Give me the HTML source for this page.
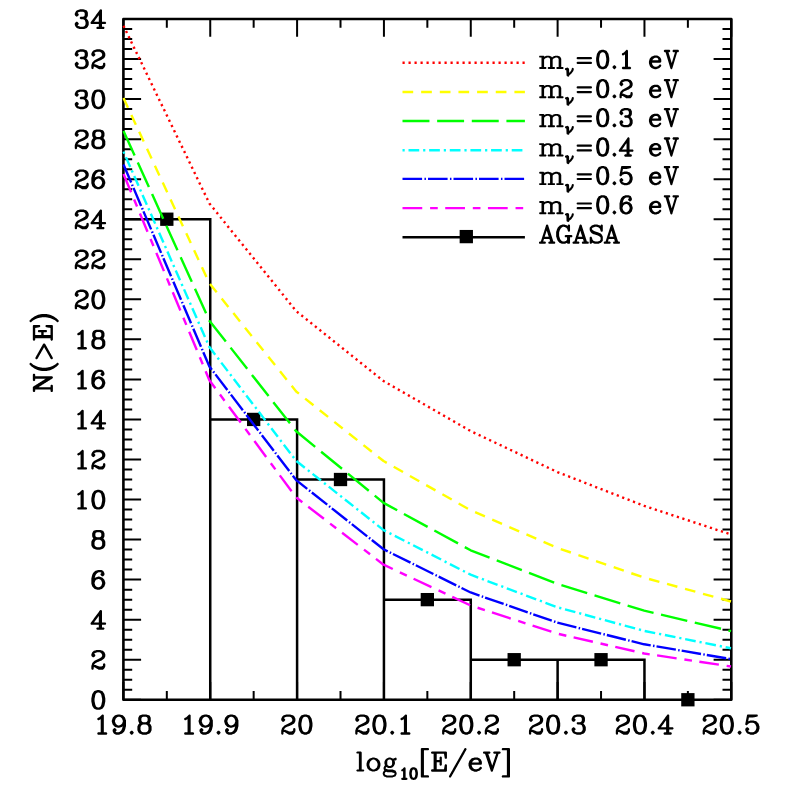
<!DOCTYPE html>
<html><head><meta charset="utf-8"><title>N(&gt;E) vs log10[E/eV]</title>
<style>html,body{margin:0;padding:0;background:#fff;font-family:"Liberation Sans",sans-serif}svg{display:block}</style>
</head><body>
<svg width="797" height="797" viewBox="0 0 797 797">
<rect width="797" height="797" fill="#fff"/>
<g>
<path d="M123.40 219.22L210.24 219.22L210.24 699.75M210.24 419.44L297.09 419.44L297.09 699.75M297.09 479.51L383.93 479.51L383.93 699.75M383.93 599.64L470.77 599.64L470.77 699.75M470.77 659.71L557.61 659.71L557.61 699.75M557.61 659.71L644.46 659.71L644.46 699.75" fill="none" stroke="#000" stroke-width="2.5" stroke-linejoin="miter"/>
<rect x="123.4" y="19.0" width="607.9" height="680.75" fill="none" stroke="#000" stroke-width="2.6" stroke-linejoin="round"/>
<path d="M123.40 699.75v-17.7M123.40 19.0v17.7M166.82 699.75v-8.8M166.82 19.0v8.8M210.24 699.75v-17.7M210.24 19.0v17.7M253.66 699.75v-8.8M253.66 19.0v8.8M297.09 699.75v-17.7M297.09 19.0v17.7M340.51 699.75v-8.8M340.51 19.0v8.8M383.93 699.75v-17.7M383.93 19.0v17.7M427.35 699.75v-8.8M427.35 19.0v8.8M470.77 699.75v-17.7M470.77 19.0v17.7M514.19 699.75v-8.8M514.19 19.0v8.8M557.61 699.75v-17.7M557.61 19.0v17.7M601.04 699.75v-8.8M601.04 19.0v8.8M644.46 699.75v-17.7M644.46 19.0v17.7M687.88 699.75v-8.8M687.88 19.0v8.8M731.30 699.75v-17.7M731.30 19.0v17.7M123.4 699.75h17.7M731.3 699.75h-17.7M123.4 689.74h8.8M731.3 689.74h-8.8M123.4 679.73h8.8M731.3 679.73h-8.8M123.4 669.72h8.8M731.3 669.72h-8.8M123.4 659.71h17.7M731.3 659.71h-17.7M123.4 649.69h8.8M731.3 649.69h-8.8M123.4 639.68h8.8M731.3 639.68h-8.8M123.4 629.67h8.8M731.3 629.67h-8.8M123.4 619.66h17.7M731.3 619.66h-17.7M123.4 609.65h8.8M731.3 609.65h-8.8M123.4 599.64h8.8M731.3 599.64h-8.8M123.4 589.63h8.8M731.3 589.63h-8.8M123.4 579.62h17.7M731.3 579.62h-17.7M123.4 569.61h8.8M731.3 569.61h-8.8M123.4 559.60h8.8M731.3 559.60h-8.8M123.4 549.58h8.8M731.3 549.58h-8.8M123.4 539.57h17.7M731.3 539.57h-17.7M123.4 529.56h8.8M731.3 529.56h-8.8M123.4 519.55h8.8M731.3 519.55h-8.8M123.4 509.54h8.8M731.3 509.54h-8.8M123.4 499.53h17.7M731.3 499.53h-17.7M123.4 489.52h8.8M731.3 489.52h-8.8M123.4 479.51h8.8M731.3 479.51h-8.8M123.4 469.50h8.8M731.3 469.50h-8.8M123.4 459.49h17.7M731.3 459.49h-17.7M123.4 449.47h8.8M731.3 449.47h-8.8M123.4 439.46h8.8M731.3 439.46h-8.8M123.4 429.45h8.8M731.3 429.45h-8.8M123.4 419.44h17.7M731.3 419.44h-17.7M123.4 409.43h8.8M731.3 409.43h-8.8M123.4 399.42h8.8M731.3 399.42h-8.8M123.4 389.41h8.8M731.3 389.41h-8.8M123.4 379.40h17.7M731.3 379.40h-17.7M123.4 369.39h8.8M731.3 369.39h-8.8M123.4 359.38h8.8M731.3 359.38h-8.8M123.4 349.36h8.8M731.3 349.36h-8.8M123.4 339.35h17.7M731.3 339.35h-17.7M123.4 329.34h8.8M731.3 329.34h-8.8M123.4 319.33h8.8M731.3 319.33h-8.8M123.4 309.32h8.8M731.3 309.32h-8.8M123.4 299.31h17.7M731.3 299.31h-17.7M123.4 289.30h8.8M731.3 289.30h-8.8M123.4 279.29h8.8M731.3 279.29h-8.8M123.4 269.28h8.8M731.3 269.28h-8.8M123.4 259.26h17.7M731.3 259.26h-17.7M123.4 249.25h8.8M731.3 249.25h-8.8M123.4 239.24h8.8M731.3 239.24h-8.8M123.4 229.23h8.8M731.3 229.23h-8.8M123.4 219.22h17.7M731.3 219.22h-17.7M123.4 209.21h8.8M731.3 209.21h-8.8M123.4 199.20h8.8M731.3 199.20h-8.8M123.4 189.19h8.8M731.3 189.19h-8.8M123.4 179.18h17.7M731.3 179.18h-17.7M123.4 169.17h8.8M731.3 169.17h-8.8M123.4 159.15h8.8M731.3 159.15h-8.8M123.4 149.14h8.8M731.3 149.14h-8.8M123.4 139.13h17.7M731.3 139.13h-17.7M123.4 129.12h8.8M731.3 129.12h-8.8M123.4 119.11h8.8M731.3 119.11h-8.8M123.4 109.10h8.8M731.3 109.10h-8.8M123.4 99.09h17.7M731.3 99.09h-17.7M123.4 89.08h8.8M731.3 89.08h-8.8M123.4 79.07h8.8M731.3 79.07h-8.8M123.4 69.06h8.8M731.3 69.06h-8.8M123.4 59.04h17.7M731.3 59.04h-17.7M123.4 49.03h8.8M731.3 49.03h-8.8M123.4 39.02h8.8M731.3 39.02h-8.8M123.4 29.01h8.8M731.3 29.01h-8.8M123.4 19.00h17.7M731.3 19.00h-17.7" fill="none" stroke="#000" stroke-width="2.0"/>
<rect x="160.17" y="212.57" width="13.3" height="13.3" fill="#000"/>
<rect x="247.01" y="412.79" width="13.3" height="13.3" fill="#000"/>
<rect x="333.86" y="472.86" width="13.3" height="13.3" fill="#000"/>
<rect x="420.70" y="592.99" width="13.3" height="13.3" fill="#000"/>
<rect x="507.54" y="653.06" width="13.3" height="13.3" fill="#000"/>
<rect x="594.39" y="653.06" width="13.3" height="13.3" fill="#000"/>
<rect x="681.23" y="693.10" width="13.3" height="13.3" fill="#000"/>
<polyline points="123.50,25.80 209.39,203.43 296.17,311.04 383.56,381.05 470.64,431.06 557.43,472.07 644.21,505.87 731.00,534.48" fill="none" stroke="#ff0000" stroke-width="2.4" stroke-dasharray="2.2 3.6" stroke-linecap="butt" stroke-linejoin="round"/>
<polyline points="123.50,98.01 209.39,283.24 296.17,391.45 383.56,461.06 470.64,510.27 557.43,547.88 644.21,577.68 731.00,601.49" fill="none" stroke="#ffff00" stroke-width="2.4" stroke-dasharray="10.7 7.95" stroke-linecap="butt" stroke-linejoin="round"/>
<polyline points="123.50,131.01 209.39,320.64 296.17,431.26 383.56,502.87 470.64,550.28 557.43,583.88 644.21,610.69 731.00,631.09" fill="none" stroke="#00ff00" stroke-width="2.4" stroke-dasharray="26.95 7.69" stroke-linecap="butt" stroke-linejoin="round"/>
<polyline points="123.50,151.62 209.39,347.05 296.17,460.86 383.56,530.07 470.64,574.68 557.43,607.29 644.21,630.89 731.00,648.29" fill="none" stroke="#00ffff" stroke-width="2.4" stroke-dasharray="2.2 3.8 10.72 3.92" stroke-linecap="butt" stroke-linejoin="round"/>
<polyline points="123.50,164.42 209.39,366.45 296.17,480.07 383.56,549.28 470.64,592.48 557.43,622.69 644.21,644.29 731.00,659.09" fill="none" stroke="#0000ff" stroke-width="2.4" stroke-dasharray="19.6 2.35 1.5 2.05" stroke-linecap="butt" stroke-linejoin="round"/>
<polyline points="123.50,174.02 209.39,380.25 296.17,497.47 383.56,564.68 470.64,605.49 557.43,633.69 644.21,653.49 731.00,666.50" fill="none" stroke="#ff00ff" stroke-width="2.4" stroke-dasharray="19.75 7.85 7.65 7.47" stroke-linecap="butt" stroke-linejoin="round"/>
<line x1="402.5" y1="62.8" x2="524.9" y2="62.8" stroke="#ff0000" stroke-width="2.4" stroke-dasharray="2.2 3.8" stroke-linecap="butt"/>
<line x1="402.5" y1="92.0" x2="524.9" y2="92.0" stroke="#ffff00" stroke-width="2.4" stroke-dasharray="10.7 7.95" stroke-linecap="butt"/>
<line x1="402.5" y1="121.0" x2="524.9" y2="121.0" stroke="#00ff00" stroke-width="2.4" stroke-dasharray="26.95 7.69" stroke-linecap="butt"/>
<line x1="402.5" y1="150.3" x2="524.9" y2="150.3" stroke="#00ffff" stroke-width="2.4" stroke-dasharray="2.2 3.8 10.72 3.92" stroke-linecap="butt"/>
<line x1="402.5" y1="178.9" x2="524.9" y2="178.9" stroke="#0000ff" stroke-width="2.4" stroke-dasharray="19.6 2.35 1.5 2.05" stroke-linecap="butt"/>
<line x1="402.5" y1="208.1" x2="524.9" y2="208.1" stroke="#ff00ff" stroke-width="2.4" stroke-dasharray="19.75 7.85 7.65 7.47" stroke-linecap="butt"/>
<line x1="402.5" y1="237.3" x2="524.9" y2="237.3" stroke="#000" stroke-width="2.4"/>
<rect x="459.65" y="229.95" width="13.3" height="13.3" fill="#000"/>
</g>
<g fill="#000" fill-rule="evenodd" stroke="none">
<path d="M97.22 690.06L97.16 690.13L96.95 690.13L96.74 690.27L96.60 690.27L96.53 690.34L96.39 690.34L96.33 690.41L96.19 690.41L96.12 690.47L95.98 690.47L94.46 691.03L93.97 691.44L92.45 693.73L92.11 694.56L92.11 694.83L92.04 694.90L92.04 695.18L91.97 695.25L91.97 695.52L91.90 695.59L91.90 695.87L91.83 695.94L91.83 696.22L91.76 696.28L91.76 696.56L91.69 696.63L91.69 696.91L91.62 696.98L91.62 697.25L91.55 697.32L91.55 697.60L91.48 697.67L91.48 697.94L91.41 698.01L91.41 698.29L91.34 698.36L91.34 701.54L91.41 701.61L91.41 701.89L91.48 701.96L91.48 702.23L91.55 702.30L91.55 702.58L91.62 702.65L91.62 702.92L91.69 702.99L91.69 703.27L91.76 703.34L91.76 703.62L91.83 703.69L91.83 703.96L91.90 704.03L91.90 704.31L91.97 704.38L91.97 704.65L92.04 704.72L92.04 705.00L92.11 705.07L92.11 705.35L92.17 705.41L92.24 705.76L92.45 706.18L93.97 708.46L94.46 708.87L94.73 709.01L96.74 709.63L96.95 709.77L97.22 709.77L97.29 709.84L99.37 709.84L99.44 709.77L99.71 709.77L99.92 709.63L100.06 709.63L100.13 709.56L100.27 709.56L100.34 709.50L100.47 709.50L100.54 709.43L100.68 709.43L102.20 708.87L102.69 708.46L104.21 706.18L104.56 705.35L104.56 705.07L104.62 705.00L104.62 704.72L104.69 704.65L104.69 704.38L104.76 704.31L104.76 704.03L104.83 703.96L104.83 703.69L104.90 703.62L104.90 703.34L104.97 703.27L104.97 702.99L105.04 702.92L105.04 702.65L105.11 702.58L105.11 702.30L105.18 702.23L105.18 701.96L105.25 701.89L105.25 701.61L105.32 701.54L105.32 698.36L105.25 698.29L105.25 698.01L105.18 697.94L105.18 697.67L105.11 697.60L105.11 697.32L105.04 697.25L105.04 696.98L104.97 696.91L104.97 696.63L104.90 696.56L104.90 696.28L104.83 696.22L104.83 695.94L104.76 695.87L104.76 695.59L104.69 695.52L104.69 695.25L104.62 695.18L104.62 694.90L104.56 694.83L104.56 694.56L104.49 694.49L104.42 694.14L104.21 693.73L102.69 691.44L102.20 691.03L101.93 690.89L99.92 690.27L99.71 690.13L99.44 690.13L99.37 690.06ZM97.78 692.41L98.88 692.41L99.99 692.96L100.61 693.52L101.37 695.04L101.44 695.59L101.51 695.66L101.51 695.94L101.58 696.01L101.58 696.28L101.65 696.35L101.65 696.63L101.72 696.70L101.72 696.98L101.79 697.05L101.79 697.32L101.86 697.39L101.86 697.67L101.93 697.74L101.93 698.01L102.00 698.08L102.00 698.36L102.07 698.43L102.07 698.71L102.14 698.77L102.14 701.13L102.07 701.20L102.07 701.47L102.00 701.54L102.00 701.82L101.93 701.89L101.93 702.16L101.86 702.23L101.86 702.51L101.79 702.58L101.79 702.86L101.72 702.92L101.72 703.20L101.65 703.27L101.65 703.55L101.58 703.62L101.58 703.89L101.51 703.96L101.51 704.24L101.44 704.31L101.44 704.58L101.37 704.65L101.31 705.07L100.61 706.38L99.99 706.94L98.88 707.49L97.78 707.49L96.67 706.94L96.05 706.38L95.29 704.86L95.22 704.31L95.15 704.24L95.15 703.96L95.08 703.89L95.08 703.62L95.01 703.55L95.01 703.27L94.94 703.20L94.94 702.92L94.87 702.86L94.87 702.58L94.80 702.51L94.80 702.23L94.73 702.16L94.73 701.89L94.67 701.82L94.67 701.54L94.60 701.47L94.60 701.20L94.53 701.13L94.53 698.77L94.60 698.71L94.60 698.43L94.67 698.36L94.67 698.08L94.73 698.01L94.73 697.74L94.80 697.67L94.80 697.39L94.87 697.32L94.87 697.05L94.94 696.98L94.94 696.70L95.01 696.63L95.01 696.35L95.08 696.28L95.08 696.01L95.15 695.94L95.15 695.66L95.22 695.59L95.22 695.32L95.29 695.25L95.36 694.83L96.05 693.52L96.67 692.96Z"/>
<path d="M93.90 650.85L93.35 651.19L92.24 652.37L91.48 653.89L91.41 654.30L91.34 654.37L91.34 655.48L91.41 655.55L91.48 655.89L91.69 656.17L92.80 657.21L93.14 657.28L93.21 657.35L93.49 657.35L93.56 657.28L93.90 657.21L95.01 656.17L95.29 655.76L95.29 655.55L95.36 655.48L95.29 654.93L95.01 654.51L94.25 653.75L94.39 653.47L94.94 652.99L95.08 652.99L96.60 652.44L96.81 652.44L96.88 652.37L99.71 652.37L101.03 653.06L101.58 653.68L102.14 654.79L102.14 655.89L101.65 656.86L101.31 657.21L99.30 658.52L94.53 660.87L94.25 661.08L92.52 662.81L92.17 663.36L92.17 663.50L92.11 663.57L92.11 663.71L92.04 663.78L92.04 663.92L91.97 663.99L91.97 664.13L91.41 665.65L91.41 665.92L91.34 665.99L91.34 668.76L91.41 668.83L91.41 669.04L91.48 669.17L92.11 669.73L92.66 669.80L92.73 669.73L93.07 669.66L93.63 669.04L93.63 668.83L93.70 668.76L93.70 667.45L93.83 667.31L94.67 667.31L95.29 667.65L95.43 667.79L95.63 667.86L95.77 668.00L95.98 668.07L96.12 668.21L96.33 668.28L96.46 668.41L96.67 668.48L96.81 668.62L97.02 668.69L97.16 668.83L97.36 668.90L97.50 669.04L97.71 669.11L97.85 669.24L98.05 669.31L98.19 669.45L98.40 669.52L98.54 669.66L98.68 669.66L98.75 669.73L98.95 669.73L99.02 669.80L102.62 669.80L102.69 669.73L102.90 669.73L103.24 669.52L104.42 668.28L105.18 666.75L105.18 666.62L105.32 666.34L105.32 664.33L105.25 664.26L105.18 663.92L104.69 663.43L104.35 663.36L104.28 663.30L104.00 663.30L103.93 663.36L103.59 663.43L103.03 664.06L103.03 664.26L102.97 664.33L102.97 665.65L102.48 666.06L101.37 666.62L99.37 666.62L99.16 666.48L99.02 666.48L98.81 666.34L98.68 666.34L98.47 666.20L98.33 666.20L98.12 666.06L97.98 666.06L97.78 665.92L97.64 665.92L97.43 665.79L97.29 665.79L97.09 665.65L96.95 665.65L96.74 665.51L96.60 665.51L95.70 665.09L95.29 665.02L95.22 664.96L94.25 664.96L94.18 664.82L94.39 664.26L95.63 663.02L95.84 662.88L97.57 662.05L97.71 662.05L97.92 661.91L98.05 661.91L98.26 661.77L98.40 661.77L98.61 661.64L98.75 661.64L98.95 661.50L99.09 661.50L99.30 661.36L99.44 661.36L99.64 661.22L99.78 661.22L99.99 661.08L100.13 661.08L100.34 660.94L100.47 660.94L100.68 660.81L101.17 660.67L103.93 658.87L104.42 658.32L105.25 656.59L105.25 656.38L105.32 656.31L105.32 654.37L105.25 654.30L105.18 653.89L104.42 652.37L103.31 651.19L102.76 650.85L100.75 650.22L100.54 650.08L100.27 650.08L100.20 650.02L96.53 650.02L96.46 650.08L96.19 650.08L96.12 650.15Z"/>
<path d="M101.03 609.97L100.61 609.97L100.54 610.04L100.41 610.04L100.13 610.18L99.78 610.52L99.16 611.35L99.02 611.63L98.40 612.39L98.26 612.67L97.64 613.43L97.50 613.71L96.88 614.47L96.74 614.74L96.12 615.50L95.98 615.78L95.36 616.54L95.22 616.82L94.60 617.58L94.46 617.86L93.83 618.62L93.70 618.89L93.07 619.65L92.94 619.93L92.31 620.69L92.17 620.97L91.55 621.73L91.41 622.01L90.79 622.77L90.52 623.46L90.52 623.74L90.58 623.80L90.65 624.15L91.14 624.63L91.48 624.70L91.55 624.77L98.75 624.77L98.81 624.84L98.81 627.33L98.75 627.40L97.36 627.40L97.29 627.47L97.09 627.47L96.95 627.54L96.39 628.16L96.33 628.72L96.39 628.78L96.46 629.13L96.95 629.61L97.29 629.68L97.36 629.75L103.45 629.75L103.52 629.68L103.86 629.61L104.42 628.99L104.42 628.78L104.49 628.72L104.42 628.16L104.35 628.02L103.73 627.47L103.52 627.47L103.45 627.40L102.07 627.40L102.00 627.33L102.00 624.84L102.07 624.77L105.11 624.77L105.18 624.70L105.39 624.70L106.01 624.15L106.08 623.80L106.15 623.74L106.15 623.46L106.08 623.39L106.01 623.04L105.39 622.49L105.18 622.49L105.11 622.42L102.07 622.42L102.00 622.35L102.00 610.94L101.79 610.46L101.51 610.18ZM98.75 615.99L98.81 616.06L98.81 622.35L98.75 622.42L94.18 622.42L94.11 622.28L94.87 621.31L95.01 621.04L95.63 620.28L95.77 620.00L96.39 619.24L96.53 618.96L97.16 618.20L97.29 617.93Z"/>
<path d="M100.96 569.93L98.12 569.93L98.05 570.00L97.78 570.00L97.57 570.13L95.56 570.76L95.08 571.03L93.07 573.11L92.17 574.98L92.17 575.18L92.11 575.25L92.11 575.46L92.04 575.53L92.04 575.74L91.97 575.81L91.97 576.01L91.90 576.08L91.90 576.29L91.83 576.36L91.83 576.57L91.76 576.64L91.76 576.84L91.69 576.91L91.48 577.95L91.34 578.23L91.41 578.37L91.34 578.43L91.34 583.69L91.41 583.76L91.41 584.04L91.48 584.11L91.48 584.24L91.55 584.31L91.55 584.45L91.62 584.52L91.62 584.66L91.69 584.73L91.69 584.87L91.76 584.94L91.76 585.07L92.31 586.60L92.52 586.87L94.18 588.53L94.73 588.88L96.74 589.50L96.95 589.64L97.22 589.64L97.29 589.71L99.37 589.71L99.44 589.64L99.71 589.64L99.92 589.50L101.93 588.88L102.41 588.60L104.14 586.87L104.49 586.32L104.49 586.18L104.56 586.11L104.56 585.97L104.62 585.90L104.62 585.77L104.69 585.70L104.69 585.56L105.25 584.04L105.25 583.76L105.32 583.69L105.32 582.58L105.25 582.52L105.25 582.24L105.18 582.17L105.18 582.03L105.11 581.96L105.11 581.82L105.04 581.75L105.04 581.62L104.97 581.55L104.97 581.41L104.90 581.34L104.90 581.20L104.35 579.68L104.14 579.40L102.48 577.74L101.93 577.40L99.92 576.77L99.71 576.64L99.44 576.64L99.37 576.57L98.19 576.57L98.12 576.64L97.85 576.64L97.78 576.71L95.56 577.40L95.08 577.67L94.80 577.95L94.73 577.88L95.29 575.67L96.05 574.22L97.29 572.97L98.61 572.28L100.54 572.28L101.37 572.69L101.51 572.83L101.51 572.90L100.61 573.87L100.54 574.22L100.47 574.28L100.47 574.56L100.54 574.63L100.54 574.84L100.82 575.25L101.93 576.29L102.27 576.36L102.34 576.43L102.90 576.36L103.24 576.15L104.14 575.25L104.35 574.98L104.42 574.63L104.49 574.56L104.49 573.45L104.42 573.39L104.35 572.97L103.59 571.45L102.97 570.83L101.44 570.07L101.03 570.00ZM98.88 578.92L100.20 579.61L101.44 580.86L101.79 581.96L101.86 582.03L101.86 582.17L101.93 582.24L101.93 582.38L102.00 582.45L102.00 582.58L102.07 582.65L102.14 583.35L102.07 583.41L102.07 583.62L102.00 583.69L102.00 583.83L101.93 583.90L101.93 584.04L101.86 584.11L101.86 584.24L101.79 584.31L101.44 585.42L100.20 586.67L98.88 587.36L97.78 587.36L96.46 586.67L95.22 585.42L94.87 584.31L94.80 584.24L94.80 584.11L94.73 584.04L94.73 583.90L94.67 583.83L94.67 583.69L94.60 583.62L94.53 582.93L94.60 582.86L94.60 582.65L94.67 582.58L94.67 582.45L94.73 582.38L94.73 582.24L94.80 582.17L94.80 582.03L94.87 581.96L95.22 580.86L96.46 579.61L97.57 579.26L97.64 579.20L97.78 579.20L97.85 579.13L97.98 579.13L98.05 579.06L98.19 579.06L98.26 578.99Z"/>
<path d="M96.39 529.88L96.33 529.95L96.12 529.95L95.91 530.09L95.77 530.09L95.70 530.16L95.56 530.16L95.50 530.23L95.36 530.23L95.29 530.30L95.15 530.30L93.63 530.85L93.07 531.40L92.24 533.13L92.24 533.34L92.17 533.41L92.17 536.18L92.24 536.25L92.31 536.66L93.07 538.18L93.35 538.53L92.24 539.70L91.41 541.43L91.41 541.64L91.34 541.71L91.34 545.31L91.41 545.38L91.48 545.79L92.24 547.31L93.35 548.49L93.90 548.83L95.91 549.46L96.12 549.60L96.39 549.60L96.46 549.66L100.20 549.66L100.27 549.60L100.54 549.60L100.75 549.46L102.76 548.83L103.24 548.56L104.42 547.31L105.18 545.79L105.25 545.38L105.32 545.31L105.32 541.71L105.25 541.64L105.25 541.43L104.42 539.70L103.31 538.53L103.31 538.46L103.59 538.18L104.35 536.66L104.42 536.25L104.49 536.18L104.49 533.41L104.42 533.34L104.35 532.93L103.59 531.40L103.03 530.85L102.76 530.71L100.75 530.09L100.54 529.95L100.27 529.95L100.20 529.88ZM96.95 539.70L99.71 539.70L101.03 540.40L101.58 541.02L102.14 542.13L102.14 544.89L101.44 546.21L100.82 546.76L99.71 547.31L96.95 547.31L95.63 546.62L95.08 546.00L94.53 544.89L94.53 542.13L95.22 540.81L95.84 540.26ZM95.84 532.86L95.98 532.72L96.95 532.23L99.71 532.23L100.68 532.72L100.82 532.86L101.31 533.83L101.31 535.76L100.82 536.73L100.68 536.87L99.71 537.35L96.95 537.35L95.98 536.87L95.84 536.73L95.36 535.76L95.36 533.83Z"/>
<path d="M97.22 489.84L97.16 489.91L96.95 489.91L96.74 490.05L96.60 490.05L96.53 490.12L96.39 490.12L96.33 490.18L96.19 490.18L96.12 490.25L95.98 490.25L94.46 490.81L93.97 491.22L92.45 493.50L92.11 494.33L92.11 494.61L92.04 494.68L92.04 494.96L91.97 495.03L91.97 495.30L91.90 495.37L91.90 495.65L91.83 495.72L91.83 495.99L91.76 496.06L91.76 496.34L91.69 496.41L91.69 496.69L91.62 496.76L91.62 497.03L91.55 497.10L91.55 497.38L91.48 497.45L91.48 497.72L91.41 497.79L91.41 498.07L91.34 498.14L91.34 501.32L91.41 501.39L91.41 501.67L91.48 501.74L91.48 502.01L91.55 502.08L91.55 502.36L91.62 502.43L91.62 502.70L91.69 502.77L91.69 503.05L91.76 503.12L91.76 503.40L91.83 503.46L91.83 503.74L91.90 503.81L91.90 504.09L91.97 504.16L91.97 504.43L92.04 504.50L92.04 504.78L92.11 504.85L92.11 505.12L92.18 505.19L92.24 505.54L92.45 505.95L93.97 508.24L94.46 508.65L94.73 508.79L96.74 509.41L96.95 509.55L97.22 509.55L97.29 509.62L99.37 509.62L99.44 509.55L99.71 509.55L99.92 509.41L100.06 509.41L100.13 509.34L100.27 509.34L100.34 509.27L100.48 509.27L100.54 509.21L100.68 509.21L102.20 508.65L102.69 508.24L104.21 505.95L104.56 505.12L104.56 504.85L104.62 504.78L104.62 504.50L104.69 504.43L104.69 504.16L104.76 504.09L104.76 503.81L104.83 503.74L104.83 503.46L104.90 503.40L104.90 503.12L104.97 503.05L104.97 502.77L105.04 502.70L105.04 502.43L105.11 502.36L105.11 502.08L105.18 502.01L105.18 501.74L105.25 501.67L105.25 501.39L105.32 501.32L105.32 498.14L105.25 498.07L105.25 497.79L105.18 497.72L105.18 497.45L105.11 497.38L105.11 497.10L105.04 497.03L105.04 496.76L104.97 496.69L104.97 496.41L104.90 496.34L104.90 496.06L104.83 495.99L104.83 495.72L104.76 495.65L104.76 495.37L104.69 495.30L104.69 495.03L104.62 494.96L104.62 494.68L104.56 494.61L104.56 494.33L104.49 494.27L104.42 493.92L104.21 493.50L102.69 491.22L102.20 490.81L101.93 490.67L99.92 490.05L99.71 489.91L99.44 489.91L99.37 489.84ZM97.78 492.19L98.88 492.19L99.99 492.74L100.61 493.30L101.37 494.82L101.44 495.37L101.51 495.44L101.51 495.72L101.58 495.79L101.58 496.06L101.65 496.13L101.65 496.41L101.72 496.48L101.72 496.76L101.79 496.82L101.79 497.10L101.86 497.17L101.86 497.45L101.93 497.52L101.93 497.79L102.00 497.86L102.00 498.14L102.07 498.21L102.07 498.48L102.14 498.55L102.14 500.91L102.07 500.97L102.07 501.25L102.00 501.32L102.00 501.60L101.93 501.67L101.93 501.94L101.86 502.01L101.86 502.29L101.79 502.36L101.79 502.63L101.72 502.70L101.72 502.98L101.65 503.05L101.65 503.33L101.58 503.40L101.58 503.67L101.51 503.74L101.51 504.02L101.44 504.09L101.44 504.36L101.37 504.43L101.31 504.85L100.61 506.16L99.99 506.72L98.88 507.27L97.78 507.27L96.67 506.72L96.05 506.16L95.29 504.64L95.22 504.09L95.15 504.02L95.15 503.74L95.08 503.67L95.08 503.40L95.01 503.33L95.01 503.05L94.94 502.98L94.94 502.70L94.87 502.63L94.87 502.36L94.80 502.29L94.80 502.01L94.73 501.94L94.73 501.67L94.67 501.60L94.67 501.32L94.60 501.25L94.60 500.97L94.53 500.91L94.53 498.55L94.60 498.48L94.60 498.21L94.67 498.14L94.67 497.86L94.73 497.79L94.73 497.52L94.80 497.45L94.80 497.17L94.87 497.10L94.87 496.82L94.94 496.76L94.94 496.48L95.01 496.41L95.01 496.13L95.08 496.06L95.08 495.79L95.15 495.72L95.15 495.44L95.22 495.37L95.22 495.10L95.29 495.03L95.36 494.61L96.05 493.30L96.67 492.74ZM82.70 489.84L82.15 489.91L81.73 490.18L79.45 492.47L77.93 493.23L77.37 493.78L77.30 494.13L77.23 494.20L77.23 494.47L77.30 494.54L77.37 494.89L77.86 495.37L78.20 495.44L78.27 495.51L78.55 495.51L78.62 495.44L79.03 495.37L80.49 494.61L80.56 494.68L80.56 507.20L80.49 507.27L78.27 507.27L78.20 507.34L77.86 507.41L77.37 507.89L77.30 508.24L77.23 508.31L77.23 508.58L77.30 508.65L77.37 509.00L77.86 509.48L78.20 509.55L78.27 509.62L86.02 509.62L86.09 509.55L86.43 509.48L86.92 509.00L86.99 508.65L87.06 508.58L87.06 508.31L86.99 508.24L86.92 507.89L86.30 507.34L86.09 507.34L86.02 507.27L83.81 507.27L83.74 507.20L83.74 490.88L83.67 490.81L83.60 490.46L83.11 489.98L82.77 489.91Z"/>
<path d="M93.90 450.62L93.35 450.97L92.24 452.15L91.48 453.67L91.41 454.08L91.34 454.15L91.34 455.26L91.41 455.33L91.48 455.67L91.69 455.95L92.80 456.99L93.14 457.06L93.21 457.13L93.49 457.13L93.56 457.06L93.90 456.99L95.01 455.95L95.29 455.54L95.29 455.33L95.36 455.26L95.29 454.71L95.01 454.29L94.25 453.53L94.39 453.25L94.94 452.77L95.08 452.77L96.60 452.22L96.81 452.22L96.88 452.15L99.71 452.15L101.03 452.84L101.58 453.46L102.14 454.57L102.14 455.67L101.65 456.64L101.31 456.99L99.30 458.30L94.53 460.65L94.25 460.86L92.52 462.59L92.18 463.14L92.18 463.28L92.11 463.35L92.11 463.49L92.04 463.56L92.04 463.70L91.97 463.77L91.97 463.90L91.41 465.43L91.41 465.70L91.34 465.77L91.34 468.54L91.41 468.61L91.41 468.82L91.48 468.95L92.11 469.51L92.66 469.58L92.73 469.51L93.07 469.44L93.63 468.82L93.63 468.61L93.70 468.54L93.70 467.22L93.84 467.09L94.67 467.09L95.29 467.43L95.43 467.57L95.63 467.64L95.77 467.78L95.98 467.85L96.12 467.99L96.33 468.05L96.46 468.19L96.67 468.26L96.81 468.40L97.02 468.47L97.16 468.61L97.36 468.68L97.50 468.82L97.71 468.88L97.85 469.02L98.05 469.09L98.19 469.23L98.40 469.30L98.54 469.44L98.68 469.44L98.75 469.51L98.95 469.51L99.02 469.58L102.62 469.58L102.69 469.51L102.90 469.51L103.24 469.30L104.42 468.05L105.18 466.53L105.18 466.39L105.32 466.12L105.32 464.11L105.25 464.04L105.18 463.70L104.69 463.21L104.35 463.14L104.28 463.07L104.00 463.07L103.93 463.14L103.59 463.21L103.03 463.84L103.03 464.04L102.97 464.11L102.97 465.43L102.48 465.84L101.37 466.39L99.37 466.39L99.16 466.26L99.02 466.26L98.81 466.12L98.68 466.12L98.47 465.98L98.33 465.98L98.12 465.84L97.98 465.84L97.78 465.70L97.64 465.70L97.43 465.56L97.29 465.56L97.09 465.43L96.95 465.43L96.74 465.29L96.60 465.29L95.70 464.87L95.29 464.80L95.22 464.73L94.25 464.73L94.18 464.60L94.39 464.04L95.63 462.80L95.84 462.66L97.57 461.83L97.71 461.83L97.92 461.69L98.05 461.69L98.26 461.55L98.40 461.55L98.61 461.41L98.75 461.41L98.95 461.28L99.09 461.28L99.30 461.14L99.44 461.14L99.65 461.00L99.78 461.00L99.99 460.86L100.13 460.86L100.34 460.72L100.48 460.72L100.68 460.58L101.17 460.45L103.93 458.65L104.42 458.09L105.25 456.37L105.25 456.16L105.32 456.09L105.32 454.15L105.25 454.08L105.18 453.67L104.42 452.15L103.31 450.97L102.76 450.62L100.75 450.00L100.54 449.86L100.27 449.86L100.20 449.79L96.53 449.79L96.46 449.86L96.19 449.86L96.12 449.93ZM82.70 449.79L82.15 449.86L81.73 450.14L79.45 452.42L77.93 453.18L77.37 453.74L77.30 454.08L77.23 454.15L77.23 454.43L77.30 454.50L77.37 454.84L77.86 455.33L78.20 455.40L78.27 455.47L78.55 455.47L78.62 455.40L79.03 455.33L80.49 454.57L80.56 454.64L80.56 467.16L80.49 467.22L78.27 467.22L78.20 467.29L77.86 467.36L77.37 467.85L77.30 468.19L77.23 468.26L77.23 468.54L77.30 468.61L77.37 468.95L77.86 469.44L78.20 469.51L78.27 469.58L86.02 469.58L86.09 469.51L86.43 469.44L86.92 468.95L86.99 468.61L87.06 468.54L87.06 468.26L86.99 468.19L86.92 467.85L86.30 467.29L86.09 467.29L86.02 467.22L83.81 467.22L83.74 467.16L83.74 450.83L83.67 450.76L83.60 450.42L83.11 449.93L82.77 449.86Z"/>
<path d="M101.03 409.75L100.61 409.75L100.54 409.82L100.41 409.82L100.13 409.96L99.78 410.30L99.16 411.13L99.02 411.41L98.40 412.17L98.26 412.45L97.64 413.21L97.50 413.49L96.88 414.25L96.74 414.52L96.12 415.28L95.98 415.56L95.36 416.32L95.22 416.60L94.60 417.36L94.46 417.64L93.84 418.40L93.70 418.67L93.07 419.43L92.94 419.71L92.31 420.47L92.18 420.75L91.55 421.51L91.41 421.79L90.79 422.55L90.52 423.24L90.52 423.51L90.58 423.58L90.65 423.93L91.14 424.41L91.48 424.48L91.55 424.55L98.75 424.55L98.81 424.62L98.81 427.11L98.75 427.18L97.36 427.18L97.29 427.25L97.09 427.25L96.95 427.32L96.39 427.94L96.33 428.49L96.39 428.56L96.46 428.91L96.95 429.39L97.29 429.46L97.36 429.53L103.45 429.53L103.52 429.46L103.86 429.39L104.42 428.77L104.42 428.56L104.49 428.49L104.42 427.94L104.35 427.80L103.73 427.25L103.52 427.25L103.45 427.18L102.07 427.18L102.00 427.11L102.00 424.62L102.07 424.55L105.11 424.55L105.18 424.48L105.39 424.48L106.01 423.93L106.08 423.58L106.15 423.51L106.15 423.24L106.08 423.17L106.01 422.82L105.39 422.27L105.18 422.27L105.11 422.20L102.07 422.20L102.00 422.13L102.00 410.72L101.79 410.23L101.51 409.96ZM98.75 415.77L98.81 415.84L98.81 422.13L98.75 422.20L94.18 422.20L94.11 422.06L94.87 421.09L95.01 420.82L95.63 420.06L95.77 419.78L96.39 419.02L96.53 418.74L97.16 417.98L97.29 417.70ZM82.70 409.75L82.15 409.82L81.73 410.10L79.45 412.38L77.93 413.14L77.37 413.69L77.30 414.04L77.23 414.11L77.23 414.38L77.30 414.45L77.37 414.80L77.86 415.28L78.20 415.35L78.27 415.42L78.55 415.42L78.62 415.35L79.03 415.28L80.49 414.52L80.56 414.59L80.56 427.11L80.49 427.18L78.27 427.18L78.20 427.25L77.86 427.32L77.37 427.80L77.30 428.15L77.23 428.22L77.23 428.49L77.30 428.56L77.37 428.91L77.86 429.39L78.20 429.46L78.27 429.53L86.02 429.53L86.09 429.46L86.43 429.39L86.92 428.91L86.99 428.56L87.06 428.49L87.06 428.22L86.99 428.15L86.92 427.80L86.30 427.25L86.09 427.25L86.02 427.18L83.81 427.18L83.74 427.11L83.74 410.79L83.67 410.72L83.60 410.37L83.11 409.89L82.77 409.82Z"/>
<path d="M100.96 369.71L98.12 369.71L98.05 369.78L97.78 369.78L97.57 369.91L95.56 370.54L95.08 370.81L93.07 372.89L92.18 374.76L92.18 374.96L92.11 375.03L92.11 375.24L92.04 375.31L92.04 375.52L91.97 375.59L91.97 375.79L91.90 375.86L91.90 376.07L91.83 376.14L91.83 376.35L91.76 376.42L91.76 376.62L91.69 376.69L91.48 377.73L91.34 378.01L91.41 378.14L91.34 378.21L91.34 383.47L91.41 383.54L91.41 383.82L91.48 383.89L91.48 384.02L91.55 384.09L91.55 384.23L91.62 384.30L91.62 384.44L91.69 384.51L91.69 384.65L91.76 384.72L91.76 384.85L92.31 386.38L92.52 386.65L94.18 388.31L94.73 388.66L96.74 389.28L96.95 389.42L97.22 389.42L97.29 389.49L99.37 389.49L99.44 389.42L99.71 389.42L99.92 389.28L101.93 388.66L102.41 388.38L104.14 386.65L104.49 386.10L104.49 385.96L104.56 385.89L104.56 385.75L104.62 385.68L104.62 385.55L104.69 385.48L104.69 385.34L105.25 383.82L105.25 383.54L105.32 383.47L105.32 382.36L105.25 382.29L105.25 382.02L105.18 381.95L105.18 381.81L105.11 381.74L105.11 381.60L105.04 381.53L105.04 381.40L104.97 381.33L104.97 381.19L104.90 381.12L104.90 380.98L104.35 379.46L104.14 379.18L102.48 377.52L101.93 377.18L99.92 376.55L99.71 376.42L99.44 376.42L99.37 376.35L98.19 376.35L98.12 376.42L97.85 376.42L97.78 376.48L95.56 377.18L95.08 377.45L94.80 377.73L94.73 377.66L95.29 375.45L96.05 373.99L97.29 372.75L98.61 372.06L100.54 372.06L101.37 372.47L101.51 372.61L101.51 372.68L100.61 373.65L100.54 373.99L100.48 374.06L100.48 374.34L100.54 374.41L100.54 374.62L100.82 375.03L101.93 376.07L102.27 376.14L102.34 376.21L102.90 376.14L103.24 375.93L104.14 375.03L104.35 374.76L104.42 374.41L104.49 374.34L104.49 373.23L104.42 373.16L104.35 372.75L103.59 371.23L102.97 370.61L101.44 369.84L101.03 369.78ZM98.88 378.70L100.20 379.39L101.44 380.63L101.79 381.74L101.86 381.81L101.86 381.95L101.93 382.02L101.93 382.16L102.00 382.23L102.00 382.36L102.07 382.43L102.14 383.12L102.07 383.19L102.07 383.40L102.00 383.47L102.00 383.61L101.93 383.68L101.93 383.82L101.86 383.89L101.86 384.02L101.79 384.09L101.44 385.20L100.20 386.44L98.88 387.14L97.78 387.14L96.46 386.44L95.22 385.20L94.87 384.09L94.80 384.02L94.80 383.89L94.73 383.82L94.73 383.68L94.67 383.61L94.67 383.47L94.60 383.40L94.53 382.71L94.60 382.64L94.60 382.43L94.67 382.36L94.67 382.23L94.73 382.16L94.73 382.02L94.80 381.95L94.80 381.81L94.87 381.74L95.22 380.63L96.46 379.39L97.57 379.04L97.64 378.97L97.78 378.97L97.85 378.91L97.98 378.91L98.05 378.84L98.19 378.84L98.26 378.77ZM82.70 369.71L82.15 369.78L81.73 370.05L79.45 372.33L77.93 373.10L77.37 373.65L77.30 373.99L77.23 374.06L77.23 374.34L77.30 374.41L77.37 374.76L77.86 375.24L78.20 375.31L78.27 375.38L78.55 375.38L78.62 375.31L79.03 375.24L80.49 374.48L80.56 374.55L80.56 387.07L80.49 387.14L78.27 387.14L78.20 387.21L77.86 387.27L77.37 387.76L77.30 388.10L77.23 388.17L77.23 388.45L77.30 388.52L77.37 388.87L77.86 389.35L78.20 389.42L78.27 389.49L86.02 389.49L86.09 389.42L86.43 389.35L86.92 388.87L86.99 388.52L87.06 388.45L87.06 388.17L86.99 388.10L86.92 387.76L86.30 387.21L86.09 387.21L86.02 387.14L83.81 387.14L83.74 387.07L83.74 370.74L83.67 370.67L83.60 370.33L83.11 369.84L82.77 369.78Z"/>
<path d="M96.39 329.66L96.33 329.73L96.12 329.73L95.91 329.87L95.77 329.87L95.70 329.94L95.56 329.94L95.50 330.01L95.36 330.01L95.29 330.08L95.15 330.08L93.63 330.63L93.07 331.18L92.24 332.91L92.24 333.12L92.18 333.19L92.18 335.96L92.24 336.03L92.31 336.44L93.07 337.96L93.35 338.31L92.24 339.48L91.41 341.21L91.41 341.42L91.34 341.49L91.34 345.09L91.41 345.16L91.48 345.57L92.24 347.09L93.35 348.27L93.90 348.61L95.91 349.24L96.12 349.37L96.39 349.37L96.46 349.44L100.20 349.44L100.27 349.37L100.54 349.37L100.75 349.24L102.76 348.61L103.24 348.34L104.42 347.09L105.18 345.57L105.25 345.16L105.32 345.09L105.32 341.49L105.25 341.42L105.25 341.21L104.42 339.48L103.31 338.31L103.31 338.24L103.59 337.96L104.35 336.44L104.42 336.03L104.49 335.96L104.49 333.19L104.42 333.12L104.35 332.71L103.59 331.18L103.03 330.63L102.76 330.49L100.75 329.87L100.54 329.73L100.27 329.73L100.20 329.66ZM96.95 339.48L99.71 339.48L101.03 340.18L101.58 340.80L102.14 341.90L102.14 344.67L101.44 345.99L100.82 346.54L99.71 347.09L96.95 347.09L95.63 346.40L95.08 345.78L94.53 344.67L94.53 341.90L95.22 340.59L95.84 340.04ZM95.84 332.64L95.98 332.50L96.95 332.01L99.71 332.01L100.68 332.50L100.82 332.64L101.31 333.60L101.31 335.54L100.82 336.51L100.68 336.65L99.71 337.13L96.95 337.13L95.98 336.65L95.84 336.51L95.36 335.54L95.36 333.60ZM82.70 329.66L82.15 329.73L81.73 330.01L79.45 332.29L77.93 333.05L77.37 333.60L77.30 333.95L77.23 334.02L77.23 334.30L77.30 334.37L77.37 334.71L77.86 335.20L78.20 335.26L78.27 335.33L78.55 335.33L78.62 335.26L79.03 335.20L80.49 334.43L80.56 334.50L80.56 347.02L80.49 347.09L78.27 347.09L78.20 347.16L77.86 347.23L77.37 347.71L77.30 348.06L77.23 348.13L77.23 348.41L77.30 348.48L77.37 348.82L77.86 349.31L78.20 349.37L78.27 349.44L86.02 349.44L86.09 349.37L86.43 349.31L86.92 348.82L86.99 348.48L87.06 348.41L87.06 348.13L86.99 348.06L86.92 347.71L86.30 347.16L86.09 347.16L86.02 347.09L83.81 347.09L83.74 347.02L83.74 330.70L83.67 330.63L83.60 330.28L83.11 329.80L82.77 329.73Z"/>
<path d="M97.22 289.62L97.16 289.69L96.95 289.69L96.74 289.83L96.60 289.83L96.53 289.89L96.39 289.89L96.33 289.96L96.19 289.96L96.12 290.03L95.98 290.03L94.46 290.59L93.97 291.00L92.45 293.28L92.11 294.11L92.11 294.39L92.04 294.46L92.04 294.74L91.97 294.81L91.97 295.08L91.90 295.15L91.90 295.43L91.83 295.50L91.83 295.77L91.76 295.84L91.76 296.12L91.69 296.19L91.69 296.47L91.62 296.53L91.62 296.81L91.55 296.88L91.55 297.16L91.48 297.23L91.48 297.50L91.41 297.57L91.41 297.85L91.34 297.92L91.34 301.10L91.41 301.17L91.41 301.45L91.48 301.51L91.48 301.79L91.55 301.86L91.55 302.14L91.62 302.21L91.62 302.48L91.69 302.55L91.69 302.83L91.76 302.90L91.76 303.17L91.83 303.24L91.83 303.52L91.90 303.59L91.90 303.87L91.97 303.94L91.97 304.21L92.04 304.28L92.04 304.56L92.11 304.63L92.11 304.90L92.18 304.97L92.24 305.32L92.45 305.73L93.97 308.02L94.46 308.43L94.73 308.57L96.74 309.19L96.95 309.33L97.22 309.33L97.29 309.40L99.37 309.40L99.44 309.33L99.71 309.33L99.92 309.19L100.06 309.19L100.13 309.12L100.27 309.12L100.34 309.05L100.48 309.05L100.54 308.98L100.68 308.98L102.20 308.43L102.69 308.02L104.21 305.73L104.56 304.90L104.56 304.63L104.62 304.56L104.62 304.28L104.69 304.21L104.69 303.94L104.76 303.87L104.76 303.59L104.83 303.52L104.83 303.24L104.90 303.17L104.90 302.90L104.97 302.83L104.97 302.55L105.04 302.48L105.04 302.21L105.11 302.14L105.11 301.86L105.18 301.79L105.18 301.51L105.25 301.45L105.25 301.17L105.32 301.10L105.32 297.92L105.25 297.85L105.25 297.57L105.18 297.50L105.18 297.23L105.11 297.16L105.11 296.88L105.04 296.81L105.04 296.53L104.97 296.47L104.97 296.19L104.90 296.12L104.90 295.84L104.83 295.77L104.83 295.50L104.76 295.43L104.76 295.15L104.69 295.08L104.69 294.81L104.62 294.74L104.62 294.46L104.56 294.39L104.56 294.11L104.49 294.04L104.42 293.70L104.21 293.28L102.69 291.00L102.20 290.59L101.93 290.45L99.92 289.83L99.71 289.69L99.44 289.69L99.37 289.62ZM97.78 291.97L98.88 291.97L99.99 292.52L100.61 293.08L101.37 294.60L101.44 295.15L101.51 295.22L101.51 295.50L101.58 295.57L101.58 295.84L101.65 295.91L101.65 296.19L101.72 296.26L101.72 296.53L101.79 296.60L101.79 296.88L101.86 296.95L101.86 297.23L101.93 297.30L101.93 297.57L102.00 297.64L102.00 297.92L102.07 297.99L102.07 298.26L102.14 298.33L102.14 300.68L102.07 300.75L102.07 301.03L102.00 301.10L102.00 301.38L101.93 301.45L101.93 301.72L101.86 301.79L101.86 302.07L101.79 302.14L101.79 302.41L101.72 302.48L101.72 302.76L101.65 302.83L101.65 303.11L101.58 303.17L101.58 303.45L101.51 303.52L101.51 303.80L101.44 303.87L101.44 304.14L101.37 304.21L101.31 304.63L100.61 305.94L99.99 306.49L98.88 307.05L97.78 307.05L96.67 306.49L96.05 305.94L95.29 304.42L95.22 303.87L95.15 303.80L95.15 303.52L95.08 303.45L95.08 303.17L95.01 303.11L95.01 302.83L94.94 302.76L94.94 302.48L94.87 302.41L94.87 302.14L94.80 302.07L94.80 301.79L94.73 301.72L94.73 301.45L94.67 301.38L94.67 301.10L94.60 301.03L94.60 300.75L94.53 300.68L94.53 298.33L94.60 298.26L94.60 297.99L94.67 297.92L94.67 297.64L94.73 297.57L94.73 297.30L94.80 297.23L94.80 296.95L94.87 296.88L94.87 296.60L94.94 296.53L94.94 296.26L95.01 296.19L95.01 295.91L95.08 295.84L95.08 295.57L95.15 295.50L95.15 295.22L95.22 295.15L95.22 294.87L95.29 294.81L95.36 294.39L96.05 293.08L96.67 292.52ZM77.30 290.45L76.75 290.79L75.64 291.97L74.88 293.49L74.81 293.91L74.75 293.98L74.75 295.08L74.81 295.15L74.88 295.50L75.09 295.77L76.20 296.81L76.54 296.88L76.61 296.95L76.89 296.95L76.96 296.88L77.30 296.81L78.41 295.77L78.69 295.36L78.69 295.15L78.76 295.08L78.69 294.53L78.41 294.11L77.65 293.35L77.79 293.08L78.34 292.59L78.48 292.59L80.00 292.04L80.21 292.04L80.28 291.97L83.11 291.97L84.43 292.66L84.98 293.28L85.54 294.39L85.54 295.50L85.05 296.47L84.71 296.81L82.70 298.13L77.93 300.48L77.65 300.68L75.92 302.41L75.58 302.97L75.58 303.11L75.51 303.17L75.51 303.31L75.44 303.38L75.44 303.52L75.37 303.59L75.37 303.73L74.81 305.25L74.81 305.53L74.75 305.60L74.75 308.36L74.81 308.43L74.81 308.64L74.88 308.78L75.51 309.33L76.06 309.40L76.13 309.33L76.47 309.26L77.03 308.64L77.03 308.43L77.10 308.36L77.10 307.05L77.23 306.91L78.07 306.91L78.69 307.26L78.83 307.39L79.03 307.46L79.17 307.60L79.38 307.67L79.52 307.81L79.73 307.88L79.86 308.02L80.07 308.09L80.21 308.22L80.42 308.29L80.56 308.43L80.76 308.50L80.90 308.64L81.11 308.71L81.25 308.85L81.45 308.92L81.59 309.05L81.80 309.12L81.94 309.26L82.08 309.26L82.15 309.33L82.35 309.33L82.42 309.40L86.02 309.40L86.09 309.33L86.30 309.33L86.64 309.12L87.82 307.88L88.58 306.36L88.58 306.22L88.72 305.94L88.72 303.94L88.65 303.87L88.58 303.52L88.09 303.04L87.75 302.97L87.68 302.90L87.40 302.90L87.33 302.97L86.99 303.04L86.43 303.66L86.43 303.87L86.37 303.94L86.37 305.25L85.88 305.66L84.77 306.22L82.77 306.22L82.56 306.08L82.42 306.08L82.22 305.94L82.08 305.94L81.87 305.80L81.73 305.80L81.52 305.66L81.39 305.66L81.18 305.53L81.04 305.53L80.83 305.39L80.69 305.39L80.49 305.25L80.35 305.25L80.14 305.11L80.00 305.11L79.10 304.70L78.69 304.63L78.62 304.56L77.65 304.56L77.58 304.42L77.79 303.87L79.03 302.62L79.24 302.48L80.97 301.65L81.11 301.65L81.32 301.51L81.45 301.51L81.66 301.38L81.80 301.38L82.01 301.24L82.15 301.24L82.35 301.10L82.49 301.10L82.70 300.96L82.84 300.96L83.05 300.82L83.18 300.82L83.39 300.68L83.53 300.68L83.74 300.55L83.88 300.55L84.08 300.41L84.57 300.27L87.33 298.47L87.82 297.92L88.65 296.19L88.65 295.98L88.72 295.91L88.72 293.98L88.65 293.91L88.58 293.49L87.82 291.97L86.71 290.79L86.16 290.45L84.15 289.83L83.94 289.69L83.67 289.69L83.60 289.62L79.93 289.62L79.86 289.69L79.59 289.69L79.52 289.76Z"/>
<path d="M93.90 250.40L93.35 250.75L92.24 251.93L91.48 253.45L91.41 253.86L91.34 253.93L91.34 255.04L91.41 255.11L91.48 255.45L91.69 255.73L92.80 256.77L93.14 256.84L93.21 256.91L93.49 256.91L93.56 256.84L93.90 256.77L95.01 255.73L95.29 255.31L95.29 255.11L95.36 255.04L95.29 254.48L95.01 254.07L94.25 253.31L94.39 253.03L94.94 252.55L95.08 252.55L96.60 251.99L96.81 251.99L96.88 251.93L99.71 251.93L101.03 252.62L101.58 253.24L102.14 254.35L102.14 255.45L101.65 256.42L101.31 256.77L99.30 258.08L94.53 260.43L94.25 260.64L92.52 262.37L92.18 262.92L92.18 263.06L92.11 263.13L92.11 263.27L92.04 263.34L92.04 263.48L91.97 263.55L91.97 263.68L91.41 265.21L91.41 265.48L91.34 265.55L91.34 268.32L91.41 268.39L91.41 268.59L91.48 268.73L92.11 269.29L92.66 269.36L92.73 269.29L93.07 269.22L93.63 268.59L93.63 268.39L93.70 268.32L93.70 267.00L93.84 266.87L94.67 266.87L95.29 267.21L95.43 267.35L95.63 267.42L95.77 267.56L95.98 267.63L96.12 267.76L96.33 267.83L96.46 267.97L96.67 268.04L96.81 268.18L97.02 268.25L97.16 268.39L97.36 268.46L97.50 268.59L97.71 268.66L97.85 268.80L98.05 268.87L98.19 269.01L98.40 269.08L98.54 269.22L98.68 269.22L98.75 269.29L98.95 269.29L99.02 269.36L102.62 269.36L102.69 269.29L102.90 269.29L103.24 269.08L104.42 267.83L105.18 266.31L105.18 266.17L105.32 265.90L105.32 263.89L105.25 263.82L105.18 263.48L104.69 262.99L104.35 262.92L104.28 262.85L104.00 262.85L103.93 262.92L103.59 262.99L103.03 263.61L103.03 263.82L102.97 263.89L102.97 265.21L102.48 265.62L101.37 266.17L99.37 266.17L99.16 266.04L99.02 266.04L98.81 265.90L98.68 265.90L98.47 265.76L98.33 265.76L98.12 265.62L97.98 265.62L97.78 265.48L97.64 265.48L97.43 265.34L97.29 265.34L97.09 265.21L96.95 265.21L96.74 265.07L96.60 265.07L95.70 264.65L95.29 264.58L95.22 264.51L94.25 264.51L94.18 264.38L94.39 263.82L95.63 262.58L95.84 262.44L97.57 261.61L97.71 261.61L97.92 261.47L98.05 261.47L98.26 261.33L98.40 261.33L98.61 261.19L98.75 261.19L98.95 261.06L99.09 261.06L99.30 260.92L99.44 260.92L99.65 260.78L99.78 260.78L99.99 260.64L100.13 260.64L100.34 260.50L100.48 260.50L100.68 260.36L101.17 260.23L103.93 258.43L104.42 257.87L105.25 256.14L105.25 255.94L105.32 255.87L105.32 253.93L105.25 253.86L105.18 253.45L104.42 251.93L103.31 250.75L102.76 250.40L100.75 249.78L100.54 249.64L100.27 249.64L100.20 249.57L96.53 249.57L96.46 249.64L96.19 249.64L96.12 249.71ZM77.30 250.40L76.75 250.75L75.64 251.93L74.88 253.45L74.81 253.86L74.75 253.93L74.75 255.04L74.81 255.11L74.88 255.45L75.09 255.73L76.20 256.77L76.54 256.84L76.61 256.91L76.89 256.91L76.96 256.84L77.30 256.77L78.41 255.73L78.69 255.31L78.69 255.11L78.76 255.04L78.69 254.48L78.41 254.07L77.65 253.31L77.79 253.03L78.34 252.55L78.48 252.55L80.00 251.99L80.21 251.99L80.28 251.93L83.11 251.93L84.43 252.62L84.98 253.24L85.54 254.35L85.54 255.45L85.05 256.42L84.71 256.77L82.70 258.08L77.93 260.43L77.65 260.64L75.92 262.37L75.58 262.92L75.58 263.06L75.51 263.13L75.51 263.27L75.44 263.34L75.44 263.48L75.37 263.55L75.37 263.68L74.81 265.21L74.81 265.48L74.75 265.55L74.75 268.32L74.81 268.39L74.81 268.59L74.88 268.73L75.51 269.29L76.06 269.36L76.13 269.29L76.47 269.22L77.03 268.59L77.03 268.39L77.10 268.32L77.10 267.00L77.23 266.87L78.07 266.87L78.69 267.21L78.83 267.35L79.03 267.42L79.17 267.56L79.38 267.63L79.52 267.76L79.73 267.83L79.86 267.97L80.07 268.04L80.21 268.18L80.42 268.25L80.56 268.39L80.76 268.46L80.90 268.59L81.11 268.66L81.25 268.80L81.45 268.87L81.59 269.01L81.80 269.08L81.94 269.22L82.08 269.22L82.15 269.29L82.35 269.29L82.42 269.36L86.02 269.36L86.09 269.29L86.30 269.29L86.64 269.08L87.82 267.83L88.58 266.31L88.58 266.17L88.72 265.90L88.72 263.89L88.65 263.82L88.58 263.48L88.09 262.99L87.75 262.92L87.68 262.85L87.40 262.85L87.33 262.92L86.99 262.99L86.43 263.61L86.43 263.82L86.37 263.89L86.37 265.21L85.88 265.62L84.77 266.17L82.77 266.17L82.56 266.04L82.42 266.04L82.22 265.90L82.08 265.90L81.87 265.76L81.73 265.76L81.52 265.62L81.39 265.62L81.18 265.48L81.04 265.48L80.83 265.34L80.69 265.34L80.49 265.21L80.35 265.21L80.14 265.07L80.00 265.07L79.10 264.65L78.69 264.58L78.62 264.51L77.65 264.51L77.58 264.38L77.79 263.82L79.03 262.58L79.24 262.44L80.97 261.61L81.11 261.61L81.32 261.47L81.45 261.47L81.66 261.33L81.80 261.33L82.01 261.19L82.15 261.19L82.35 261.06L82.49 261.06L82.70 260.92L82.84 260.92L83.05 260.78L83.18 260.78L83.39 260.64L83.53 260.64L83.74 260.50L83.88 260.50L84.08 260.36L84.57 260.23L87.33 258.43L87.82 257.87L88.65 256.14L88.65 255.94L88.72 255.87L88.72 253.93L88.65 253.86L88.58 253.45L87.82 251.93L86.71 250.75L86.16 250.40L84.15 249.78L83.94 249.64L83.67 249.64L83.60 249.57L79.93 249.57L79.86 249.64L79.59 249.64L79.52 249.71Z"/>
<path d="M101.03 209.53L100.61 209.53L100.54 209.60L100.41 209.60L100.13 209.74L99.78 210.08L99.16 210.91L99.02 211.19L98.40 211.95L98.26 212.23L97.64 212.99L97.50 213.26L96.88 214.03L96.74 214.30L96.12 215.06L95.98 215.34L95.36 216.10L95.22 216.38L94.60 217.14L94.46 217.41L93.84 218.18L93.70 218.45L93.07 219.21L92.94 219.49L92.31 220.25L92.18 220.53L91.55 221.29L91.41 221.56L90.79 222.33L90.52 223.02L90.52 223.29L90.58 223.36L90.65 223.71L91.14 224.19L91.48 224.26L91.55 224.33L98.75 224.33L98.81 224.40L98.81 226.89L98.75 226.96L97.36 226.96L97.29 227.03L97.09 227.03L96.95 227.10L96.39 227.72L96.33 228.27L96.39 228.34L96.46 228.69L96.95 229.17L97.29 229.24L97.36 229.31L103.45 229.31L103.52 229.24L103.86 229.17L104.42 228.55L104.42 228.34L104.49 228.27L104.42 227.72L104.35 227.58L103.73 227.03L103.52 227.03L103.45 226.96L102.07 226.96L102.00 226.89L102.00 224.40L102.07 224.33L105.11 224.33L105.18 224.26L105.39 224.26L106.01 223.71L106.08 223.36L106.15 223.29L106.15 223.02L106.08 222.95L106.01 222.60L105.39 222.05L105.18 222.05L105.11 221.98L102.07 221.98L102.00 221.91L102.00 210.50L101.79 210.01L101.51 209.74ZM98.75 215.55L98.81 215.62L98.81 221.91L98.75 221.98L94.18 221.98L94.11 221.84L94.87 220.87L95.01 220.60L95.63 219.84L95.77 219.56L96.39 218.80L96.53 218.52L97.16 217.76L97.29 217.48ZM77.30 210.36L76.75 210.71L75.64 211.88L74.88 213.40L74.81 213.82L74.75 213.89L74.75 214.99L74.81 215.06L74.88 215.41L75.09 215.69L76.20 216.72L76.54 216.79L76.61 216.86L76.89 216.86L76.96 216.79L77.30 216.72L78.41 215.69L78.69 215.27L78.69 215.06L78.76 214.99L78.69 214.44L78.41 214.03L77.65 213.26L77.79 212.99L78.34 212.50L78.48 212.50L80.00 211.95L80.21 211.95L80.28 211.88L83.11 211.88L84.43 212.57L84.98 213.20L85.54 214.30L85.54 215.41L85.05 216.38L84.71 216.72L82.70 218.04L77.93 220.39L77.65 220.60L75.92 222.33L75.58 222.88L75.58 223.02L75.51 223.09L75.51 223.22L75.44 223.29L75.44 223.43L75.37 223.50L75.37 223.64L74.81 225.16L74.81 225.44L74.75 225.51L74.75 228.27L74.81 228.34L74.81 228.55L74.88 228.69L75.51 229.24L76.06 229.31L76.13 229.24L76.47 229.17L77.03 228.55L77.03 228.34L77.10 228.27L77.10 226.96L77.23 226.82L78.07 226.82L78.69 227.17L78.83 227.31L79.03 227.37L79.17 227.51L79.38 227.58L79.52 227.72L79.73 227.79L79.86 227.93L80.07 228.00L80.21 228.14L80.42 228.20L80.56 228.34L80.76 228.41L80.90 228.55L81.11 228.62L81.25 228.76L81.45 228.83L81.59 228.97L81.80 229.03L81.94 229.17L82.08 229.17L82.15 229.24L82.35 229.24L82.42 229.31L86.02 229.31L86.09 229.24L86.30 229.24L86.64 229.03L87.82 227.79L88.58 226.27L88.58 226.13L88.72 225.85L88.72 223.85L88.65 223.78L88.58 223.43L88.09 222.95L87.75 222.88L87.68 222.81L87.40 222.81L87.33 222.88L86.99 222.95L86.43 223.57L86.43 223.78L86.37 223.85L86.37 225.16L85.88 225.58L84.77 226.13L82.77 226.13L82.56 225.99L82.42 225.99L82.22 225.85L82.08 225.85L81.87 225.71L81.73 225.71L81.52 225.58L81.39 225.58L81.18 225.44L81.04 225.44L80.83 225.30L80.69 225.30L80.49 225.16L80.35 225.16L80.14 225.02L80.00 225.02L79.10 224.61L78.69 224.54L78.62 224.47L77.65 224.47L77.58 224.33L77.79 223.78L79.03 222.53L79.24 222.39L80.97 221.56L81.11 221.56L81.32 221.43L81.45 221.43L81.66 221.29L81.80 221.29L82.01 221.15L82.15 221.15L82.35 221.01L82.49 221.01L82.70 220.87L82.84 220.87L83.05 220.73L83.18 220.73L83.39 220.60L83.53 220.60L83.74 220.46L83.88 220.46L84.08 220.32L84.57 220.18L87.33 218.38L87.82 217.83L88.65 216.10L88.65 215.89L88.72 215.82L88.72 213.89L88.65 213.82L88.58 213.40L87.82 211.88L86.71 210.71L86.16 210.36L84.15 209.74L83.94 209.60L83.67 209.60L83.60 209.53L79.93 209.53L79.86 209.60L79.59 209.60L79.52 209.67Z"/>
<path d="M100.96 169.49L98.12 169.49L98.05 169.55L97.78 169.55L97.57 169.69L95.56 170.32L95.08 170.59L93.07 172.67L92.18 174.53L92.18 174.74L92.11 174.81L92.11 175.02L92.04 175.09L92.04 175.30L91.97 175.36L91.97 175.57L91.90 175.64L91.90 175.85L91.83 175.92L91.83 176.13L91.76 176.19L91.76 176.40L91.69 176.47L91.48 177.51L91.34 177.79L91.41 177.92L91.34 177.99L91.34 183.25L91.41 183.32L91.41 183.60L91.48 183.66L91.48 183.80L91.55 183.87L91.55 184.01L91.62 184.08L91.62 184.22L91.69 184.29L91.69 184.43L91.76 184.49L91.76 184.63L92.31 186.15L92.52 186.43L94.18 188.09L94.73 188.44L96.74 189.06L96.95 189.20L97.22 189.20L97.29 189.27L99.37 189.27L99.44 189.20L99.71 189.20L99.92 189.06L101.93 188.44L102.41 188.16L104.14 186.43L104.49 185.88L104.49 185.74L104.56 185.67L104.56 185.53L104.62 185.46L104.62 185.32L104.69 185.26L104.69 185.12L105.25 183.60L105.25 183.32L105.32 183.25L105.32 182.14L105.25 182.07L105.25 181.80L105.18 181.73L105.18 181.59L105.11 181.52L105.11 181.38L105.04 181.31L105.04 181.17L104.97 181.11L104.97 180.97L104.90 180.90L104.90 180.76L104.35 179.24L104.14 178.96L102.48 177.30L101.93 176.96L99.92 176.33L99.71 176.19L99.44 176.19L99.37 176.13L98.19 176.13L98.12 176.19L97.85 176.19L97.78 176.26L95.56 176.96L95.08 177.23L94.80 177.51L94.73 177.44L95.29 175.23L96.05 173.77L97.29 172.53L98.61 171.84L100.54 171.84L101.37 172.25L101.51 172.39L101.51 172.46L100.61 173.43L100.54 173.77L100.48 173.84L100.48 174.12L100.54 174.19L100.54 174.40L100.82 174.81L101.93 175.85L102.27 175.92L102.34 175.99L102.90 175.92L103.24 175.71L104.14 174.81L104.35 174.53L104.42 174.19L104.49 174.12L104.49 173.01L104.42 172.94L104.35 172.53L103.59 171.01L102.97 170.38L101.44 169.62L101.03 169.55ZM98.88 178.48L100.20 179.17L101.44 180.41L101.79 181.52L101.86 181.59L101.86 181.73L101.93 181.80L101.93 181.94L102.00 182.00L102.00 182.14L102.07 182.21L102.14 182.90L102.07 182.97L102.07 183.18L102.00 183.25L102.00 183.39L101.93 183.46L101.93 183.60L101.86 183.66L101.86 183.80L101.79 183.87L101.44 184.98L100.20 186.22L98.88 186.92L97.78 186.92L96.46 186.22L95.22 184.98L94.87 183.87L94.80 183.80L94.80 183.66L94.73 183.60L94.73 183.46L94.67 183.39L94.67 183.25L94.60 183.18L94.53 182.49L94.60 182.42L94.60 182.21L94.67 182.14L94.67 182.00L94.73 181.94L94.73 181.80L94.80 181.73L94.80 181.59L94.87 181.52L95.22 180.41L96.46 179.17L97.57 178.82L97.64 178.75L97.78 178.75L97.85 178.68L97.98 178.68L98.05 178.62L98.19 178.62L98.26 178.55ZM77.30 170.32L76.75 170.66L75.64 171.84L74.88 173.36L74.81 173.77L74.75 173.84L74.75 174.95L74.81 175.02L74.88 175.36L75.09 175.64L76.20 176.68L76.54 176.75L76.61 176.82L76.89 176.82L76.96 176.75L77.30 176.68L78.41 175.64L78.69 175.23L78.69 175.02L78.76 174.95L78.69 174.40L78.41 173.98L77.65 173.22L77.79 172.94L78.34 172.46L78.48 172.46L80.00 171.91L80.21 171.91L80.28 171.84L83.11 171.84L84.43 172.53L84.98 173.15L85.54 174.26L85.54 175.36L85.05 176.33L84.71 176.68L82.70 177.99L77.93 180.34L77.65 180.55L75.92 182.28L75.58 182.83L75.58 182.97L75.51 183.04L75.51 183.18L75.44 183.25L75.44 183.39L75.37 183.46L75.37 183.60L74.81 185.12L74.81 185.39L74.75 185.46L74.75 188.23L74.81 188.30L74.81 188.51L74.88 188.64L75.51 189.20L76.06 189.27L76.13 189.20L76.47 189.13L77.03 188.51L77.03 188.30L77.10 188.23L77.10 186.92L77.23 186.78L78.07 186.78L78.69 187.12L78.83 187.26L79.03 187.33L79.17 187.47L79.38 187.54L79.52 187.68L79.73 187.75L79.86 187.88L80.07 187.95L80.21 188.09L80.42 188.16L80.56 188.30L80.76 188.37L80.90 188.51L81.11 188.58L81.25 188.71L81.45 188.78L81.59 188.92L81.80 188.99L81.94 189.13L82.08 189.13L82.15 189.20L82.35 189.20L82.42 189.27L86.02 189.27L86.09 189.20L86.30 189.20L86.64 188.99L87.82 187.75L88.58 186.22L88.58 186.09L88.72 185.81L88.72 183.80L88.65 183.73L88.58 183.39L88.09 182.90L87.75 182.83L87.68 182.77L87.40 182.77L87.33 182.83L86.99 182.90L86.43 183.53L86.43 183.73L86.37 183.80L86.37 185.12L85.88 185.53L84.77 186.09L82.77 186.09L82.56 185.95L82.42 185.95L82.22 185.81L82.08 185.81L81.87 185.67L81.73 185.67L81.52 185.53L81.39 185.53L81.18 185.39L81.04 185.39L80.83 185.26L80.69 185.26L80.49 185.12L80.35 185.12L80.14 184.98L80.00 184.98L79.10 184.56L78.69 184.49L78.62 184.43L77.65 184.43L77.58 184.29L77.79 183.73L79.03 182.49L79.24 182.35L80.97 181.52L81.11 181.52L81.32 181.38L81.45 181.38L81.66 181.24L81.80 181.24L82.01 181.11L82.15 181.11L82.35 180.97L82.49 180.97L82.70 180.83L82.84 180.83L83.05 180.69L83.18 180.69L83.39 180.55L83.53 180.55L83.74 180.41L83.88 180.41L84.08 180.28L84.57 180.14L87.33 178.34L87.82 177.79L88.65 176.06L88.65 175.85L88.72 175.78L88.72 173.84L88.65 173.77L88.58 173.36L87.82 171.84L86.71 170.66L86.16 170.32L84.15 169.69L83.94 169.55L83.67 169.55L83.60 169.49L79.93 169.49L79.86 169.55L79.59 169.55L79.52 169.62Z"/>
<path d="M96.39 129.44L96.33 129.51L96.12 129.51L95.91 129.65L95.77 129.65L95.70 129.72L95.56 129.72L95.50 129.79L95.36 129.79L95.29 129.86L95.15 129.86L93.63 130.41L93.07 130.96L92.24 132.69L92.24 132.90L92.18 132.97L92.18 135.74L92.24 135.80L92.31 136.22L93.07 137.74L93.35 138.09L92.24 139.26L91.41 140.99L91.41 141.20L91.34 141.27L91.34 144.87L91.41 144.93L91.48 145.35L92.24 146.87L93.35 148.05L93.90 148.39L95.91 149.02L96.12 149.15L96.39 149.15L96.46 149.22L100.20 149.22L100.27 149.15L100.54 149.15L100.75 149.02L102.76 148.39L103.24 148.12L104.42 146.87L105.18 145.35L105.25 144.93L105.32 144.87L105.32 141.27L105.25 141.20L105.25 140.99L104.42 139.26L103.31 138.09L103.31 138.02L103.59 137.74L104.35 136.22L104.42 135.80L104.49 135.74L104.49 132.97L104.42 132.90L104.35 132.48L103.59 130.96L103.03 130.41L102.76 130.27L100.75 129.65L100.54 129.51L100.27 129.51L100.20 129.44ZM96.95 139.26L99.71 139.26L101.03 139.95L101.58 140.58L102.14 141.68L102.14 144.45L101.44 145.76L100.82 146.32L99.71 146.87L96.95 146.87L95.63 146.18L95.08 145.56L94.53 144.45L94.53 141.68L95.22 140.37L95.84 139.82ZM95.84 132.42L95.98 132.28L96.95 131.79L99.71 131.79L100.68 132.28L100.82 132.42L101.31 133.38L101.31 135.32L100.82 136.29L100.68 136.43L99.71 136.91L96.95 136.91L95.98 136.43L95.84 136.29L95.36 135.32L95.36 133.38ZM77.30 130.27L76.75 130.62L75.64 131.79L74.88 133.31L74.81 133.73L74.75 133.80L74.75 134.91L74.81 134.97L74.88 135.32L75.09 135.60L76.20 136.63L76.54 136.70L76.61 136.77L76.89 136.77L76.96 136.70L77.30 136.63L78.41 135.60L78.69 135.18L78.69 134.97L78.76 134.91L78.69 134.35L78.41 133.94L77.65 133.18L77.79 132.90L78.34 132.42L78.48 132.42L80.00 131.86L80.21 131.86L80.28 131.79L83.11 131.79L84.43 132.48L84.98 133.11L85.54 134.21L85.54 135.32L85.05 136.29L84.71 136.63L82.70 137.95L77.93 140.30L77.65 140.51L75.92 142.24L75.58 142.79L75.58 142.93L75.51 143.00L75.51 143.14L75.44 143.21L75.44 143.34L75.37 143.41L75.37 143.55L74.81 145.07L74.81 145.35L74.75 145.42L74.75 148.19L74.81 148.25L74.81 148.46L74.88 148.60L75.51 149.15L76.06 149.22L76.13 149.15L76.47 149.08L77.03 148.46L77.03 148.25L77.10 148.19L77.10 146.87L77.23 146.73L78.07 146.73L78.69 147.08L78.83 147.22L79.03 147.29L79.17 147.42L79.38 147.49L79.52 147.63L79.73 147.70L79.86 147.84L80.07 147.91L80.21 148.05L80.42 148.12L80.56 148.25L80.76 148.32L80.90 148.46L81.11 148.53L81.25 148.67L81.45 148.74L81.59 148.88L81.80 148.95L81.94 149.08L82.08 149.08L82.15 149.15L82.35 149.15L82.42 149.22L86.02 149.22L86.09 149.15L86.30 149.15L86.64 148.95L87.82 147.70L88.58 146.18L88.58 146.04L88.72 145.76L88.72 143.76L88.65 143.69L88.58 143.34L88.09 142.86L87.75 142.79L87.68 142.72L87.40 142.72L87.33 142.79L86.99 142.86L86.43 143.48L86.43 143.69L86.37 143.76L86.37 145.07L85.88 145.49L84.77 146.04L82.77 146.04L82.56 145.90L82.42 145.90L82.22 145.76L82.08 145.76L81.87 145.63L81.73 145.63L81.52 145.49L81.39 145.49L81.18 145.35L81.04 145.35L80.83 145.21L80.69 145.21L80.49 145.07L80.35 145.07L80.14 144.93L80.00 144.93L79.10 144.52L78.69 144.45L78.62 144.38L77.65 144.38L77.58 144.24L77.79 143.69L79.03 142.44L79.24 142.31L80.97 141.48L81.11 141.48L81.32 141.34L81.45 141.34L81.66 141.20L81.80 141.20L82.01 141.06L82.15 141.06L82.35 140.92L82.49 140.92L82.70 140.78L82.84 140.78L83.05 140.65L83.18 140.65L83.39 140.51L83.53 140.51L83.74 140.37L83.88 140.37L84.08 140.23L84.57 140.09L87.33 138.29L87.82 137.74L88.65 136.01L88.65 135.80L88.72 135.74L88.72 133.80L88.65 133.73L88.58 133.31L87.82 131.79L86.71 130.62L86.16 130.27L84.15 129.65L83.94 129.51L83.67 129.51L83.60 129.44L79.93 129.44L79.86 129.51L79.59 129.51L79.52 129.58Z"/>
<path d="M97.22 89.40L97.16 89.47L96.95 89.47L96.74 89.60L96.60 89.60L96.53 89.67L96.39 89.67L96.33 89.74L96.19 89.74L96.12 89.81L95.98 89.81L94.46 90.37L93.97 90.78L92.45 93.06L92.11 93.89L92.11 94.17L92.04 94.24L92.04 94.52L91.97 94.58L91.97 94.86L91.90 94.93L91.90 95.21L91.83 95.28L91.83 95.55L91.76 95.62L91.76 95.90L91.69 95.97L91.69 96.24L91.62 96.31L91.62 96.59L91.55 96.66L91.55 96.94L91.48 97.01L91.48 97.28L91.41 97.35L91.41 97.63L91.34 97.70L91.34 100.88L91.41 100.95L91.41 101.22L91.48 101.29L91.48 101.57L91.55 101.64L91.55 101.92L91.62 101.99L91.62 102.26L91.69 102.33L91.69 102.61L91.76 102.68L91.76 102.95L91.83 103.02L91.83 103.30L91.90 103.37L91.90 103.65L91.97 103.71L91.97 103.99L92.04 104.06L92.04 104.34L92.11 104.41L92.11 104.68L92.18 104.75L92.24 105.10L92.45 105.51L93.97 107.80L94.46 108.21L94.73 108.35L96.74 108.97L96.95 109.11L97.22 109.11L97.29 109.18L99.37 109.18L99.44 109.11L99.71 109.11L99.92 108.97L100.06 108.97L100.13 108.90L100.27 108.90L100.34 108.83L100.48 108.83L100.54 108.76L100.68 108.76L102.20 108.21L102.69 107.80L104.21 105.51L104.56 104.68L104.56 104.41L104.62 104.34L104.62 104.06L104.69 103.99L104.69 103.71L104.76 103.65L104.76 103.37L104.83 103.30L104.83 103.02L104.90 102.95L104.90 102.68L104.97 102.61L104.97 102.33L105.04 102.26L105.04 101.99L105.11 101.92L105.11 101.64L105.18 101.57L105.18 101.29L105.25 101.22L105.25 100.95L105.32 100.88L105.32 97.70L105.25 97.63L105.25 97.35L105.18 97.28L105.18 97.01L105.11 96.94L105.11 96.66L105.04 96.59L105.04 96.31L104.97 96.24L104.97 95.97L104.90 95.90L104.90 95.62L104.83 95.55L104.83 95.28L104.76 95.21L104.76 94.93L104.69 94.86L104.69 94.58L104.62 94.52L104.62 94.24L104.56 94.17L104.56 93.89L104.49 93.82L104.42 93.48L104.21 93.06L102.69 90.78L102.20 90.37L101.93 90.23L99.92 89.60L99.71 89.47L99.44 89.47L99.37 89.40ZM97.78 91.75L98.88 91.75L99.99 92.30L100.61 92.86L101.37 94.38L101.44 94.93L101.51 95.00L101.51 95.28L101.58 95.35L101.58 95.62L101.65 95.69L101.65 95.97L101.72 96.04L101.72 96.31L101.79 96.38L101.79 96.66L101.86 96.73L101.86 97.01L101.93 97.07L101.93 97.35L102.00 97.42L102.00 97.70L102.07 97.77L102.07 98.04L102.14 98.11L102.14 100.46L102.07 100.53L102.07 100.81L102.00 100.88L102.00 101.16L101.93 101.22L101.93 101.50L101.86 101.57L101.86 101.85L101.79 101.92L101.79 102.19L101.72 102.26L101.72 102.54L101.65 102.61L101.65 102.88L101.58 102.95L101.58 103.23L101.51 103.30L101.51 103.58L101.44 103.65L101.44 103.92L101.37 103.99L101.31 104.41L100.61 105.72L99.99 106.27L98.88 106.83L97.78 106.83L96.67 106.27L96.05 105.72L95.29 104.20L95.22 103.65L95.15 103.58L95.15 103.30L95.08 103.23L95.08 102.95L95.01 102.88L95.01 102.61L94.94 102.54L94.94 102.26L94.87 102.19L94.87 101.92L94.80 101.85L94.80 101.57L94.73 101.50L94.73 101.22L94.67 101.16L94.67 100.88L94.60 100.81L94.60 100.53L94.53 100.46L94.53 98.11L94.60 98.04L94.60 97.77L94.67 97.70L94.67 97.42L94.73 97.35L94.73 97.07L94.80 97.01L94.80 96.73L94.87 96.66L94.87 96.38L94.94 96.31L94.94 96.04L95.01 95.97L95.01 95.69L95.08 95.62L95.08 95.35L95.15 95.28L95.15 95.00L95.22 94.93L95.22 94.65L95.29 94.58L95.36 94.17L96.05 92.86L96.67 92.30ZM79.93 89.40L79.86 89.47L79.59 89.47L79.52 89.54L77.30 90.23L76.75 90.57L75.92 91.40L75.92 91.47L75.64 91.75L74.81 93.48L74.81 93.69L74.75 93.75L74.75 94.86L74.81 94.93L74.81 95.14L75.09 95.55L76.20 96.59L76.54 96.66L76.61 96.73L77.17 96.66L77.58 96.38L78.41 95.55L78.62 95.28L78.69 94.93L78.76 94.86L78.76 94.58L78.69 94.52L78.62 94.17L77.65 93.13L77.79 92.86L78.20 92.44L79.31 92.09L79.38 92.03L79.52 92.03L79.59 91.96L79.73 91.96L79.79 91.89L79.93 91.89L80.00 91.82L80.21 91.82L80.28 91.75L83.11 91.75L84.08 92.23L84.22 92.37L84.71 93.34L84.71 95.28L84.22 96.24L84.08 96.38L83.11 96.87L80.76 96.87L80.69 96.94L80.49 96.94L79.86 97.49L79.79 97.84L79.73 97.90L79.73 98.18L79.79 98.25L79.86 98.60L80.49 99.15L80.69 99.15L80.76 99.22L83.11 99.22L84.22 99.77L84.84 100.33L85.19 101.43L85.26 101.50L85.26 101.64L85.33 101.71L85.33 101.85L85.40 101.92L85.40 102.05L85.47 102.12L85.47 102.33L85.54 102.40L85.54 104.41L84.84 105.72L84.22 106.27L83.11 106.83L80.28 106.83L80.21 106.76L80.00 106.76L79.93 106.69L78.34 106.20L77.79 105.72L77.65 105.44L78.41 104.68L78.69 104.27L78.69 104.06L78.76 103.99L78.69 103.44L78.41 103.02L77.58 102.19L77.17 101.92L76.61 101.85L76.54 101.92L76.34 101.92L75.92 102.19L74.88 103.30L74.81 103.65L74.75 103.71L74.75 104.82L74.81 104.89L74.88 105.31L75.64 106.83L76.75 108.00L77.30 108.35L77.44 108.35L77.51 108.42L77.65 108.42L77.72 108.49L77.86 108.49L77.93 108.56L78.07 108.56L79.59 109.11L79.86 109.11L79.93 109.18L83.60 109.18L83.67 109.11L83.94 109.11L84.15 108.97L86.16 108.35L86.71 108.00L87.82 106.83L88.65 105.10L88.65 104.89L88.72 104.82L88.72 102.05L88.65 101.99L88.58 101.57L87.82 100.05L86.23 98.39L86.99 97.70L87.82 95.97L87.82 95.76L87.89 95.69L87.89 92.92L87.82 92.86L87.75 92.44L86.99 90.92L86.43 90.37L86.16 90.23L84.15 89.60L83.94 89.47L83.67 89.47L83.60 89.40Z"/>
<path d="M93.90 50.18L93.35 50.53L92.24 51.70L91.48 53.23L91.41 53.64L91.34 53.71L91.34 54.82L91.41 54.89L91.48 55.23L91.69 55.51L92.80 56.55L93.14 56.62L93.21 56.68L93.49 56.68L93.56 56.62L93.90 56.55L95.01 55.51L95.29 55.09L95.29 54.89L95.36 54.82L95.29 54.26L95.01 53.85L94.25 53.09L94.39 52.81L94.94 52.33L95.08 52.33L96.60 51.77L96.81 51.77L96.88 51.70L99.71 51.70L101.03 52.40L101.58 53.02L102.14 54.13L102.14 55.23L101.65 56.20L101.31 56.55L99.30 57.86L94.53 60.21L94.25 60.42L92.52 62.15L92.18 62.70L92.18 62.84L92.11 62.91L92.11 63.05L92.04 63.12L92.04 63.26L91.97 63.32L91.97 63.46L91.41 64.98L91.41 65.26L91.34 65.33L91.34 68.10L91.41 68.17L91.41 68.37L91.48 68.51L92.11 69.07L92.66 69.13L92.73 69.07L93.07 69.00L93.63 68.37L93.63 68.17L93.70 68.10L93.70 66.78L93.84 66.64L94.67 66.64L95.29 66.99L95.43 67.13L95.63 67.20L95.77 67.34L95.98 67.41L96.12 67.54L96.33 67.61L96.46 67.75L96.67 67.82L96.81 67.96L97.02 68.03L97.16 68.17L97.36 68.24L97.50 68.37L97.71 68.44L97.85 68.58L98.05 68.65L98.19 68.79L98.40 68.86L98.54 69.00L98.68 69.00L98.75 69.07L98.95 69.07L99.02 69.13L102.62 69.13L102.69 69.07L102.90 69.07L103.24 68.86L104.42 67.61L105.18 66.09L105.18 65.95L105.32 65.68L105.32 63.67L105.25 63.60L105.18 63.26L104.69 62.77L104.35 62.70L104.28 62.63L104.00 62.63L103.93 62.70L103.59 62.77L103.03 63.39L103.03 63.60L102.97 63.67L102.97 64.98L102.48 65.40L101.37 65.95L99.37 65.95L99.16 65.81L99.02 65.81L98.81 65.68L98.68 65.68L98.47 65.54L98.33 65.54L98.12 65.40L97.98 65.40L97.78 65.26L97.64 65.26L97.43 65.12L97.29 65.12L97.09 64.98L96.95 64.98L96.74 64.85L96.60 64.85L95.70 64.43L95.29 64.36L95.22 64.29L94.25 64.29L94.18 64.15L94.39 63.60L95.63 62.36L95.84 62.22L97.57 61.39L97.71 61.39L97.92 61.25L98.05 61.25L98.26 61.11L98.40 61.11L98.61 60.97L98.75 60.97L98.95 60.83L99.09 60.83L99.30 60.70L99.44 60.70L99.65 60.56L99.78 60.56L99.99 60.42L100.13 60.42L100.34 60.28L100.48 60.28L100.68 60.14L101.17 60.00L103.93 58.21L104.42 57.65L105.25 55.92L105.25 55.72L105.32 55.65L105.32 53.71L105.25 53.64L105.18 53.23L104.42 51.70L103.31 50.53L102.76 50.18L100.75 49.56L100.54 49.42L100.27 49.42L100.20 49.35L96.53 49.35L96.46 49.42L96.19 49.42L96.12 49.49ZM79.93 49.35L79.86 49.42L79.59 49.42L79.52 49.49L77.30 50.18L76.75 50.53L75.92 51.36L75.92 51.43L75.64 51.70L74.81 53.43L74.81 53.64L74.75 53.71L74.75 54.82L74.81 54.89L74.81 55.09L75.09 55.51L76.20 56.55L76.54 56.62L76.61 56.68L77.17 56.62L77.58 56.34L78.41 55.51L78.62 55.23L78.69 54.89L78.76 54.82L78.76 54.54L78.69 54.47L78.62 54.13L77.65 53.09L77.79 52.81L78.20 52.40L79.31 52.05L79.38 51.98L79.52 51.98L79.59 51.91L79.73 51.91L79.79 51.84L79.93 51.84L80.00 51.77L80.21 51.77L80.28 51.70L83.11 51.70L84.08 52.19L84.22 52.33L84.71 53.30L84.71 55.23L84.22 56.20L84.08 56.34L83.11 56.82L80.76 56.82L80.69 56.89L80.49 56.89L79.86 57.45L79.79 57.79L79.73 57.86L79.73 58.14L79.79 58.21L79.86 58.55L80.49 59.11L80.69 59.11L80.76 59.17L83.11 59.17L84.22 59.73L84.84 60.28L85.19 61.39L85.26 61.46L85.26 61.60L85.33 61.66L85.33 61.80L85.40 61.87L85.40 62.01L85.47 62.08L85.47 62.29L85.54 62.36L85.54 64.36L84.84 65.68L84.22 66.23L83.11 66.78L80.28 66.78L80.21 66.71L80.00 66.71L79.93 66.64L78.34 66.16L77.79 65.68L77.65 65.40L78.41 64.64L78.69 64.22L78.69 64.02L78.76 63.95L78.69 63.39L78.41 62.98L77.58 62.15L77.17 61.87L76.61 61.80L76.54 61.87L76.34 61.87L75.92 62.15L74.88 63.26L74.81 63.60L74.75 63.67L74.75 64.78L74.81 64.85L74.88 65.26L75.64 66.78L76.75 67.96L77.30 68.30L77.44 68.30L77.51 68.37L77.65 68.37L77.72 68.44L77.86 68.44L77.93 68.51L78.07 68.51L79.59 69.07L79.86 69.07L79.93 69.13L83.60 69.13L83.67 69.07L83.94 69.07L84.15 68.93L86.16 68.30L86.71 67.96L87.82 66.78L88.65 65.05L88.65 64.85L88.72 64.78L88.72 62.01L88.65 61.94L88.58 61.53L87.82 60.00L86.23 58.34L86.99 57.65L87.82 55.92L87.82 55.72L87.89 55.65L87.89 52.88L87.82 52.81L87.75 52.40L86.99 50.87L86.43 50.32L86.16 50.18L84.15 49.56L83.94 49.42L83.67 49.42L83.60 49.35Z"/>
<path d="M101.03 9.31L100.61 9.31L100.54 9.38L100.41 9.38L100.13 9.52L99.78 9.86L99.16 10.69L99.02 10.97L98.40 11.73L98.26 12.01L97.64 12.77L97.50 13.04L96.88 13.80L96.74 14.08L96.12 14.84L95.98 15.12L95.36 15.88L95.22 16.16L94.60 16.92L94.46 17.19L93.84 17.95L93.70 18.23L93.07 18.99L92.94 19.27L92.31 20.03L92.18 20.31L91.55 21.07L91.41 21.34L90.79 22.11L90.52 22.80L90.52 23.07L90.58 23.14L90.65 23.49L91.14 23.97L91.48 24.04L91.55 24.11L98.75 24.11L98.81 24.18L98.81 26.67L98.75 26.74L97.36 26.74L97.29 26.81L97.09 26.81L96.95 26.88L96.39 27.50L96.33 28.05L96.39 28.12L96.46 28.47L96.95 28.95L97.29 29.02L97.36 29.09L103.45 29.09L103.52 29.02L103.86 28.95L104.42 28.33L104.42 28.12L104.49 28.05L104.42 27.50L104.35 27.36L103.73 26.81L103.52 26.81L103.45 26.74L102.07 26.74L102.00 26.67L102.00 24.18L102.07 24.11L105.11 24.11L105.18 24.04L105.39 24.04L106.01 23.49L106.08 23.14L106.15 23.07L106.15 22.80L106.08 22.73L106.01 22.38L105.39 21.83L105.18 21.83L105.11 21.76L102.07 21.76L102.00 21.69L102.00 10.28L101.79 9.79L101.51 9.52ZM98.75 15.33L98.81 15.40L98.81 21.69L98.75 21.76L94.18 21.76L94.11 21.62L94.87 20.65L95.01 20.38L95.63 19.62L95.77 19.34L96.39 18.58L96.53 18.30L97.16 17.54L97.29 17.26ZM79.93 9.31L79.86 9.38L79.59 9.38L79.52 9.45L77.30 10.14L76.75 10.48L75.92 11.32L75.92 11.38L75.64 11.66L74.81 13.39L74.81 13.60L74.75 13.67L74.75 14.77L74.81 14.84L74.81 15.05L75.09 15.46L76.20 16.50L76.54 16.57L76.61 16.64L77.17 16.57L77.58 16.30L78.41 15.46L78.62 15.19L78.69 14.84L78.76 14.77L78.76 14.50L78.69 14.43L78.62 14.08L77.65 13.04L77.79 12.77L78.20 12.35L79.31 12.01L79.38 11.94L79.52 11.94L79.59 11.87L79.73 11.87L79.79 11.80L79.93 11.80L80.00 11.73L80.21 11.73L80.28 11.66L83.11 11.66L84.08 12.14L84.22 12.28L84.71 13.25L84.71 15.19L84.22 16.16L84.08 16.30L83.11 16.78L80.76 16.78L80.69 16.85L80.49 16.85L79.86 17.40L79.79 17.75L79.73 17.82L79.73 18.09L79.79 18.16L79.86 18.51L80.49 19.06L80.69 19.06L80.76 19.13L83.11 19.13L84.22 19.68L84.84 20.24L85.19 21.34L85.26 21.41L85.26 21.55L85.33 21.62L85.33 21.76L85.40 21.83L85.40 21.97L85.47 22.04L85.47 22.24L85.54 22.31L85.54 24.32L84.84 25.63L84.22 26.19L83.11 26.74L80.28 26.74L80.21 26.67L80.00 26.67L79.93 26.60L78.34 26.12L77.79 25.63L77.65 25.36L78.41 24.59L78.69 24.18L78.69 23.97L78.76 23.90L78.69 23.35L78.41 22.93L77.58 22.11L77.17 21.83L76.61 21.76L76.54 21.83L76.34 21.83L75.92 22.11L74.88 23.21L74.81 23.56L74.75 23.63L74.75 24.73L74.81 24.80L74.88 25.22L75.64 26.74L76.75 27.91L77.30 28.26L77.44 28.26L77.51 28.33L77.65 28.33L77.72 28.40L77.86 28.40L77.93 28.47L78.07 28.47L79.59 29.02L79.86 29.02L79.93 29.09L83.60 29.09L83.67 29.02L83.94 29.02L84.15 28.88L86.16 28.26L86.71 27.91L87.82 26.74L88.65 25.01L88.65 24.80L88.72 24.73L88.72 21.97L88.65 21.90L88.58 21.48L87.82 19.96L86.23 18.30L86.99 17.61L87.82 15.88L87.82 15.67L87.89 15.60L87.89 12.84L87.82 12.77L87.75 12.35L86.99 10.83L86.43 10.28L86.16 10.14L84.15 9.52L83.94 9.38L83.67 9.38L83.60 9.31Z"/>
<path d="M131.34 730.66L131.05 730.80L129.92 731.94L129.70 732.36L129.70 732.93L129.92 733.36L130.98 734.42L131.41 734.64L131.98 734.64L132.41 734.42L133.47 733.36L133.68 732.93L133.68 732.36L133.47 731.94L132.33 730.80L132.05 730.66ZM120.11 714.45L117.69 714.45L117.26 714.66L117.12 714.66L117.05 714.73L116.91 714.73L115.35 715.30L115.13 715.30L114.78 715.52L112.86 717.44L112.72 717.65L111.93 720.14L111.79 720.35L111.79 721.91L112.00 722.34L112.00 722.48L112.08 722.55L112.08 722.70L112.64 724.26L112.64 724.47L112.86 724.83L114.78 726.75L114.99 726.89L117.26 727.60L117.69 727.81L119.25 727.81L119.68 727.60L119.82 727.60L119.89 727.53L120.04 727.53L121.60 726.96L121.81 726.96L122.17 726.75L122.60 726.32L122.67 726.39L122.67 726.60L122.60 726.68L122.60 726.89L122.52 726.96L122.52 727.17L122.45 727.24L122.45 727.46L122.38 727.53L122.17 728.60L121.39 730.23L119.89 731.72L118.62 732.36L116.62 732.36L115.63 731.87L115.49 731.72L116.55 730.59L116.55 730.44L116.62 730.37L116.62 729.80L116.41 729.38L115.35 728.31L115.13 728.17L114.99 728.17L114.92 728.10L114.35 728.10L114.28 728.17L114.14 728.17L113.92 728.31L112.86 729.38L112.64 729.80L112.64 731.23L113.57 733.14L113.71 733.36L114.14 733.71L116.06 734.64L119.25 734.64L119.68 734.42L119.82 734.42L119.89 734.35L120.04 734.35L121.60 733.78L121.81 733.78L122.17 733.57L124.09 731.65L125.08 729.73L125.08 729.59L125.23 729.31L125.23 729.02L125.30 728.95L125.37 728.45L125.44 728.38L125.44 728.17L125.51 728.10L125.51 727.88L125.58 727.81L125.58 727.60L125.65 727.53L125.65 727.32L125.72 727.24L125.72 727.03L125.79 726.96L125.79 726.75L125.87 726.68L125.87 726.46L126.01 726.18L126.01 720.35L125.79 719.92L125.08 717.65L124.94 717.44L123.02 715.52L122.81 715.37L120.53 714.66ZM122.60 726.32L122.67 726.25L122.74 726.32L122.67 726.39ZM119.47 716.72L120.75 717.36L122.17 718.79L122.52 719.92L122.60 719.99L122.60 720.14L122.67 720.21L122.67 720.35L122.74 720.42L122.74 720.56L122.81 720.63L122.88 721.34L122.81 721.42L122.81 721.63L122.74 721.70L122.74 721.84L122.67 721.91L122.67 722.06L122.60 722.13L122.60 722.27L122.52 722.34L122.17 723.48L120.82 724.83L119.68 725.18L119.61 725.25L119.47 725.25L119.40 725.33L119.25 725.33L119.18 725.40L119.04 725.40L118.97 725.47L118.33 725.54L117.05 724.90L115.63 723.48L115.27 722.34L115.20 722.27L115.20 722.13L115.13 722.06L115.13 721.91L115.06 721.84L115.06 721.70L114.99 721.63L114.92 720.92L114.99 720.85L114.99 720.63L115.06 720.56L115.06 720.42L115.13 720.35L115.13 720.21L115.20 720.14L115.20 719.99L115.27 719.92L115.63 718.79L117.05 717.36L118.33 716.72ZM102.98 714.45L102.41 714.45L101.98 714.66L99.42 717.22L97.72 718.07L97.50 718.29L97.29 718.71L97.29 719.28L97.36 719.35L97.36 719.50L97.72 719.92L98.14 720.14L98.71 720.14L100.56 719.21L100.70 719.28L100.70 732.29L100.63 732.36L98.14 732.36L97.72 732.58L97.36 733.00L97.36 733.14L97.29 733.22L97.29 733.78L97.50 734.21L97.72 734.42L98.14 734.64L106.39 734.64L106.82 734.42L107.03 734.21L107.24 733.78L107.24 733.22L107.17 733.14L107.17 733.00L107.03 732.79L106.60 732.43L106.46 732.43L106.39 732.36L103.90 732.36L103.83 732.29L103.83 715.30L103.62 714.88L103.40 714.66ZM142.78 714.38L142.71 714.45L142.21 714.52L142.00 714.66L141.86 714.66L141.79 714.73L141.65 714.73L140.08 715.30L139.87 715.30L139.51 715.52L139.16 715.94L138.31 717.65L138.31 717.79L138.23 717.86L138.23 720.99L139.16 722.91L139.44 723.26L138.31 724.47L137.38 726.39L137.38 730.37L138.45 732.50L139.51 733.57L139.87 733.78L140.08 733.78L140.15 733.86L142.00 734.42L142.43 734.64L146.55 734.64L146.98 734.42L147.12 734.42L147.19 734.35L147.33 734.35L148.90 733.78L149.11 733.78L149.47 733.57L150.53 732.50L151.60 730.37L151.60 726.39L150.67 724.47L149.54 723.26L149.82 722.91L150.74 720.99L150.74 717.86L149.82 715.94L149.47 715.52L149.11 715.30L148.90 715.30L148.83 715.23L146.98 714.66L146.55 714.45L142.93 714.45ZM143.07 724.40L145.91 724.40L147.19 725.04L147.83 725.68L148.47 726.96L148.47 729.80L147.83 731.08L147.19 731.72L145.91 732.36L143.07 732.36L141.79 731.72L141.15 731.08L140.51 729.80L140.51 726.96L141.15 725.68L141.79 725.04ZM141.86 717.44L142.07 717.22L143.07 716.72L145.91 716.72L146.91 717.22L147.12 717.44L147.62 718.43L147.62 720.42L147.12 721.42L146.91 721.63L145.91 722.13L143.07 722.13L142.07 721.63L141.86 721.42L141.36 720.42L141.36 718.43Z"/>
<path d="M218.18 730.66L217.90 730.80L216.76 731.94L216.55 732.36L216.55 732.93L216.76 733.36L217.83 734.42L218.25 734.64L218.82 734.64L219.25 734.42L220.31 733.36L220.53 732.93L220.53 732.36L220.31 731.94L219.18 730.80L218.89 730.66ZM232.54 714.45L230.12 714.45L229.70 714.66L229.56 714.66L229.48 714.73L229.34 714.73L227.78 715.30L227.56 715.30L227.21 715.52L225.29 717.44L225.15 717.65L224.37 720.14L224.22 720.35L224.22 721.91L224.44 722.34L224.44 722.48L224.51 722.55L224.51 722.70L225.08 724.26L225.08 724.47L225.29 724.83L227.21 726.75L227.42 726.89L229.70 727.60L230.12 727.81L231.69 727.81L232.11 727.60L232.26 727.60L232.33 727.53L232.47 727.53L234.03 726.96L234.25 726.96L234.60 726.75L235.03 726.32L235.10 726.39L235.10 726.60L235.03 726.68L235.03 726.89L234.96 726.96L234.96 727.17L234.89 727.24L234.89 727.46L234.82 727.53L234.60 728.60L233.82 730.23L232.33 731.72L231.05 732.36L229.06 732.36L228.06 731.87L227.92 731.72L228.99 730.59L228.99 730.44L229.06 730.37L229.06 729.80L228.84 729.38L227.78 728.31L227.56 728.17L227.42 728.17L227.35 728.10L226.78 728.10L226.71 728.17L226.57 728.17L226.36 728.31L225.29 729.38L225.08 729.80L225.08 731.23L226.00 733.14L226.14 733.36L226.57 733.71L228.49 734.64L231.69 734.64L232.11 734.42L232.26 734.42L232.33 734.35L232.47 734.35L234.03 733.78L234.25 733.78L234.60 733.57L236.52 731.65L237.52 729.73L237.52 729.59L237.66 729.31L237.66 729.02L237.73 728.95L237.80 728.45L237.87 728.38L237.87 728.17L237.94 728.10L237.94 727.88L238.01 727.81L238.01 727.60L238.09 727.53L238.09 727.32L238.16 727.24L238.16 727.03L238.23 726.96L238.23 726.75L238.30 726.68L238.30 726.46L238.44 726.18L238.44 720.35L238.23 719.92L237.52 717.65L237.37 717.44L235.46 715.52L235.24 715.37L232.97 714.66ZM235.03 726.32L235.10 726.25L235.17 726.32L235.10 726.39ZM231.90 716.72L233.18 717.36L234.60 718.79L234.96 719.92L235.03 719.99L235.03 720.14L235.10 720.21L235.10 720.35L235.17 720.42L235.17 720.56L235.24 720.63L235.31 721.34L235.24 721.42L235.24 721.63L235.17 721.70L235.17 721.84L235.10 721.91L235.10 722.06L235.03 722.13L235.03 722.27L234.96 722.34L234.60 723.48L233.25 724.83L232.11 725.18L232.04 725.25L231.90 725.25L231.83 725.33L231.69 725.33L231.62 725.40L231.47 725.40L231.40 725.47L230.76 725.54L229.48 724.90L228.06 723.48L227.71 722.34L227.64 722.27L227.64 722.13L227.56 722.06L227.56 721.91L227.49 721.84L227.49 721.70L227.42 721.63L227.35 720.92L227.42 720.85L227.42 720.63L227.49 720.56L227.49 720.42L227.56 720.35L227.56 720.21L227.64 720.14L227.64 719.99L227.71 719.92L228.06 718.79L229.48 717.36L230.76 716.72ZM206.95 714.45L204.53 714.45L204.11 714.66L203.97 714.66L203.89 714.73L203.75 714.73L202.19 715.30L201.97 715.30L201.62 715.52L199.70 717.44L199.56 717.65L198.78 720.14L198.63 720.35L198.63 721.91L198.85 722.34L198.85 722.48L198.92 722.55L198.92 722.70L199.49 724.26L199.49 724.47L199.70 724.83L201.62 726.75L201.83 726.89L204.11 727.60L204.53 727.81L206.10 727.81L206.52 727.60L206.67 727.60L206.74 727.53L206.88 727.53L208.44 726.96L208.66 726.96L209.01 726.75L209.44 726.32L209.51 726.39L209.51 726.60L209.44 726.68L209.44 726.89L209.37 726.96L209.37 727.17L209.30 727.24L209.30 727.46L209.23 727.53L209.01 728.60L208.23 730.23L206.74 731.72L205.46 732.36L203.47 732.36L202.47 731.87L202.33 731.72L203.40 730.59L203.40 730.44L203.47 730.37L203.47 729.80L203.25 729.38L202.19 728.31L201.97 728.17L201.83 728.17L201.76 728.10L201.19 728.10L201.12 728.17L200.98 728.17L200.77 728.31L199.70 729.38L199.49 729.80L199.49 731.23L200.41 733.14L200.55 733.36L200.98 733.71L202.90 734.64L206.10 734.64L206.52 734.42L206.67 734.42L206.74 734.35L206.88 734.35L208.44 733.78L208.66 733.78L209.01 733.57L210.93 731.65L211.93 729.73L211.93 729.59L212.07 729.31L212.07 729.02L212.14 728.95L212.21 728.45L212.28 728.38L212.28 728.17L212.35 728.10L212.35 727.88L212.42 727.81L212.42 727.60L212.50 727.53L212.50 727.32L212.57 727.24L212.57 727.03L212.64 726.96L212.64 726.75L212.71 726.68L212.71 726.46L212.85 726.18L212.85 720.35L212.64 719.92L211.93 717.65L211.78 717.44L209.87 715.52L209.65 715.37L207.38 714.66ZM209.44 726.32L209.51 726.25L209.58 726.32L209.51 726.39ZM206.31 716.72L207.59 717.36L209.01 718.79L209.37 719.92L209.44 719.99L209.44 720.14L209.51 720.21L209.51 720.35L209.58 720.42L209.58 720.56L209.65 720.63L209.72 721.34L209.65 721.42L209.65 721.63L209.58 721.70L209.58 721.84L209.51 721.91L209.51 722.06L209.44 722.13L209.44 722.27L209.37 722.34L209.01 723.48L207.66 724.83L206.52 725.18L206.45 725.25L206.31 725.25L206.24 725.33L206.10 725.33L206.03 725.40L205.88 725.40L205.81 725.47L205.17 725.54L203.89 724.90L202.47 723.48L202.12 722.34L202.05 722.27L202.05 722.13L201.97 722.06L201.97 721.91L201.90 721.84L201.90 721.70L201.83 721.63L201.76 720.92L201.83 720.85L201.83 720.63L201.90 720.56L201.90 720.42L201.97 720.35L201.97 720.21L202.05 720.14L202.05 719.99L202.12 719.92L202.47 718.79L203.89 717.36L205.17 716.72ZM189.82 714.45L189.25 714.45L188.82 714.66L186.27 717.22L184.56 718.07L184.35 718.29L184.13 718.71L184.13 719.28L184.20 719.35L184.20 719.50L184.56 719.92L184.99 720.14L185.55 720.14L187.40 719.21L187.54 719.28L187.54 732.29L187.47 732.36L184.99 732.36L184.56 732.58L184.20 733.00L184.20 733.14L184.13 733.22L184.13 733.78L184.35 734.21L184.56 734.42L184.99 734.64L193.23 734.64L193.66 734.42L193.87 734.21L194.08 733.78L194.08 733.22L194.01 733.14L194.01 733.00L193.87 732.79L193.44 732.43L193.30 732.43L193.23 732.36L190.74 732.36L190.67 732.29L190.67 715.30L190.46 714.88L190.25 714.66Z"/>
<path d="M283.70 715.30L283.34 715.52L282.28 716.58L281.21 718.71L281.21 720.14L281.28 720.21L281.28 720.35L281.43 720.56L282.49 721.63L282.70 721.77L282.85 721.77L282.92 721.84L283.49 721.84L283.56 721.77L283.70 721.77L283.91 721.63L284.98 720.56L285.12 720.35L285.12 720.21L285.19 720.14L285.19 719.57L285.12 719.50L285.12 719.35L284.06 718.22L284.13 718.00L284.84 717.36L284.98 717.36L286.54 716.80L286.76 716.80L286.83 716.72L289.74 716.72L291.02 717.36L291.66 718.00L292.30 719.28L292.30 720.42L291.73 721.56L291.59 721.70L289.46 723.12L284.41 725.61L284.20 725.75L282.28 727.67L282.06 728.03L282.06 728.24L281.99 728.31L281.35 730.37L281.21 730.59L281.21 733.78L281.28 733.86L281.28 734.00L281.43 734.21L281.85 734.57L281.99 734.57L282.06 734.64L282.63 734.64L282.70 734.57L282.85 734.57L283.27 734.21L283.49 733.78L283.49 732.29L283.70 732.08L284.55 732.08L285.19 732.43L285.33 732.58L285.55 732.65L285.69 732.79L285.90 732.86L286.05 733.00L286.26 733.07L286.40 733.22L286.61 733.29L286.76 733.43L286.97 733.50L287.11 733.64L287.33 733.71L287.47 733.86L287.68 733.93L287.82 734.07L288.04 734.14L288.18 734.28L288.39 734.35L288.53 734.50L288.89 734.64L292.87 734.64L292.94 734.57L293.08 734.57L293.30 734.42L294.36 733.36L295.43 731.30L295.43 728.95L295.22 728.52L294.79 728.17L294.65 728.17L294.58 728.10L294.01 728.10L293.58 728.31L293.37 728.52L293.15 728.95L293.15 730.44L292.73 730.87L291.45 731.51L289.39 731.51L288.60 731.15L288.46 731.15L288.25 731.01L288.11 731.01L287.89 730.87L287.75 730.87L287.54 730.73L287.40 730.73L287.18 730.59L287.04 730.59L286.83 730.44L286.69 730.44L286.47 730.30L286.33 730.30L286.12 730.16L285.97 730.16L285.76 730.02L285.62 730.02L285.48 729.87L285.33 729.87L285.26 729.80L284.06 729.80L283.98 729.73L283.98 729.59L284.20 729.02L285.62 727.60L287.68 726.60L287.82 726.60L288.04 726.46L288.18 726.46L288.39 726.32L288.53 726.32L288.75 726.18L288.89 726.18L289.10 726.04L289.24 726.04L289.46 725.89L289.60 725.89L289.81 725.75L289.96 725.75L290.88 725.33L291.23 725.25L294.08 723.41L294.50 722.91L295.43 720.99L295.43 718.71L295.36 718.64L295.36 718.50L294.36 716.58L293.30 715.52L292.94 715.30L292.73 715.30L292.66 715.23L290.81 714.66L290.38 714.45L286.26 714.45L285.83 714.66L285.69 714.66L285.62 714.73L285.48 714.73L283.91 715.30ZM304.53 714.38L304.46 714.45L303.96 714.52L303.75 714.66L303.60 714.66L303.53 714.73L303.39 714.73L301.83 715.30L301.61 715.30L301.26 715.52L300.97 715.80L299.27 718.36L299.12 718.71L299.12 718.93L299.05 719.00L299.05 719.28L298.98 719.35L298.98 719.64L298.91 719.71L298.91 719.99L298.84 720.07L298.84 720.35L298.77 720.42L298.77 720.71L298.70 720.78L298.70 721.06L298.63 721.13L298.63 721.42L298.56 721.49L298.56 721.77L298.49 721.84L298.49 722.13L298.41 722.20L298.41 722.48L298.34 722.55L298.34 722.84L298.27 722.91L298.27 726.18L298.34 726.25L298.34 726.53L298.41 726.60L298.41 726.89L298.49 726.96L298.49 727.24L298.56 727.32L298.56 727.60L298.63 727.67L298.63 727.96L298.70 728.03L298.70 728.31L298.77 728.38L298.77 728.67L298.84 728.74L298.84 729.02L298.91 729.09L298.91 729.38L298.98 729.45L298.98 729.73L299.05 729.80L299.05 730.09L299.12 730.16L299.20 730.59L300.97 733.29L301.26 733.57L301.61 733.78L301.83 733.78L301.90 733.86L303.75 734.42L304.17 734.64L306.59 734.64L307.02 734.42L307.16 734.42L307.23 734.35L307.37 734.35L308.93 733.78L309.15 733.78L309.50 733.57L309.79 733.29L311.49 730.73L311.64 730.37L311.64 730.16L311.71 730.09L311.71 729.80L311.78 729.73L311.78 729.45L311.85 729.38L311.85 729.09L311.92 729.02L311.92 728.74L311.99 728.67L311.99 728.38L312.06 728.31L312.06 728.03L312.13 727.96L312.13 727.67L312.20 727.60L312.20 727.32L312.28 727.24L312.28 726.96L312.35 726.89L312.35 726.60L312.42 726.53L312.42 726.25L312.49 726.18L312.49 722.91L312.42 722.84L312.42 722.55L312.35 722.48L312.35 722.20L312.28 722.13L312.28 721.84L312.20 721.77L312.20 721.49L312.13 721.42L312.13 721.13L312.06 721.06L312.06 720.78L311.99 720.71L311.99 720.42L311.92 720.35L311.92 720.07L311.85 719.99L311.85 719.71L311.78 719.64L311.78 719.35L311.71 719.28L311.71 719.00L311.64 718.93L311.56 718.50L309.79 715.80L309.50 715.52L309.15 715.30L308.93 715.30L308.86 715.23L307.02 714.66L306.59 714.45L304.67 714.45ZM304.81 716.72L305.95 716.72L307.23 717.36L307.87 718.00L308.58 719.43L308.58 719.71L308.65 719.78L308.65 720.07L308.72 720.14L308.72 720.42L308.79 720.49L308.79 720.78L308.86 720.85L308.86 721.13L308.93 721.20L308.93 721.49L309.01 721.56L309.01 721.84L309.08 721.91L309.08 722.20L309.15 722.27L309.15 722.55L309.22 722.62L309.22 722.91L309.29 722.98L309.29 723.34L309.36 723.41L309.36 725.68L309.29 725.75L309.29 726.11L309.22 726.18L309.22 726.46L309.15 726.53L309.15 726.82L309.08 726.89L309.08 727.17L309.01 727.24L309.01 727.53L308.93 727.60L308.93 727.88L308.86 727.96L308.86 728.24L308.79 728.31L308.79 728.60L308.72 728.67L308.58 729.66L307.87 731.08L307.23 731.72L305.95 732.36L304.81 732.36L303.53 731.72L302.89 731.08L302.18 729.66L302.18 729.38L302.11 729.31L302.11 729.02L302.04 728.95L302.04 728.67L301.97 728.60L301.97 728.31L301.90 728.24L301.90 727.96L301.83 727.88L301.83 727.60L301.75 727.53L301.75 727.24L301.68 727.17L301.68 726.89L301.61 726.82L301.61 726.53L301.54 726.46L301.54 726.18L301.47 726.11L301.47 725.75L301.40 725.68L301.40 723.41L301.47 723.34L301.47 722.98L301.54 722.91L301.54 722.62L301.61 722.55L301.61 722.27L301.68 722.20L301.68 721.91L301.75 721.84L301.75 721.56L301.83 721.49L301.83 721.20L301.90 721.13L301.90 720.85L301.97 720.78L301.97 720.49L302.04 720.42L302.18 719.43L302.89 718.00L303.53 717.36Z"/>
<path d="M391.87 730.66L391.58 730.80L390.45 731.94L390.23 732.36L390.23 732.93L390.45 733.36L391.51 734.42L391.94 734.64L392.51 734.64L392.93 734.42L394.00 733.36L394.21 732.93L394.21 732.36L394.00 731.94L392.86 730.80L392.58 730.66ZM406.16 714.45L405.59 714.45L405.16 714.66L402.60 717.22L400.90 718.07L400.68 718.29L400.47 718.71L400.47 719.28L400.54 719.35L400.54 719.50L400.90 719.92L401.32 720.14L401.89 720.14L403.74 719.21L403.88 719.28L403.88 732.29L403.81 732.36L401.32 732.36L400.90 732.58L400.54 733.00L400.54 733.14L400.47 733.22L400.47 733.78L400.68 734.21L400.90 734.42L401.32 734.64L409.57 734.64L409.99 734.42L410.21 734.21L410.42 733.78L410.42 733.22L410.35 733.14L410.35 733.00L410.21 732.79L409.78 732.43L409.64 732.43L409.57 732.36L407.08 732.36L407.01 732.29L407.01 715.30L406.80 714.88L406.58 714.66ZM357.75 715.30L357.39 715.52L356.33 716.58L355.26 718.71L355.26 720.14L355.33 720.21L355.33 720.35L355.47 720.56L356.54 721.63L356.75 721.77L356.89 721.77L356.97 721.84L357.53 721.84L357.61 721.77L357.75 721.77L357.96 721.63L359.03 720.56L359.17 720.35L359.17 720.21L359.24 720.14L359.24 719.57L359.17 719.50L359.17 719.35L358.10 718.22L358.17 718.00L358.88 717.36L359.03 717.36L360.59 716.80L360.80 716.80L360.88 716.72L363.79 716.72L365.07 717.36L365.71 718.00L366.35 719.28L366.35 720.42L365.78 721.56L365.64 721.70L363.51 723.12L358.46 725.61L358.25 725.75L356.33 727.67L356.11 728.03L356.11 728.24L356.04 728.31L355.40 730.37L355.26 730.59L355.26 733.78L355.33 733.86L355.33 734.00L355.47 734.21L355.90 734.57L356.04 734.57L356.11 734.64L356.68 734.64L356.75 734.57L356.89 734.57L357.32 734.21L357.53 733.78L357.53 732.29L357.75 732.08L358.60 732.08L359.24 732.43L359.38 732.58L359.60 732.65L359.74 732.79L359.95 732.86L360.09 733.00L360.31 733.07L360.45 733.22L360.66 733.29L360.80 733.43L361.02 733.50L361.16 733.64L361.37 733.71L361.52 733.86L361.73 733.93L361.87 734.07L362.08 734.14L362.23 734.28L362.44 734.35L362.58 734.50L362.94 734.64L366.92 734.64L366.99 734.57L367.13 734.57L367.34 734.42L368.41 733.36L369.48 731.30L369.48 728.95L369.26 728.52L368.84 728.17L368.69 728.17L368.62 728.10L368.05 728.10L367.63 728.31L367.41 728.52L367.20 728.95L367.20 730.44L366.78 730.87L365.50 731.51L363.43 731.51L362.65 731.15L362.51 731.15L362.30 731.01L362.15 731.01L361.94 730.87L361.80 730.87L361.59 730.73L361.44 730.73L361.23 730.59L361.09 730.59L360.88 730.44L360.73 730.44L360.52 730.30L360.38 730.30L360.16 730.16L360.02 730.16L359.81 730.02L359.67 730.02L359.52 729.87L359.38 729.87L359.31 729.80L358.10 729.80L358.03 729.73L358.03 729.59L358.25 729.02L359.67 727.60L361.73 726.60L361.87 726.60L362.08 726.46L362.23 726.46L362.44 726.32L362.58 726.32L362.79 726.18L362.94 726.18L363.15 726.04L363.29 726.04L363.51 725.89L363.65 725.89L363.86 725.75L364.00 725.75L364.93 725.33L365.28 725.25L368.13 723.41L368.55 722.91L369.48 720.99L369.48 718.71L369.41 718.64L369.41 718.50L368.41 716.58L367.34 715.52L366.99 715.30L366.78 715.30L366.70 715.23L364.86 714.66L364.43 714.45L360.31 714.45L359.88 714.66L359.74 714.66L359.67 714.73L359.52 714.73L357.96 715.30ZM378.58 714.38L378.50 714.45L378.01 714.52L377.79 714.66L377.65 714.66L377.58 714.73L377.44 714.73L375.87 715.30L375.66 715.30L375.31 715.52L375.02 715.80L373.31 718.36L373.17 718.71L373.17 718.93L373.10 719.00L373.10 719.28L373.03 719.35L373.03 719.64L372.96 719.71L372.96 719.99L372.89 720.07L372.89 720.35L372.82 720.42L372.82 720.71L372.75 720.78L372.75 721.06L372.68 721.13L372.68 721.42L372.60 721.49L372.60 721.77L372.53 721.84L372.53 722.13L372.46 722.20L372.46 722.48L372.39 722.55L372.39 722.84L372.32 722.91L372.32 726.18L372.39 726.25L372.39 726.53L372.46 726.60L372.46 726.89L372.53 726.96L372.53 727.24L372.60 727.32L372.60 727.60L372.68 727.67L372.68 727.96L372.75 728.03L372.75 728.31L372.82 728.38L372.82 728.67L372.89 728.74L372.89 729.02L372.96 729.09L372.96 729.38L373.03 729.45L373.03 729.73L373.10 729.80L373.10 730.09L373.17 730.16L373.24 730.59L375.02 733.29L375.31 733.57L375.66 733.78L375.87 733.78L375.94 733.86L377.79 734.42L378.22 734.64L380.64 734.64L381.06 734.42L381.21 734.42L381.28 734.35L381.42 734.35L382.98 733.78L383.20 733.78L383.55 733.57L383.84 733.29L385.54 730.73L385.68 730.37L385.68 730.16L385.75 730.09L385.75 729.80L385.83 729.73L385.83 729.45L385.90 729.38L385.90 729.09L385.97 729.02L385.97 728.74L386.04 728.67L386.04 728.38L386.11 728.31L386.11 728.03L386.18 727.96L386.18 727.67L386.25 727.60L386.25 727.32L386.32 727.24L386.32 726.96L386.39 726.89L386.39 726.60L386.47 726.53L386.47 726.25L386.54 726.18L386.54 722.91L386.47 722.84L386.47 722.55L386.39 722.48L386.39 722.20L386.32 722.13L386.32 721.84L386.25 721.77L386.25 721.49L386.18 721.42L386.18 721.13L386.11 721.06L386.11 720.78L386.04 720.71L386.04 720.42L385.97 720.35L385.97 720.07L385.90 719.99L385.90 719.71L385.83 719.64L385.83 719.35L385.75 719.28L385.75 719.00L385.68 718.93L385.61 718.50L383.84 715.80L383.55 715.52L383.20 715.30L382.98 715.30L382.91 715.23L381.06 714.66L380.64 714.45L378.72 714.45ZM378.86 716.72L380.00 716.72L381.28 717.36L381.92 718.00L382.63 719.43L382.63 719.71L382.70 719.78L382.70 720.07L382.77 720.14L382.77 720.42L382.84 720.49L382.84 720.78L382.91 720.85L382.91 721.13L382.98 721.20L382.98 721.49L383.05 721.56L383.05 721.84L383.12 721.91L383.12 722.20L383.20 722.27L383.20 722.55L383.27 722.62L383.27 722.91L383.34 722.98L383.34 723.34L383.41 723.41L383.41 725.68L383.34 725.75L383.34 726.11L383.27 726.18L383.27 726.46L383.20 726.53L383.20 726.82L383.12 726.89L383.12 727.17L383.05 727.24L383.05 727.53L382.98 727.60L382.98 727.88L382.91 727.96L382.91 728.24L382.84 728.31L382.84 728.60L382.77 728.67L382.63 729.66L381.92 731.08L381.28 731.72L380.00 732.36L378.86 732.36L377.58 731.72L376.94 731.08L376.23 729.66L376.23 729.38L376.16 729.31L376.16 729.02L376.09 728.95L376.09 728.67L376.02 728.60L376.02 728.31L375.94 728.24L375.94 727.96L375.87 727.88L375.87 727.60L375.80 727.53L375.80 727.24L375.73 727.17L375.73 726.89L375.66 726.82L375.66 726.53L375.59 726.46L375.59 726.18L375.52 726.11L375.52 725.75L375.45 725.68L375.45 723.41L375.52 723.34L375.52 722.98L375.59 722.91L375.59 722.62L375.66 722.55L375.66 722.27L375.73 722.20L375.73 721.91L375.80 721.84L375.80 721.56L375.87 721.49L375.87 721.20L375.94 721.13L375.94 720.85L376.02 720.78L376.02 720.49L376.09 720.42L376.23 719.43L376.94 718.00L377.58 717.36Z"/>
<path d="M478.71 730.66L478.43 730.80L477.29 731.94L477.08 732.36L477.08 732.93L477.29 733.36L478.36 734.42L478.78 734.64L479.35 734.64L479.78 734.42L480.84 733.36L481.06 732.93L481.06 732.36L480.84 731.94L479.71 730.80L479.42 730.66ZM487.24 715.30L486.89 715.52L485.82 716.58L484.75 718.71L484.75 720.14L484.82 720.21L484.82 720.35L484.97 720.56L486.03 721.63L486.25 721.77L486.39 721.77L486.46 721.84L487.03 721.84L487.10 721.77L487.24 721.77L487.45 721.63L488.52 720.56L488.66 720.35L488.66 720.21L488.73 720.14L488.73 719.57L488.66 719.50L488.66 719.35L487.60 718.22L487.67 718.00L488.38 717.36L488.52 717.36L490.08 716.80L490.30 716.80L490.37 716.72L493.28 716.72L494.56 717.36L495.20 718.00L495.84 719.28L495.84 720.42L495.27 721.56L495.13 721.70L493.00 723.12L487.95 725.61L487.74 725.75L485.82 727.67L485.61 728.03L485.61 728.24L485.53 728.31L484.89 730.37L484.75 730.59L484.75 733.78L484.82 733.86L484.82 734.00L484.97 734.21L485.39 734.57L485.53 734.57L485.61 734.64L486.17 734.64L486.25 734.57L486.39 734.57L486.81 734.21L487.03 733.78L487.03 732.29L487.24 732.08L488.09 732.08L488.73 732.43L488.88 732.58L489.09 732.65L489.23 732.79L489.44 732.86L489.59 733.00L489.80 733.07L489.94 733.22L490.15 733.29L490.30 733.43L490.51 733.50L490.65 733.64L490.87 733.71L491.01 733.86L491.22 733.93L491.36 734.07L491.58 734.14L491.72 734.28L491.93 734.35L492.07 734.50L492.43 734.64L496.41 734.64L496.48 734.57L496.62 734.57L496.84 734.42L497.90 733.36L498.97 731.30L498.97 728.95L498.76 728.52L498.33 728.17L498.19 728.17L498.12 728.10L497.55 728.10L497.12 728.31L496.91 728.52L496.69 728.95L496.69 730.44L496.27 730.87L494.99 731.51L492.93 731.51L492.15 731.15L492.00 731.15L491.79 731.01L491.65 731.01L491.43 730.87L491.29 730.87L491.08 730.73L490.94 730.73L490.72 730.59L490.58 730.59L490.37 730.44L490.23 730.44L490.01 730.30L489.87 730.30L489.66 730.16L489.52 730.16L489.30 730.02L489.16 730.02L489.02 729.87L488.88 729.87L488.80 729.80L487.60 729.80L487.52 729.73L487.52 729.59L487.74 729.02L489.16 727.60L491.22 726.60L491.36 726.60L491.58 726.46L491.72 726.46L491.93 726.32L492.07 726.32L492.29 726.18L492.43 726.18L492.64 726.04L492.78 726.04L493.00 725.89L493.14 725.89L493.35 725.75L493.50 725.75L494.42 725.33L494.78 725.25L497.62 723.41L498.05 722.91L498.97 720.99L498.97 718.71L498.90 718.64L498.90 718.50L497.90 716.58L496.84 715.52L496.48 715.30L496.27 715.30L496.20 715.23L494.35 714.66L493.92 714.45L489.80 714.45L489.37 714.66L489.23 714.66L489.16 714.73L489.02 714.73L487.45 715.30ZM444.59 715.30L444.24 715.52L443.17 716.58L442.10 718.71L442.10 720.14L442.17 720.21L442.17 720.35L442.32 720.56L443.38 721.63L443.60 721.77L443.74 721.77L443.81 721.84L444.38 721.84L444.45 721.77L444.59 721.77L444.80 721.63L445.87 720.56L446.01 720.35L446.01 720.21L446.08 720.14L446.08 719.57L446.01 719.50L446.01 719.35L444.95 718.22L445.02 718.00L445.73 717.36L445.87 717.36L447.43 716.80L447.65 716.80L447.72 716.72L450.63 716.72L451.91 717.36L452.55 718.00L453.19 719.28L453.19 720.42L452.62 721.56L452.48 721.70L450.35 723.12L445.30 725.61L445.09 725.75L443.17 727.67L442.96 728.03L442.96 728.24L442.88 728.31L442.24 730.37L442.10 730.59L442.10 733.78L442.17 733.86L442.17 734.00L442.32 734.21L442.74 734.57L442.88 734.57L442.96 734.64L443.52 734.64L443.60 734.57L443.74 734.57L444.16 734.21L444.38 733.78L444.38 732.29L444.59 732.08L445.44 732.08L446.08 732.43L446.23 732.58L446.44 732.65L446.58 732.79L446.79 732.86L446.94 733.00L447.15 733.07L447.29 733.22L447.50 733.29L447.65 733.43L447.86 733.50L448.00 733.64L448.22 733.71L448.36 733.86L448.57 733.93L448.71 734.07L448.93 734.14L449.07 734.28L449.28 734.35L449.42 734.50L449.78 734.64L453.76 734.64L453.83 734.57L453.97 734.57L454.19 734.42L455.25 733.36L456.32 731.30L456.32 728.95L456.11 728.52L455.68 728.17L455.54 728.17L455.47 728.10L454.90 728.10L454.47 728.31L454.26 728.52L454.04 728.95L454.04 730.44L453.62 730.87L452.34 731.51L450.28 731.51L449.50 731.15L449.35 731.15L449.14 731.01L449.00 731.01L448.78 730.87L448.64 730.87L448.43 730.73L448.29 730.73L448.07 730.59L447.93 730.59L447.72 730.44L447.58 730.44L447.36 730.30L447.22 730.30L447.01 730.16L446.87 730.16L446.65 730.02L446.51 730.02L446.37 729.87L446.23 729.87L446.15 729.80L444.95 729.80L444.87 729.73L444.87 729.59L445.09 729.02L446.51 727.60L448.57 726.60L448.71 726.60L448.93 726.46L449.07 726.46L449.28 726.32L449.42 726.32L449.64 726.18L449.78 726.18L449.99 726.04L450.13 726.04L450.35 725.89L450.49 725.89L450.70 725.75L450.85 725.75L451.77 725.33L452.13 725.25L454.97 723.41L455.40 722.91L456.32 720.99L456.32 718.71L456.25 718.64L456.25 718.50L455.25 716.58L454.19 715.52L453.83 715.30L453.62 715.30L453.55 715.23L451.70 714.66L451.27 714.45L447.15 714.45L446.72 714.66L446.58 714.66L446.51 714.73L446.37 714.73L444.80 715.30ZM465.42 714.38L465.35 714.45L464.85 714.52L464.64 714.66L464.49 714.66L464.42 714.73L464.28 714.73L462.72 715.30L462.50 715.30L462.15 715.52L461.86 715.80L460.16 718.36L460.02 718.71L460.02 718.93L459.94 719.00L459.94 719.28L459.87 719.35L459.87 719.64L459.80 719.71L459.80 719.99L459.73 720.07L459.73 720.35L459.66 720.42L459.66 720.71L459.59 720.78L459.59 721.06L459.52 721.13L459.52 721.42L459.45 721.49L459.45 721.77L459.38 721.84L459.38 722.13L459.30 722.20L459.30 722.48L459.23 722.55L459.23 722.84L459.16 722.91L459.16 726.18L459.23 726.25L459.23 726.53L459.30 726.60L459.30 726.89L459.38 726.96L459.38 727.24L459.45 727.32L459.45 727.60L459.52 727.67L459.52 727.96L459.59 728.03L459.59 728.31L459.66 728.38L459.66 728.67L459.73 728.74L459.73 729.02L459.80 729.09L459.80 729.38L459.87 729.45L459.87 729.73L459.94 729.80L459.94 730.09L460.02 730.16L460.09 730.59L461.86 733.29L462.15 733.57L462.50 733.78L462.72 733.78L462.79 733.86L464.64 734.42L465.06 734.64L467.48 734.64L467.91 734.42L468.05 734.42L468.12 734.35L468.26 734.35L469.83 733.78L470.04 733.78L470.39 733.57L470.68 733.29L472.38 730.73L472.53 730.37L472.53 730.16L472.60 730.09L472.60 729.80L472.67 729.73L472.67 729.45L472.74 729.38L472.74 729.09L472.81 729.02L472.81 728.74L472.88 728.67L472.88 728.38L472.95 728.31L472.95 728.03L473.02 727.96L473.02 727.67L473.09 727.60L473.09 727.32L473.17 727.24L473.17 726.96L473.24 726.89L473.24 726.60L473.31 726.53L473.31 726.25L473.38 726.18L473.38 722.91L473.31 722.84L473.31 722.55L473.24 722.48L473.24 722.20L473.17 722.13L473.17 721.84L473.09 721.77L473.09 721.49L473.02 721.42L473.02 721.13L472.95 721.06L472.95 720.78L472.88 720.71L472.88 720.42L472.81 720.35L472.81 720.07L472.74 719.99L472.74 719.71L472.67 719.64L472.67 719.35L472.60 719.28L472.60 719.00L472.53 718.93L472.46 718.50L470.68 715.80L470.39 715.52L470.04 715.30L469.83 715.30L469.75 715.23L467.91 714.66L467.48 714.45L465.56 714.45ZM465.70 716.72L466.84 716.72L468.12 717.36L468.76 718.00L469.47 719.43L469.47 719.71L469.54 719.78L469.54 720.07L469.61 720.14L469.61 720.42L469.68 720.49L469.68 720.78L469.75 720.85L469.75 721.13L469.83 721.20L469.83 721.49L469.90 721.56L469.90 721.84L469.97 721.91L469.97 722.20L470.04 722.27L470.04 722.55L470.11 722.62L470.11 722.91L470.18 722.98L470.18 723.34L470.25 723.41L470.25 725.68L470.18 725.75L470.18 726.11L470.11 726.18L470.11 726.46L470.04 726.53L470.04 726.82L469.97 726.89L469.97 727.17L469.90 727.24L469.90 727.53L469.83 727.60L469.83 727.88L469.75 727.96L469.75 728.24L469.68 728.31L469.68 728.60L469.61 728.67L469.47 729.66L468.76 731.08L468.12 731.72L466.84 732.36L465.70 732.36L464.42 731.72L463.78 731.08L463.07 729.66L463.07 729.38L463.00 729.31L463.00 729.02L462.93 728.95L462.93 728.67L462.86 728.60L462.86 728.31L462.79 728.24L462.79 727.96L462.72 727.88L462.72 727.60L462.65 727.53L462.65 727.24L462.57 727.17L462.57 726.89L462.50 726.82L462.50 726.53L462.43 726.46L462.43 726.18L462.36 726.11L462.36 725.75L462.29 725.68L462.29 723.41L462.36 723.34L462.36 722.98L462.43 722.91L462.43 722.62L462.50 722.55L462.50 722.27L462.57 722.20L462.57 721.91L462.65 721.84L462.65 721.56L462.72 721.49L462.72 721.20L462.79 721.13L462.79 720.85L462.86 720.78L462.86 720.49L462.93 720.42L463.07 719.43L463.78 718.00L464.42 717.36Z"/>
<path d="M565.55 730.66L565.27 730.80L564.13 731.94L563.92 732.36L563.92 732.93L564.13 733.36L565.20 734.42L565.62 734.64L566.19 734.64L566.62 734.42L567.69 733.36L567.90 732.93L567.90 732.36L567.69 731.94L566.55 730.80L566.26 730.66ZM576.64 714.45L576.22 714.66L573.94 715.37L573.73 715.52L572.66 716.58L571.60 718.71L571.60 720.14L571.67 720.21L571.67 720.35L571.81 720.56L572.87 721.63L573.30 721.84L573.87 721.84L574.30 721.63L575.36 720.56L575.58 720.14L575.58 719.57L575.50 719.50L575.50 719.35L574.44 718.22L574.51 718.00L575.08 717.44L576.22 717.08L576.29 717.01L576.43 717.01L576.50 716.94L576.64 716.94L576.71 716.87L576.86 716.87L576.93 716.80L577.14 716.80L577.21 716.72L580.13 716.72L581.12 717.22L581.33 717.44L581.83 718.43L581.83 720.42L581.33 721.42L581.12 721.63L580.13 722.13L577.57 722.13L577.50 722.20L577.35 722.20L577.14 722.34L576.78 722.77L576.78 722.91L576.71 722.98L576.71 723.55L576.93 723.97L577.35 724.33L577.50 724.33L577.57 724.40L580.13 724.40L581.40 725.04L581.97 725.61L582.33 726.75L582.40 726.82L582.40 726.96L582.47 727.03L582.47 727.17L582.54 727.24L582.54 727.39L582.61 727.46L582.61 727.67L582.68 727.74L582.68 729.80L582.04 731.08L581.40 731.72L580.13 732.36L577.21 732.36L577.14 732.29L576.93 732.29L576.86 732.22L575.22 731.72L574.51 731.08L574.44 730.87L575.50 729.73L575.50 729.59L575.58 729.52L575.58 728.95L575.36 728.52L574.30 727.46L573.87 727.24L573.30 727.24L572.87 727.46L571.81 728.52L571.67 728.74L571.67 728.88L571.60 728.95L571.60 730.37L572.66 732.50L573.73 733.57L574.08 733.78L574.30 733.78L574.37 733.86L576.43 734.50L576.64 734.64L580.77 734.64L581.19 734.42L581.33 734.42L581.40 734.35L581.55 734.35L583.11 733.78L583.32 733.78L583.68 733.57L584.75 732.50L585.81 730.37L585.81 727.24L585.74 727.17L585.74 727.03L584.75 725.11L583.25 723.62L583.68 723.34L584.03 722.91L584.96 720.99L584.96 717.86L584.03 715.94L583.68 715.52L583.32 715.30L583.11 715.30L583.04 715.23L581.19 714.66L580.77 714.45ZM531.43 715.30L531.08 715.52L530.01 716.58L528.95 718.71L528.95 720.14L529.02 720.21L529.02 720.35L529.16 720.56L530.22 721.63L530.44 721.77L530.58 721.77L530.65 721.84L531.22 721.84L531.29 721.77L531.43 721.77L531.65 721.63L532.71 720.56L532.85 720.35L532.85 720.21L532.93 720.14L532.93 719.57L532.85 719.50L532.85 719.35L531.79 718.22L531.86 718.00L532.57 717.36L532.71 717.36L534.28 716.80L534.49 716.80L534.56 716.72L537.48 716.72L538.75 717.36L539.39 718.00L540.03 719.28L540.03 720.42L539.47 721.56L539.32 721.70L537.19 723.12L532.14 725.61L531.93 725.75L530.01 727.67L529.80 728.03L529.80 728.24L529.73 728.31L529.09 730.37L528.95 730.59L528.95 733.78L529.02 733.86L529.02 734.00L529.16 734.21L529.59 734.57L529.73 734.57L529.80 734.64L530.37 734.64L530.44 734.57L530.58 734.57L531.01 734.21L531.22 733.78L531.22 732.29L531.43 732.08L532.29 732.08L532.93 732.43L533.07 732.58L533.28 732.65L533.42 732.79L533.64 732.86L533.78 733.00L533.99 733.07L534.13 733.22L534.35 733.29L534.49 733.43L534.70 733.50L534.85 733.64L535.06 733.71L535.20 733.86L535.41 733.93L535.56 734.07L535.77 734.14L535.91 734.28L536.12 734.35L536.27 734.50L536.62 734.64L540.60 734.64L540.67 734.57L540.82 734.57L541.03 734.42L542.10 733.36L543.16 731.30L543.16 728.95L542.95 728.52L542.52 728.17L542.38 728.17L542.31 728.10L541.74 728.10L541.31 728.31L541.10 728.52L540.89 728.95L540.89 730.44L540.46 730.87L539.18 731.51L537.12 731.51L536.34 731.15L536.20 731.15L535.98 731.01L535.84 731.01L535.63 730.87L535.49 730.87L535.27 730.73L535.13 730.73L534.92 730.59L534.77 730.59L534.56 730.44L534.42 730.44L534.21 730.30L534.06 730.30L533.85 730.16L533.71 730.16L533.49 730.02L533.35 730.02L533.21 729.87L533.07 729.87L533.00 729.80L531.79 729.80L531.72 729.73L531.72 729.59L531.93 729.02L533.35 727.60L535.41 726.60L535.56 726.60L535.77 726.46L535.91 726.46L536.12 726.32L536.27 726.32L536.48 726.18L536.62 726.18L536.84 726.04L536.98 726.04L537.19 725.89L537.33 725.89L537.55 725.75L537.69 725.75L538.61 725.33L538.97 725.25L541.81 723.41L542.24 722.91L543.16 720.99L543.16 718.71L543.09 718.64L543.09 718.50L542.10 716.58L541.03 715.52L540.67 715.30L540.46 715.30L540.39 715.23L538.54 714.66L538.12 714.45L533.99 714.45L533.57 714.66L533.42 714.66L533.35 714.73L533.21 714.73L531.65 715.30ZM552.26 714.38L552.19 714.45L551.69 714.52L551.48 714.66L551.34 714.66L551.27 714.73L551.12 714.73L549.56 715.30L549.35 715.30L548.99 715.52L548.71 715.80L547.00 718.36L546.86 718.71L546.86 718.93L546.79 719.00L546.79 719.28L546.72 719.35L546.72 719.64L546.65 719.71L546.65 719.99L546.57 720.07L546.57 720.35L546.50 720.42L546.50 720.71L546.43 720.78L546.43 721.06L546.36 721.13L546.36 721.42L546.29 721.49L546.29 721.77L546.22 721.84L546.22 722.13L546.15 722.20L546.15 722.48L546.08 722.55L546.08 722.84L546.01 722.91L546.01 726.18L546.08 726.25L546.08 726.53L546.15 726.60L546.15 726.89L546.22 726.96L546.22 727.24L546.29 727.32L546.29 727.60L546.36 727.67L546.36 727.96L546.43 728.03L546.43 728.31L546.50 728.38L546.50 728.67L546.57 728.74L546.57 729.02L546.65 729.09L546.65 729.38L546.72 729.45L546.72 729.73L546.79 729.80L546.79 730.09L546.86 730.16L546.93 730.59L548.71 733.29L548.99 733.57L549.35 733.78L549.56 733.78L549.63 733.86L551.48 734.42L551.91 734.64L554.32 734.64L554.75 734.42L554.89 734.42L554.96 734.35L555.10 734.35L556.67 733.78L556.88 733.78L557.24 733.57L557.52 733.29L559.23 730.73L559.37 730.37L559.37 730.16L559.44 730.09L559.44 729.80L559.51 729.73L559.51 729.45L559.58 729.38L559.58 729.09L559.65 729.02L559.65 728.74L559.72 728.67L559.72 728.38L559.80 728.31L559.80 728.03L559.87 727.96L559.87 727.67L559.94 727.60L559.94 727.32L560.01 727.24L560.01 726.96L560.08 726.89L560.08 726.60L560.15 726.53L560.15 726.25L560.22 726.18L560.22 722.91L560.15 722.84L560.15 722.55L560.08 722.48L560.08 722.20L560.01 722.13L560.01 721.84L559.94 721.77L559.94 721.49L559.87 721.42L559.87 721.13L559.80 721.06L559.80 720.78L559.72 720.71L559.72 720.42L559.65 720.35L559.65 720.07L559.58 719.99L559.58 719.71L559.51 719.64L559.51 719.35L559.44 719.28L559.44 719.00L559.37 718.93L559.30 718.50L557.52 715.80L557.24 715.52L556.88 715.30L556.67 715.30L556.60 715.23L554.75 714.66L554.32 714.45L552.40 714.45ZM552.55 716.72L553.68 716.72L554.96 717.36L555.60 718.00L556.31 719.43L556.31 719.71L556.38 719.78L556.38 720.07L556.45 720.14L556.45 720.42L556.53 720.49L556.53 720.78L556.60 720.85L556.60 721.13L556.67 721.20L556.67 721.49L556.74 721.56L556.74 721.84L556.81 721.91L556.81 722.20L556.88 722.27L556.88 722.55L556.95 722.62L556.95 722.91L557.02 722.98L557.02 723.34L557.09 723.41L557.09 725.68L557.02 725.75L557.02 726.11L556.95 726.18L556.95 726.46L556.88 726.53L556.88 726.82L556.81 726.89L556.81 727.17L556.74 727.24L556.74 727.53L556.67 727.60L556.67 727.88L556.60 727.96L556.60 728.24L556.53 728.31L556.53 728.60L556.45 728.67L556.31 729.66L555.60 731.08L554.96 731.72L553.68 732.36L552.55 732.36L551.27 731.72L550.63 731.08L549.91 729.66L549.91 729.38L549.84 729.31L549.84 729.02L549.77 728.95L549.77 728.67L549.70 728.60L549.70 728.31L549.63 728.24L549.63 727.96L549.56 727.88L549.56 727.60L549.49 727.53L549.49 727.24L549.42 727.17L549.42 726.89L549.35 726.82L549.35 726.53L549.28 726.46L549.28 726.18L549.20 726.11L549.20 725.75L549.13 725.68L549.13 723.41L549.20 723.34L549.20 722.98L549.28 722.91L549.28 722.62L549.35 722.55L549.35 722.27L549.42 722.20L549.42 721.91L549.49 721.84L549.49 721.56L549.56 721.49L549.56 721.20L549.63 721.13L549.63 720.85L549.70 720.78L549.70 720.49L549.77 720.42L549.91 719.43L550.63 718.00L551.27 717.36Z"/>
<path d="M652.40 730.66L652.11 730.80L650.97 731.94L650.76 732.36L650.76 732.93L650.97 733.36L652.04 734.42L652.47 734.64L653.04 734.64L653.46 734.42L654.53 733.36L654.74 732.93L654.74 732.36L654.53 731.94L653.39 730.80L653.11 730.66ZM668.46 714.45L667.75 714.45L667.47 714.59L667.11 714.95L666.97 715.23L666.33 716.01L666.19 716.30L665.55 717.08L665.40 717.36L664.76 718.15L664.62 718.43L663.98 719.21L663.84 719.50L663.20 720.28L663.06 720.56L662.42 721.34L662.28 721.63L661.64 722.41L661.49 722.70L660.86 723.48L660.71 723.76L657.73 727.74L657.59 728.10L657.59 728.67L657.66 728.74L657.66 728.88L658.01 729.31L658.44 729.52L666.04 729.52L666.12 729.59L666.12 732.29L666.04 732.36L664.41 732.36L664.34 732.43L664.20 732.43L663.77 732.79L663.56 733.22L663.56 733.78L663.63 733.86L663.63 734.00L663.98 734.42L664.41 734.64L670.95 734.64L671.02 734.57L671.16 734.57L671.38 734.42L671.73 734.00L671.73 733.86L671.80 733.78L671.80 733.22L671.73 733.14L671.73 733.00L671.38 732.58L670.95 732.36L669.31 732.36L669.24 732.29L669.24 729.59L669.31 729.52L672.65 729.52L673.08 729.31L673.29 729.09L673.51 728.67L673.51 728.10L673.44 728.03L673.44 727.88L673.29 727.67L672.87 727.32L672.73 727.32L672.65 727.24L669.31 727.24L669.24 727.17L669.24 715.23L669.10 714.95L668.75 714.59ZM666.04 720.35L666.12 720.42L666.12 727.17L666.04 727.24L661.14 727.24L661.07 727.10L661.28 726.89L661.42 726.60L662.06 725.82L662.21 725.54L662.85 724.76L662.99 724.47L663.63 723.69L663.77 723.41L664.41 722.62L664.55 722.34ZM618.28 715.30L617.92 715.52L616.85 716.58L615.79 718.71L615.79 720.14L615.86 720.21L615.86 720.35L616.00 720.56L617.07 721.63L617.28 721.77L617.42 721.77L617.49 721.84L618.06 721.84L618.13 721.77L618.28 721.77L618.49 721.63L619.56 720.56L619.70 720.35L619.70 720.21L619.77 720.14L619.77 719.57L619.70 719.50L619.70 719.35L618.63 718.22L618.70 718.00L619.41 717.36L619.56 717.36L621.12 716.80L621.33 716.80L621.40 716.72L624.32 716.72L625.60 717.36L626.24 718.00L626.88 719.28L626.88 720.42L626.31 721.56L626.17 721.70L624.03 723.12L618.99 725.61L618.77 725.75L616.85 727.67L616.64 728.03L616.64 728.24L616.57 728.31L615.93 730.37L615.79 730.59L615.79 733.78L615.86 733.86L615.86 734.00L616.00 734.21L616.43 734.57L616.57 734.57L616.64 734.64L617.21 734.64L617.28 734.57L617.42 734.57L617.85 734.21L618.06 733.78L618.06 732.29L618.28 732.08L619.13 732.08L619.77 732.43L619.91 732.58L620.12 732.65L620.27 732.79L620.48 732.86L620.62 733.00L620.84 733.07L620.98 733.22L621.19 733.29L621.33 733.43L621.55 733.50L621.69 733.64L621.90 733.71L622.04 733.86L622.26 733.93L622.40 734.07L622.61 734.14L622.75 734.28L622.97 734.35L623.11 734.50L623.47 734.64L627.45 734.64L627.52 734.57L627.66 734.57L627.87 734.42L628.94 733.36L630.00 731.30L630.00 728.95L629.79 728.52L629.37 728.17L629.22 728.17L629.15 728.10L628.58 728.10L628.16 728.31L627.94 728.52L627.73 728.95L627.73 730.44L627.30 730.87L626.02 731.51L623.96 731.51L623.18 731.15L623.04 731.15L622.83 731.01L622.68 731.01L622.47 730.87L622.33 730.87L622.11 730.73L621.97 730.73L621.76 730.59L621.62 730.59L621.40 730.44L621.26 730.44L621.05 730.30L620.91 730.30L620.69 730.16L620.55 730.16L620.34 730.02L620.20 730.02L620.05 729.87L619.91 729.87L619.84 729.80L618.63 729.80L618.56 729.73L618.56 729.59L618.77 729.02L620.20 727.60L622.26 726.60L622.40 726.60L622.61 726.46L622.75 726.46L622.97 726.32L623.11 726.32L623.32 726.18L623.47 726.18L623.68 726.04L623.82 726.04L624.03 725.89L624.18 725.89L624.39 725.75L624.53 725.75L625.46 725.33L625.81 725.25L628.65 723.41L629.08 722.91L630.00 720.99L630.00 718.71L629.93 718.64L629.93 718.50L628.94 716.58L627.87 715.52L627.52 715.30L627.30 715.30L627.23 715.23L625.38 714.66L624.96 714.45L620.84 714.45L620.41 714.66L620.27 714.66L620.20 714.73L620.05 714.73L618.49 715.30ZM639.10 714.38L639.03 714.45L638.53 714.52L638.32 714.66L638.18 714.66L638.11 714.73L637.97 714.73L636.40 715.30L636.19 715.30L635.83 715.52L635.55 715.80L633.84 718.36L633.70 718.71L633.70 718.93L633.63 719.00L633.63 719.28L633.56 719.35L633.56 719.64L633.49 719.71L633.49 719.99L633.42 720.07L633.42 720.35L633.35 720.42L633.35 720.71L633.27 720.78L633.27 721.06L633.20 721.13L633.20 721.42L633.13 721.49L633.13 721.77L633.06 721.84L633.06 722.13L632.99 722.20L632.99 722.48L632.92 722.55L632.92 722.84L632.85 722.91L632.85 726.18L632.92 726.25L632.92 726.53L632.99 726.60L632.99 726.89L633.06 726.96L633.06 727.24L633.13 727.32L633.13 727.60L633.20 727.67L633.20 727.96L633.27 728.03L633.27 728.31L633.35 728.38L633.35 728.67L633.42 728.74L633.42 729.02L633.49 729.09L633.49 729.38L633.56 729.45L633.56 729.73L633.63 729.80L633.63 730.09L633.70 730.16L633.77 730.59L635.55 733.29L635.83 733.57L636.19 733.78L636.40 733.78L636.47 733.86L638.32 734.42L638.75 734.64L641.17 734.64L641.59 734.42L641.73 734.42L641.80 734.35L641.95 734.35L643.51 733.78L643.72 733.78L644.08 733.57L644.36 733.29L646.07 730.73L646.21 730.37L646.21 730.16L646.28 730.09L646.28 729.80L646.35 729.73L646.35 729.45L646.43 729.38L646.43 729.09L646.50 729.02L646.50 728.74L646.57 728.67L646.57 728.38L646.64 728.31L646.64 728.03L646.71 727.96L646.71 727.67L646.78 727.60L646.78 727.32L646.85 727.24L646.85 726.96L646.92 726.89L646.92 726.60L646.99 726.53L646.99 726.25L647.06 726.18L647.06 722.91L646.99 722.84L646.99 722.55L646.92 722.48L646.92 722.20L646.85 722.13L646.85 721.84L646.78 721.77L646.78 721.49L646.71 721.42L646.71 721.13L646.64 721.06L646.64 720.78L646.57 720.71L646.57 720.42L646.50 720.35L646.50 720.07L646.43 719.99L646.43 719.71L646.35 719.64L646.35 719.35L646.28 719.28L646.28 719.00L646.21 718.93L646.14 718.50L644.36 715.80L644.08 715.52L643.72 715.30L643.51 715.30L643.44 715.23L641.59 714.66L641.17 714.45L639.25 714.45ZM639.39 716.72L640.53 716.72L641.80 717.36L642.44 718.00L643.16 719.43L643.16 719.71L643.23 719.78L643.23 720.07L643.30 720.14L643.30 720.42L643.37 720.49L643.37 720.78L643.44 720.85L643.44 721.13L643.51 721.20L643.51 721.49L643.58 721.56L643.58 721.84L643.65 721.91L643.65 722.20L643.72 722.27L643.72 722.55L643.80 722.62L643.80 722.91L643.87 722.98L643.87 723.34L643.94 723.41L643.94 725.68L643.87 725.75L643.87 726.11L643.80 726.18L643.80 726.46L643.72 726.53L643.72 726.82L643.65 726.89L643.65 727.17L643.58 727.24L643.58 727.53L643.51 727.60L643.51 727.88L643.44 727.96L643.44 728.24L643.37 728.31L643.37 728.60L643.30 728.67L643.16 729.66L642.44 731.08L641.80 731.72L640.53 732.36L639.39 732.36L638.11 731.72L637.47 731.08L636.76 729.66L636.76 729.38L636.69 729.31L636.69 729.02L636.62 728.95L636.62 728.67L636.54 728.60L636.54 728.31L636.47 728.24L636.47 727.96L636.40 727.88L636.40 727.60L636.33 727.53L636.33 727.24L636.26 727.17L636.26 726.89L636.19 726.82L636.19 726.53L636.12 726.46L636.12 726.18L636.05 726.11L636.05 725.75L635.98 725.68L635.98 723.41L636.05 723.34L636.05 722.98L636.12 722.91L636.12 722.62L636.19 722.55L636.19 722.27L636.26 722.20L636.26 721.91L636.33 721.84L636.33 721.56L636.40 721.49L636.40 721.20L636.47 721.13L636.47 720.85L636.54 720.78L636.54 720.49L636.62 720.42L636.76 719.43L637.47 718.00L638.11 717.36Z"/>
<path d="M739.24 730.66L738.95 730.80L737.82 731.94L737.60 732.36L737.60 732.93L737.82 733.36L738.88 734.42L739.31 734.64L739.88 734.64L740.31 734.42L741.37 733.36L741.58 732.93L741.58 732.36L741.37 731.94L740.23 730.80L739.95 730.66ZM747.77 714.45L747.48 714.59L747.13 714.95L746.92 715.52L746.92 715.87L746.84 715.94L746.84 716.23L746.77 716.30L746.77 716.58L746.70 716.65L746.70 716.94L746.63 717.01L746.63 717.29L746.56 717.36L746.56 717.65L746.49 717.72L746.49 718.00L746.42 718.07L746.42 718.36L746.35 718.43L746.35 718.71L746.28 718.79L746.28 719.07L746.21 719.14L746.21 719.43L746.13 719.50L746.13 719.78L746.06 719.85L746.06 720.14L745.99 720.21L745.99 720.49L745.92 720.56L745.92 720.85L745.85 720.92L745.85 721.20L745.78 721.27L745.78 721.56L745.71 721.63L745.71 721.91L745.64 721.98L745.64 722.27L745.57 722.34L745.57 722.62L745.49 722.70L745.49 722.98L745.42 723.05L745.42 723.34L745.35 723.41L745.35 723.69L745.28 723.76L745.28 724.47L745.42 724.76L745.78 725.11L746.06 725.25L746.77 725.25L747.06 725.11L748.76 723.41L748.91 723.34L749.05 723.34L750.61 722.77L750.83 722.77L750.90 722.70L752.96 722.70L754.24 723.34L755.66 724.76L756.01 725.89L756.09 725.97L756.09 726.11L756.16 726.18L756.16 726.32L756.23 726.39L756.23 726.53L756.30 726.60L756.30 726.82L756.37 726.89L756.37 728.17L756.30 728.24L756.30 728.45L756.23 728.52L756.23 728.67L756.16 728.74L756.16 728.88L756.09 728.95L756.09 729.09L756.01 729.16L755.66 730.30L754.24 731.72L752.96 732.36L750.90 732.36L750.83 732.29L750.61 732.29L750.54 732.22L750.40 732.22L750.33 732.15L750.19 732.15L750.11 732.08L749.97 732.08L749.90 732.01L748.76 731.65L748.20 731.08L748.12 730.87L749.19 729.73L749.19 729.59L749.26 729.52L749.26 728.95L749.05 728.52L747.98 727.46L747.56 727.24L746.99 727.24L746.56 727.46L745.49 728.52L745.35 728.74L745.35 728.88L745.28 728.95L745.28 730.37L745.35 730.44L745.35 730.59L746.35 732.50L747.41 733.57L747.77 733.78L747.98 733.78L748.05 733.86L750.11 734.50L750.33 734.64L753.60 734.64L754.02 734.42L754.17 734.42L754.24 734.35L754.38 734.35L755.94 733.78L756.16 733.78L756.51 733.57L758.43 731.65L758.57 731.44L759.28 729.16L759.50 728.74L759.50 726.32L759.28 725.89L758.57 723.62L758.43 723.41L756.51 721.49L756.30 721.34L754.02 720.63L753.60 720.42L750.33 720.42L749.90 720.63L749.76 720.63L748.41 721.13L748.27 721.13L748.20 720.99L748.27 720.92L748.27 720.63L748.34 720.56L748.34 720.28L748.41 720.21L748.41 719.92L748.48 719.85L748.48 719.57L748.55 719.50L748.55 719.21L748.62 719.14L748.62 718.86L748.69 718.79L748.84 717.79L748.98 717.58L752.74 717.58L752.82 717.51L753.10 717.51L753.17 717.44L753.46 717.44L753.53 717.36L753.81 717.36L753.88 717.29L754.17 717.29L754.24 717.22L754.52 717.22L754.59 717.15L754.88 717.15L754.95 717.08L755.23 717.08L755.30 717.01L755.59 717.01L755.66 716.94L755.94 716.94L756.01 716.87L757.01 716.72L757.29 716.58L757.65 716.23L757.79 715.94L757.79 715.23L757.65 714.95L757.29 714.59L757.01 714.45ZM705.12 715.30L704.76 715.52L703.70 716.58L702.63 718.71L702.63 720.14L702.70 720.21L702.70 720.35L702.84 720.56L703.91 721.63L704.12 721.77L704.27 721.77L704.34 721.84L704.91 721.84L704.98 721.77L705.12 721.77L705.33 721.63L706.40 720.56L706.54 720.35L706.54 720.21L706.61 720.14L706.61 719.57L706.54 719.50L706.54 719.35L705.47 718.22L705.55 718.00L706.26 717.36L706.40 717.36L707.96 716.80L708.18 716.80L708.25 716.72L711.16 716.72L712.44 717.36L713.08 718.00L713.72 719.28L713.72 720.42L713.15 721.56L713.01 721.70L710.88 723.12L705.83 725.61L705.62 725.75L703.70 727.67L703.48 728.03L703.48 728.24L703.41 728.31L702.77 730.37L702.63 730.59L702.63 733.78L702.70 733.86L702.70 734.00L702.84 734.21L703.27 734.57L703.41 734.57L703.48 734.64L704.05 734.64L704.12 734.57L704.27 734.57L704.69 734.21L704.91 733.78L704.91 732.29L705.12 732.08L705.97 732.08L706.61 732.43L706.75 732.58L706.97 732.65L707.11 732.79L707.32 732.86L707.46 733.00L707.68 733.07L707.82 733.22L708.03 733.29L708.18 733.43L708.39 733.50L708.53 733.64L708.74 733.71L708.89 733.86L709.10 733.93L709.24 734.07L709.46 734.14L709.60 734.28L709.81 734.35L709.95 734.50L710.31 734.64L714.29 734.64L714.36 734.57L714.50 734.57L714.72 734.42L715.78 733.36L716.85 731.30L716.85 728.95L716.63 728.52L716.21 728.17L716.07 728.17L715.99 728.10L715.43 728.10L715.00 728.31L714.79 728.52L714.57 728.95L714.57 730.44L714.15 730.87L712.87 731.51L710.81 731.51L710.02 731.15L709.88 731.15L709.67 731.01L709.53 731.01L709.31 730.87L709.17 730.87L708.96 730.73L708.82 730.73L708.60 730.59L708.46 730.59L708.25 730.44L708.10 730.44L707.89 730.30L707.75 730.30L707.54 730.16L707.39 730.16L707.18 730.02L707.04 730.02L706.90 729.87L706.75 729.87L706.68 729.80L705.47 729.80L705.40 729.73L705.40 729.59L705.62 729.02L707.04 727.60L709.10 726.60L709.24 726.60L709.46 726.46L709.60 726.46L709.81 726.32L709.95 726.32L710.17 726.18L710.31 726.18L710.52 726.04L710.66 726.04L710.88 725.89L711.02 725.89L711.23 725.75L711.37 725.75L712.30 725.33L712.65 725.25L715.50 723.41L715.92 722.91L716.85 720.99L716.85 718.71L716.78 718.64L716.78 718.50L715.78 716.58L714.72 715.52L714.36 715.30L714.15 715.30L714.08 715.23L712.23 714.66L711.80 714.45L707.68 714.45L707.25 714.66L707.11 714.66L707.04 714.73L706.90 714.73L705.33 715.30ZM725.95 714.38L725.88 714.45L725.38 714.52L725.16 714.66L725.02 714.66L724.95 714.73L724.81 714.73L723.25 715.30L723.03 715.30L722.68 715.52L722.39 715.80L720.69 718.36L720.54 718.71L720.54 718.93L720.47 719.00L720.47 719.28L720.40 719.35L720.40 719.64L720.33 719.71L720.33 719.99L720.26 720.07L720.26 720.35L720.19 720.42L720.19 720.71L720.12 720.78L720.12 721.06L720.05 721.13L720.05 721.42L719.98 721.49L719.98 721.77L719.90 721.84L719.90 722.13L719.83 722.20L719.83 722.48L719.76 722.55L719.76 722.84L719.69 722.91L719.69 726.18L719.76 726.25L719.76 726.53L719.83 726.60L719.83 726.89L719.90 726.96L719.90 727.24L719.98 727.32L719.98 727.60L720.05 727.67L720.05 727.96L720.12 728.03L720.12 728.31L720.19 728.38L720.19 728.67L720.26 728.74L720.26 729.02L720.33 729.09L720.33 729.38L720.40 729.45L720.40 729.73L720.47 729.80L720.47 730.09L720.54 730.16L720.62 730.59L722.39 733.29L722.68 733.57L723.03 733.78L723.25 733.78L723.32 733.86L725.16 734.42L725.59 734.64L728.01 734.64L728.43 734.42L728.58 734.42L728.65 734.35L728.79 734.35L730.35 733.78L730.57 733.78L730.92 733.57L731.21 733.29L732.91 730.73L733.05 730.37L733.05 730.16L733.13 730.09L733.13 729.80L733.20 729.73L733.20 729.45L733.27 729.38L733.27 729.09L733.34 729.02L733.34 728.74L733.41 728.67L733.41 728.38L733.48 728.31L733.48 728.03L733.55 727.96L733.55 727.67L733.62 727.60L733.62 727.32L733.69 727.24L733.69 726.96L733.77 726.89L733.77 726.60L733.84 726.53L733.84 726.25L733.91 726.18L733.91 722.91L733.84 722.84L733.84 722.55L733.77 722.48L733.77 722.20L733.69 722.13L733.69 721.84L733.62 721.77L733.62 721.49L733.55 721.42L733.55 721.13L733.48 721.06L733.48 720.78L733.41 720.71L733.41 720.42L733.34 720.35L733.34 720.07L733.27 719.99L733.27 719.71L733.20 719.64L733.20 719.35L733.13 719.28L733.13 719.00L733.05 718.93L732.98 718.50L731.21 715.80L730.92 715.52L730.57 715.30L730.35 715.30L730.28 715.23L728.43 714.66L728.01 714.45L726.09 714.45ZM726.23 716.72L727.37 716.72L728.65 717.36L729.29 718.00L730.00 719.43L730.00 719.71L730.07 719.78L730.07 720.07L730.14 720.14L730.14 720.42L730.21 720.49L730.21 720.78L730.28 720.85L730.28 721.13L730.35 721.20L730.35 721.49L730.42 721.56L730.42 721.84L730.50 721.91L730.50 722.20L730.57 722.27L730.57 722.55L730.64 722.62L730.64 722.91L730.71 722.98L730.71 723.34L730.78 723.41L730.78 725.68L730.71 725.75L730.71 726.11L730.64 726.18L730.64 726.46L730.57 726.53L730.57 726.82L730.50 726.89L730.50 727.17L730.42 727.24L730.42 727.53L730.35 727.60L730.35 727.88L730.28 727.96L730.28 728.24L730.21 728.31L730.21 728.60L730.14 728.67L730.00 729.66L729.29 731.08L728.65 731.72L727.37 732.36L726.23 732.36L724.95 731.72L724.31 731.08L723.60 729.66L723.60 729.38L723.53 729.31L723.53 729.02L723.46 728.95L723.46 728.67L723.39 728.60L723.39 728.31L723.32 728.24L723.32 727.96L723.25 727.88L723.25 727.60L723.17 727.53L723.17 727.24L723.10 727.17L723.10 726.89L723.03 726.82L723.03 726.53L722.96 726.46L722.96 726.18L722.89 726.11L722.89 725.75L722.82 725.68L722.82 723.41L722.89 723.34L722.89 722.98L722.96 722.91L722.96 722.62L723.03 722.55L723.03 722.27L723.10 722.20L723.10 721.91L723.17 721.84L723.17 721.56L723.25 721.49L723.25 721.20L723.32 721.13L723.32 720.85L723.39 720.78L723.39 720.49L723.46 720.42L723.60 719.43L724.31 718.00L724.95 717.36Z"/>
<path d="M388.69 757.58L388.61 757.65L388.40 757.65L386.70 758.50L386.41 758.71L385.35 759.85L384.50 761.55L384.50 761.84L384.43 761.91L384.43 763.75L384.50 763.83L384.50 764.11L385.06 765.17L384.50 765.81L383.64 767.52L383.64 767.80L383.57 767.87L383.57 768.94L383.64 769.01L383.64 769.22L384.21 770.29L384.21 770.43L383.64 770.93L382.79 772.63L382.79 772.91L382.72 772.99L382.72 773.98L382.79 774.05L382.79 774.33L383.64 776.04L384.07 776.46L384.28 776.61L384.43 776.61L384.50 776.68L384.64 776.68L384.71 776.75L384.85 776.75L384.92 776.82L385.06 776.82L386.63 777.39L386.98 777.39L387.05 777.46L392.31 777.46L392.38 777.39L392.73 777.39L392.80 777.32L395.08 776.61L395.29 776.46L395.71 776.04L396.57 774.33L396.57 774.05L396.64 773.98L396.64 772.91L396.57 772.84L396.57 772.63L395.71 770.93L395.08 770.36L394.93 770.36L394.86 770.29L394.72 770.29L394.65 770.22L394.51 770.22L394.44 770.14L394.29 770.14L392.73 769.58L392.38 769.58L392.31 769.51L388.12 769.51L388.05 769.43L385.99 768.80L385.56 768.37L385.56 768.23L386.13 767.02L386.27 766.88L386.48 766.95L386.70 767.16L388.40 768.01L388.69 768.01L388.76 768.09L390.60 768.09L390.67 768.01L390.96 768.01L392.66 767.16L392.95 766.95L394.01 765.81L394.86 764.11L394.86 763.83L394.93 763.75L394.93 761.91L394.86 761.84L394.86 761.55L394.37 760.63L394.37 760.49L394.44 760.42L395.71 760.42L395.79 760.35L396.14 760.28L396.57 759.78L396.57 759.57L396.64 759.50L396.64 758.50L396.57 758.43L396.50 758.08L396.14 757.72L395.79 757.65L395.71 757.58L395.22 757.65L393.51 758.50L393.09 758.86L392.66 758.50L390.96 757.65L390.67 757.65L390.60 757.58ZM384.71 773.34L385.21 772.27L385.35 772.13L386.34 771.85L387.48 772.27L387.83 772.27L387.90 772.35L392.09 772.35L392.16 772.42L394.22 773.06L394.65 773.48L394.65 773.62L394.15 774.69L394.01 774.83L393.87 774.83L393.80 774.90L393.66 774.90L392.09 775.47L387.27 775.47L387.19 775.40L385.35 774.83L385.21 774.69L384.78 773.84ZM389.11 759.57L390.25 759.57L391.31 760.06L391.60 760.35L392.09 761.41L392.09 764.25L392.02 764.32L392.02 764.47L391.60 765.32L391.31 765.60L390.25 766.10L389.11 766.10L388.05 765.60L387.76 765.32L387.27 764.25L387.27 761.41L387.34 761.34L387.34 761.20L387.76 760.35L388.05 760.06ZM372.36 757.58L372.28 757.65L369.80 758.43L369.37 758.71L367.67 760.42L367.39 760.84L367.39 760.99L367.31 761.06L367.31 761.20L367.24 761.27L367.24 761.41L367.17 761.48L367.17 761.62L366.60 763.19L366.60 763.54L366.53 763.61L366.53 765.46L366.60 765.53L366.60 765.88L366.68 765.96L367.39 768.23L367.67 768.65L369.37 770.36L369.80 770.64L369.94 770.64L370.01 770.71L370.15 770.71L370.23 770.78L370.37 770.78L370.44 770.86L370.58 770.86L372.14 771.42L372.43 771.42L372.50 771.49L374.49 771.49L374.56 771.42L374.84 771.42L374.91 771.35L377.18 770.64L377.61 770.36L379.31 768.65L379.60 768.23L379.60 768.09L379.67 768.01L379.67 767.87L379.74 767.80L379.74 767.66L379.81 767.59L379.81 767.45L380.38 765.88L380.38 765.53L380.45 765.46L380.45 763.61L380.38 763.54L380.38 763.19L380.31 763.12L379.60 760.84L379.31 760.42L377.61 758.71L377.18 758.43L377.04 758.43L376.97 758.36L376.83 758.36L376.76 758.29L376.62 758.29L376.54 758.22L376.40 758.22L374.84 757.65L374.56 757.65L374.49 757.58ZM372.92 759.57L374.06 759.57L375.41 760.21L376.90 761.70L376.90 761.84L376.97 761.91L376.97 762.05L377.04 762.12L377.04 762.26L377.61 763.83L377.61 765.25L377.54 765.32L376.90 767.38L375.41 768.87L374.06 769.51L372.92 769.51L371.57 768.87L370.08 767.38L370.08 767.23L370.01 767.16L370.01 767.02L369.94 766.95L369.94 766.81L369.37 765.25L369.37 763.83L369.44 763.75L370.08 761.70L371.57 760.21ZM356.95 751.68L356.81 751.76L356.38 752.25L356.31 752.68L356.38 752.75L356.45 753.11L356.81 753.46L357.16 753.53L357.23 753.60L358.79 753.60L358.87 753.67L358.87 769.43L358.79 769.51L357.23 769.51L357.16 769.58L356.81 769.65L356.38 770.14L356.38 770.36L356.31 770.43L356.38 770.86L356.81 771.35L357.16 771.42L357.23 771.49L363.34 771.49L363.41 771.42L363.62 771.42L363.76 771.35L364.19 770.86L364.26 770.43L364.19 770.36L364.12 770.00L363.76 769.65L363.41 769.58L363.34 769.51L361.78 769.51L361.71 769.43L361.71 752.47L361.63 752.39L361.63 752.25L361.21 751.76L360.85 751.61L357.23 751.61L357.16 751.68Z"/>
<path d="M412.91 767.25L412.87 767.29L412.75 767.29L412.71 767.34L411.45 767.75L411.13 767.92L410.73 768.33L409.87 769.70L409.87 769.79L409.79 769.91L409.79 769.99L409.71 770.12L409.71 770.24L409.67 770.29L409.67 770.45L409.63 770.49L409.63 770.66L409.59 770.70L409.59 770.87L409.55 770.91L409.55 771.07L409.51 771.12L409.51 771.28L409.47 771.32L409.47 771.49L409.43 771.53L409.43 771.70L409.39 771.74L409.39 771.91L409.35 771.95L409.35 772.11L409.31 772.15L409.31 772.32L409.28 772.36L409.28 772.53L409.24 772.57L409.28 772.65L409.24 772.74L409.24 774.40L409.28 774.44L409.24 774.56L409.28 774.60L409.28 774.77L409.31 774.81L409.31 774.98L409.35 775.02L409.35 775.19L409.39 775.23L409.39 775.39L409.43 775.44L409.43 775.60L409.47 775.64L409.47 775.81L409.51 775.85L409.51 776.02L409.55 776.06L409.55 776.22L409.59 776.27L409.59 776.43L409.63 776.47L409.63 776.64L409.67 776.68L409.71 777.01L409.79 777.14L409.87 777.43L410.73 778.80L411.13 779.22L411.45 779.38L411.52 779.38L411.56 779.42L411.64 779.42L411.68 779.46L411.76 779.46L411.80 779.51L411.88 779.51L412.75 779.84L412.91 779.84L412.94 779.88L414.21 779.88L414.25 779.84L414.40 779.84L414.44 779.80L415.71 779.38L416.02 779.22L416.42 778.80L417.29 777.43L417.29 777.35L417.36 777.22L417.36 777.14L417.44 777.01L417.44 776.89L417.48 776.85L417.48 776.68L417.52 776.64L417.52 776.47L417.56 776.43L417.56 776.27L417.60 776.22L417.60 776.06L417.64 776.02L417.64 775.85L417.68 775.81L417.68 775.64L417.72 775.60L417.72 775.44L417.76 775.39L417.76 775.23L417.80 775.19L417.80 775.02L417.84 774.98L417.84 774.81L417.88 774.77L417.88 774.60L417.92 774.56L417.88 774.48L417.92 774.40L417.92 772.74L417.88 772.69L417.92 772.57L417.88 772.53L417.88 772.36L417.84 772.32L417.84 772.15L417.80 772.11L417.80 771.95L417.76 771.91L417.76 771.74L417.72 771.70L417.72 771.53L417.68 771.49L417.68 771.32L417.64 771.28L417.64 771.12L417.60 771.07L417.60 770.91L417.56 770.87L417.56 770.70L417.52 770.66L417.52 770.49L417.48 770.45L417.44 770.12L417.36 769.99L417.29 769.70L416.42 768.33L416.02 767.92L415.71 767.75L415.63 767.75L415.59 767.71L415.51 767.71L415.47 767.67L415.39 767.67L415.35 767.63L415.27 767.63L414.40 767.29L414.25 767.29L414.21 767.25ZM413.34 769.41L413.81 769.41L414.37 769.70L414.64 769.99L414.96 770.66L415.00 770.99L415.04 771.03L415.04 771.20L415.08 771.24L415.08 771.41L415.11 771.45L415.11 771.61L415.15 771.66L415.15 771.82L415.19 771.86L415.19 772.03L415.23 772.07L415.23 772.24L415.27 772.28L415.27 772.45L415.31 772.49L415.31 772.65L415.35 772.69L415.35 772.86L415.39 772.90L415.39 774.23L415.35 774.27L415.35 774.44L415.31 774.48L415.31 774.65L415.27 774.69L415.27 774.85L415.23 774.90L415.23 775.06L415.19 775.10L415.19 775.27L415.15 775.31L415.15 775.48L415.11 775.52L415.11 775.68L415.08 775.73L415.08 775.89L415.04 775.93L415.04 776.10L415.00 776.14L414.96 776.47L414.64 777.14L414.37 777.43L413.81 777.72L413.34 777.72L412.79 777.43L412.51 777.14L412.19 776.47L412.16 776.14L412.12 776.10L412.12 775.93L412.08 775.89L412.08 775.73L412.04 775.68L412.04 775.52L412.00 775.48L412.00 775.31L411.96 775.27L411.96 775.10L411.92 775.06L411.92 774.90L411.88 774.85L411.88 774.69L411.84 774.65L411.84 774.48L411.80 774.44L411.80 774.27L411.76 774.23L411.76 772.90L411.80 772.86L411.80 772.69L411.84 772.65L411.84 772.49L411.88 772.45L411.88 772.28L411.92 772.24L411.92 772.07L411.96 772.03L411.96 771.86L412.00 771.82L412.00 771.66L412.04 771.61L412.04 771.45L412.08 771.41L412.08 771.24L412.12 771.20L412.12 771.03L412.16 770.99L412.19 770.66L412.51 769.99L412.79 769.70ZM404.86 767.29L404.50 767.25L404.46 767.29L404.30 767.29L404.03 767.42L403.87 767.59L403.83 767.59L402.53 768.96L401.66 769.41L401.34 769.75L401.23 770.04L401.19 770.41L401.23 770.45L401.26 770.74L401.34 770.91L401.66 771.24L401.94 771.37L402.29 771.41L402.33 771.37L402.49 771.37L402.53 771.32L402.72 771.28L403.00 771.12L403.08 771.16L403.08 777.68L403.04 777.72L402.13 777.72L402.09 777.76L401.94 777.76L401.66 777.89L401.34 778.22L401.26 778.38L401.23 778.68L401.19 778.72L401.23 779.09L401.34 779.38L401.66 779.71L401.94 779.84L402.09 779.84L402.13 779.88L406.55 779.88L406.59 779.84L406.75 779.84L407.03 779.71L407.34 779.38L407.46 779.09L407.50 778.72L407.46 778.68L407.42 778.38L407.34 778.22L407.03 777.89L406.87 777.80L406.59 777.76L406.55 777.72L405.64 777.72L405.61 777.68L405.61 768.25L405.57 768.21L405.57 768.04L405.45 767.75L405.13 767.42Z"/>
<path d="M474.43 757.44L474.00 757.65L471.73 758.36L471.52 758.50L469.60 760.42L469.39 760.77L469.39 760.99L469.32 761.06L468.68 763.12L468.53 763.33L468.53 765.74L468.75 766.17L469.46 768.44L469.60 768.65L471.52 770.57L471.87 770.78L472.08 770.78L472.16 770.86L474.00 771.42L474.43 771.64L476.84 771.64L477.27 771.42L477.41 771.42L477.48 771.35L477.62 771.35L479.18 770.78L479.40 770.78L479.75 770.57L481.67 768.65L481.81 768.44L481.81 768.30L481.88 768.23L481.88 767.66L481.67 767.23L481.24 766.88L481.10 766.88L481.03 766.81L480.46 766.81L480.04 767.02L478.40 768.65L478.26 768.73L478.12 768.73L476.56 769.29L476.34 769.29L476.27 769.36L475.07 769.36L473.79 768.73L472.37 767.30L472.01 766.17L471.94 766.10L471.94 765.96L471.87 765.88L471.87 765.74L471.80 765.67L471.80 765.53L471.73 765.46L471.66 764.89L471.73 764.82L481.03 764.82L481.46 764.61L481.67 764.39L481.88 763.97L481.88 761.70L480.82 759.57L479.68 758.43L477.62 757.44ZM472.16 762.34L472.37 761.77L473.79 760.35L475.07 759.71L477.05 759.71L478.05 760.21L478.26 760.42L478.76 761.41L478.76 762.48L478.69 762.55L472.23 762.55L472.16 762.48ZM483.66 751.54L483.44 751.68L483.09 752.11L483.09 752.25L483.02 752.32L483.02 752.89L483.09 752.96L483.09 753.11L483.23 753.32L483.66 753.67L483.80 753.67L483.87 753.74L484.94 753.74L485.15 754.03L485.15 754.17L485.22 754.24L485.22 754.38L485.29 754.45L485.29 754.60L485.36 754.67L485.36 754.81L485.43 754.88L485.43 755.02L485.50 755.09L485.50 755.24L485.57 755.31L485.57 755.45L485.65 755.52L485.65 755.66L485.72 755.73L485.72 755.87L485.79 755.95L485.79 756.09L485.86 756.16L485.86 756.30L485.93 756.37L485.93 756.51L486.00 756.58L486.00 756.73L486.07 756.80L486.07 756.94L486.14 757.01L486.14 757.15L486.21 757.22L486.21 757.37L486.28 757.44L486.28 757.58L486.36 757.65L486.36 757.79L486.43 757.86L486.43 758.00L486.50 758.08L486.50 758.22L486.57 758.29L486.57 758.43L486.64 758.50L486.64 758.64L486.71 758.71L486.71 758.86L486.78 758.93L486.78 759.07L486.85 759.14L486.85 759.28L486.92 759.35L486.92 759.50L486.99 759.57L486.99 759.71L487.07 759.78L487.07 759.92L487.14 759.99L487.14 760.13L487.21 760.21L487.21 760.35L487.28 760.42L487.28 760.56L487.35 760.63L487.35 760.77L487.42 760.84L487.42 760.99L487.49 761.06L487.49 761.20L487.56 761.27L487.56 761.41L487.63 761.48L487.63 761.62L487.70 761.70L487.70 761.84L487.78 761.91L487.78 762.05L487.85 762.12L487.85 762.26L487.92 762.34L487.92 762.48L487.99 762.55L487.99 762.69L488.06 762.76L488.06 762.90L488.13 762.97L488.13 763.12L488.20 763.19L488.20 763.33L488.27 763.40L488.27 763.54L488.34 763.61L488.34 763.75L488.41 763.83L488.41 763.97L488.49 764.04L488.49 764.18L488.56 764.25L488.56 764.39L488.63 764.47L488.63 764.61L488.70 764.68L488.70 764.82L488.77 764.89L488.77 765.03L488.84 765.10L488.84 765.25L488.91 765.32L488.91 765.46L488.98 765.53L488.98 765.67L489.05 765.74L489.05 765.88L489.12 765.96L489.12 766.10L489.20 766.17L489.20 766.31L489.27 766.38L489.27 766.52L489.34 766.60L489.34 766.74L489.41 766.81L489.41 766.95L489.48 767.02L489.48 767.16L489.55 767.23L489.55 767.38L489.62 767.45L489.62 767.59L489.69 767.66L489.69 767.80L489.76 767.87L489.76 768.01L489.83 768.09L489.83 768.23L489.91 768.30L489.91 768.44L489.98 768.51L489.98 768.65L490.05 768.73L490.05 768.87L490.62 770.43L490.69 770.86L490.83 771.14L491.18 771.49L491.47 771.64L492.18 771.64L492.46 771.49L492.82 771.14L492.96 770.86L493.03 770.43L493.10 770.36L493.10 770.22L493.17 770.14L493.17 770.00L493.24 769.93L493.24 769.79L493.31 769.72L493.31 769.58L493.38 769.51L493.38 769.36L493.46 769.29L493.46 769.15L493.53 769.08L493.53 768.94L493.60 768.87L493.60 768.73L493.67 768.65L493.67 768.51L493.74 768.44L493.74 768.30L493.81 768.23L493.81 768.09L493.88 768.01L493.88 767.87L493.95 767.80L493.95 767.66L494.02 767.59L494.02 767.45L494.09 767.38L494.09 767.23L494.17 767.16L494.17 767.02L494.24 766.95L494.24 766.81L494.31 766.74L494.31 766.60L494.38 766.52L494.38 766.38L494.45 766.31L494.45 766.17L494.52 766.10L494.52 765.96L494.59 765.88L494.59 765.74L494.66 765.67L494.66 765.53L494.73 765.46L494.73 765.32L494.80 765.25L494.80 765.10L494.88 765.03L494.88 764.89L494.95 764.82L494.95 764.68L495.02 764.61L495.02 764.47L495.09 764.39L495.09 764.25L495.16 764.18L495.16 764.04L495.23 763.97L495.23 763.83L495.30 763.75L495.30 763.61L495.37 763.54L495.37 763.40L495.44 763.33L495.44 763.19L495.51 763.12L495.51 762.97L495.59 762.90L495.59 762.76L495.66 762.69L495.66 762.55L495.73 762.48L495.73 762.34L495.80 762.26L495.80 762.12L495.87 762.05L495.87 761.91L495.94 761.84L495.94 761.70L496.01 761.62L496.01 761.48L496.08 761.41L496.08 761.27L496.15 761.20L496.15 761.06L496.22 760.99L496.22 760.84L496.30 760.77L496.30 760.63L496.37 760.56L496.37 760.42L496.44 760.35L496.44 760.21L496.51 760.13L496.51 759.99L496.58 759.92L496.58 759.78L496.65 759.71L496.65 759.57L496.72 759.50L496.72 759.35L496.79 759.28L496.79 759.14L496.86 759.07L496.86 758.93L496.93 758.86L496.93 758.71L497.01 758.64L497.01 758.50L497.08 758.43L497.08 758.29L497.15 758.22L497.15 758.08L497.22 758.00L497.22 757.86L497.29 757.79L497.29 757.65L497.36 757.58L497.36 757.44L497.43 757.37L497.43 757.22L497.50 757.15L497.50 757.01L497.57 756.94L497.57 756.80L497.64 756.73L497.64 756.58L497.72 756.51L498.50 754.03L498.71 753.74L499.77 753.74L500.20 753.53L500.41 753.32L500.63 752.89L500.63 752.32L500.56 752.25L500.56 752.11L500.20 751.68L499.77 751.47L494.09 751.47L493.67 751.68L493.31 752.11L493.31 752.25L493.24 752.32L493.24 752.89L493.31 752.96L493.31 753.11L493.46 753.32L493.88 753.67L494.02 753.67L494.09 753.74L496.08 753.74L496.15 753.82L496.15 753.96L496.08 754.03L496.08 754.17L496.01 754.24L496.01 754.38L495.94 754.45L495.94 754.60L495.87 754.67L495.87 754.81L495.80 754.88L495.80 755.02L495.73 755.09L495.73 755.24L495.66 755.31L495.66 755.45L495.59 755.52L495.59 755.66L495.51 755.73L495.51 755.87L495.44 755.95L495.44 756.09L495.37 756.16L495.37 756.30L495.30 756.37L495.30 756.51L495.23 756.58L495.23 756.73L495.16 756.80L495.16 756.94L495.09 757.01L495.09 757.15L495.02 757.22L495.02 757.37L494.95 757.44L494.95 757.58L494.88 757.65L494.88 757.79L494.80 757.86L494.80 758.00L494.73 758.08L494.73 758.22L494.66 758.29L494.66 758.43L494.59 758.50L494.59 758.64L494.52 758.71L494.52 758.86L494.45 758.93L494.45 759.07L494.38 759.14L494.38 759.28L494.31 759.35L494.31 759.50L494.24 759.57L494.24 759.71L494.17 759.78L494.17 759.92L494.09 759.99L494.09 760.13L494.02 760.21L494.02 760.35L493.95 760.42L493.95 760.56L493.88 760.63L493.88 760.77L493.81 760.84L493.81 760.99L493.74 761.06L493.74 761.20L493.67 761.27L493.67 761.41L493.60 761.48L493.60 761.62L493.53 761.70L493.53 761.84L493.46 761.91L493.46 762.05L493.38 762.12L493.38 762.26L493.31 762.34L493.31 762.48L493.24 762.55L493.24 762.69L493.17 762.76L492.39 765.25L492.25 765.46L492.11 765.25L492.11 765.10L492.04 765.03L492.04 764.89L491.96 764.82L491.96 764.68L491.89 764.61L491.89 764.47L491.82 764.39L491.82 764.25L491.75 764.18L491.75 764.04L491.68 763.97L491.68 763.83L491.61 763.75L491.61 763.61L491.54 763.54L491.54 763.40L491.47 763.33L491.47 763.19L491.40 763.12L491.40 762.97L491.33 762.90L491.33 762.76L491.25 762.69L491.25 762.55L491.18 762.48L491.18 762.34L491.11 762.26L491.11 762.12L491.04 762.05L491.04 761.91L490.97 761.84L490.97 761.70L490.90 761.62L490.90 761.48L490.83 761.41L490.83 761.27L490.76 761.20L490.76 761.06L490.69 760.99L490.69 760.84L490.62 760.77L490.62 760.63L490.54 760.56L490.54 760.42L490.47 760.35L490.47 760.21L490.40 760.13L490.40 759.99L490.33 759.92L490.33 759.78L490.26 759.71L490.26 759.57L490.19 759.50L490.19 759.35L490.12 759.28L490.12 759.14L490.05 759.07L490.05 758.93L489.98 758.86L489.98 758.71L489.91 758.64L489.91 758.50L489.83 758.43L489.83 758.29L489.76 758.22L489.76 758.08L489.69 758.00L489.69 757.86L489.62 757.79L489.62 757.65L489.55 757.58L489.55 757.44L489.48 757.37L489.48 757.22L489.41 757.15L489.41 757.01L489.34 756.94L489.34 756.80L489.27 756.73L489.27 756.58L489.20 756.51L489.20 756.37L489.12 756.30L489.12 756.16L489.05 756.09L489.05 755.95L488.98 755.87L488.98 755.73L488.91 755.66L488.91 755.52L488.34 753.96L488.34 753.82L488.41 753.74L489.55 753.74L489.98 753.53L490.19 753.32L490.40 752.89L490.40 752.32L490.33 752.25L490.33 752.11L489.98 751.68L489.55 751.47L483.87 751.47L483.80 751.54ZM431.47 751.68L431.26 751.90L431.05 752.32L431.05 752.89L431.26 753.32L431.47 753.53L431.90 753.74L433.53 753.74L433.60 753.82L433.60 769.29L433.53 769.36L431.90 769.36L431.47 769.58L431.26 769.79L431.05 770.22L431.05 770.78L431.26 771.21L431.47 771.42L431.90 771.64L446.10 771.64L446.52 771.42L446.74 771.21L446.95 770.78L446.95 765.10L446.74 764.68L446.52 764.47L446.10 764.25L445.53 764.25L445.46 764.32L445.32 764.32L445.10 764.47L444.75 764.89L444.68 765.32L444.61 765.39L444.61 765.81L444.54 765.88L444.54 766.24L444.47 766.31L444.47 766.67L444.39 766.74L444.39 767.09L444.32 767.16L444.32 767.52L444.25 767.59L444.25 767.94L444.18 768.01L444.04 769.22L443.90 769.36L436.80 769.36L436.73 769.29L436.73 762.34L436.80 762.26L439.50 762.26L439.57 762.34L439.57 764.82L439.78 765.25L440.21 765.60L440.35 765.60L440.42 765.67L440.99 765.67L441.06 765.60L441.20 765.60L441.63 765.25L441.84 764.82L441.84 757.44L441.77 757.37L441.77 757.22L441.41 756.80L440.99 756.58L440.42 756.58L440.35 756.65L440.21 756.65L439.78 757.01L439.57 757.44L439.57 759.92L439.50 759.99L436.80 759.99L436.73 759.92L436.73 753.82L436.80 753.74L443.90 753.74L444.04 753.89L444.04 754.24L444.11 754.31L444.11 754.67L444.18 754.74L444.18 755.09L444.25 755.16L444.25 755.52L444.32 755.59L444.32 755.95L444.39 756.02L444.39 756.37L444.47 756.44L444.47 756.80L444.54 756.87L444.54 757.22L444.61 757.29L444.61 757.72L444.68 757.79L444.75 758.22L444.89 758.43L445.32 758.78L445.46 758.78L445.53 758.86L446.10 758.86L446.52 758.64L446.74 758.43L446.95 758.00L446.95 752.32L446.74 751.90L446.52 751.68L446.10 751.47L431.90 751.47ZM502.61 748.06L502.19 748.28L501.98 748.49L501.76 748.92L501.76 749.48L501.83 749.55L501.83 749.70L501.98 749.91L502.40 750.26L502.54 750.26L502.61 750.34L506.80 750.34L506.87 750.41L506.87 775.26L506.80 775.33L502.61 775.33L502.19 775.54L501.83 775.97L501.83 776.11L501.76 776.18L501.76 776.75L501.98 777.17L502.19 777.39L502.61 777.60L509.22 777.60L509.50 777.46L509.86 777.10L510.00 776.82L510.00 748.85L509.86 748.56L509.50 748.21L509.22 748.06ZM465.91 748.13L465.77 748.13L465.69 748.06L465.13 748.06L464.70 748.28L464.42 748.56L464.20 749.06L463.78 749.70L463.56 750.19L463.14 750.83L462.93 751.33L462.50 751.97L462.29 752.47L461.86 753.11L461.65 753.60L461.22 754.24L461.01 754.74L460.58 755.38L460.37 755.87L459.94 756.51L459.73 757.01L459.30 757.65L459.09 758.15L458.67 758.78L458.45 759.28L458.03 759.92L457.81 760.42L457.39 761.06L457.17 761.55L456.75 762.19L456.54 762.69L456.11 763.33L455.90 763.83L455.47 764.47L455.26 764.96L454.83 765.60L454.62 766.10L454.19 766.74L453.98 767.23L453.55 767.87L453.34 768.37L453.20 768.51L452.70 769.51L452.28 770.14L452.06 770.64L451.64 771.28L451.42 771.78L451.00 772.42L450.78 772.91L450.36 773.55L450.15 774.05L449.72 774.69L449.51 775.19L449.08 775.83L448.94 776.18L448.94 776.75L449.15 777.17L449.58 777.53L449.72 777.53L449.79 777.60L450.36 777.60L450.78 777.39L451.07 777.10L451.28 776.61L451.71 775.97L451.92 775.47L452.35 774.83L452.56 774.33L452.99 773.70L453.20 773.20L453.62 772.56L453.84 772.06L454.26 771.42L454.48 770.93L454.90 770.29L455.12 769.79L455.54 769.15L455.75 768.65L456.18 768.01L456.39 767.52L456.82 766.88L457.03 766.38L457.46 765.74L457.67 765.25L458.10 764.61L458.31 764.11L458.74 763.47L458.95 762.97L459.38 762.34L459.59 761.84L460.01 761.20L460.23 760.70L460.65 760.06L460.87 759.57L461.29 758.93L461.51 758.43L461.93 757.79L462.14 757.29L462.29 757.15L462.78 756.16L463.21 755.52L463.42 755.02L463.85 754.38L464.06 753.89L464.49 753.25L464.70 752.75L465.13 752.11L465.34 751.61L465.77 750.98L465.98 750.48L466.40 749.84L466.55 749.48L466.55 748.92L466.33 748.49ZM421.60 748.06L421.32 748.21L420.96 748.56L420.82 748.85L420.82 776.82L420.96 777.10L421.32 777.46L421.60 777.60L428.21 777.60L428.63 777.39L428.85 777.17L429.06 776.75L429.06 776.18L428.99 776.11L428.99 775.97L428.85 775.75L428.42 775.40L428.28 775.40L428.21 775.33L424.02 775.33L423.95 775.26L423.95 750.41L424.02 750.34L428.21 750.34L428.63 750.12L428.99 749.70L428.99 749.55L429.06 749.48L429.06 748.92L428.85 748.49L428.63 748.28L428.21 748.06Z"/>
<path d="M35.35 358.22L35.42 358.29L35.49 358.64L35.98 359.13L36.33 359.20L36.40 359.27L36.97 359.20L37.53 358.71L37.60 358.71L38.02 357.87L38.44 357.24L38.65 356.74L39.07 356.11L39.28 355.62L39.70 354.99L39.91 354.50L40.33 353.87L40.54 353.38L40.96 352.75L41.18 352.25L41.60 351.62L41.81 351.13L42.23 350.50L42.44 350.01L42.86 349.38L43.07 348.89L43.49 348.25L43.70 347.76L44.12 347.13L44.54 347.76L44.75 348.25L45.17 348.89L45.39 349.38L45.81 350.01L46.02 350.50L46.44 351.13L46.65 351.62L47.07 352.25L47.28 352.75L47.70 353.38L47.91 353.87L48.33 354.50L48.54 354.99L48.96 355.62L49.17 356.11L49.60 356.74L49.81 357.24L49.95 357.38L50.65 358.71L50.72 358.71L51.28 359.20L51.49 359.20L51.56 359.27L52.12 359.20L52.75 358.64L52.82 358.29L52.89 358.22L52.89 357.94L52.82 357.87L52.82 357.66L52.68 357.31L52.54 357.17L52.33 356.67L51.91 356.04L51.70 355.55L51.28 354.92L51.07 354.43L50.65 353.80L50.44 353.31L50.02 352.68L49.81 352.18L49.38 351.55L49.17 351.06L48.75 350.43L48.54 349.94L48.12 349.31L47.91 348.82L47.49 348.18L47.28 347.69L46.86 347.06L46.65 346.57L46.23 345.94L46.02 345.45L45.88 345.31L45.17 343.97L45.10 343.97L44.54 343.48L43.98 343.41L43.91 343.48L43.56 343.55L43.14 343.97L43.07 343.97L43.00 344.19L42.86 344.33L42.65 344.82L42.23 345.45L42.02 345.94L41.60 346.57L41.39 347.06L40.96 347.69L40.75 348.18L40.33 348.82L40.12 349.31L39.70 349.94L39.49 350.43L39.35 350.57L38.86 351.55L38.72 351.69L38.23 352.68L38.09 352.82L37.60 353.80L37.46 353.94L36.97 354.92L36.82 355.06L36.33 356.04L36.19 356.18L35.70 357.17L35.56 357.31L35.42 357.66L35.42 357.87L35.35 357.94ZM32.97 340.12L33.60 340.68L34.16 340.75L34.23 340.68L34.58 340.61L35.14 339.98L35.14 339.76L35.21 339.69L35.21 338.29L35.28 338.22L50.44 338.22L50.51 338.29L50.51 339.69L50.58 339.76L50.65 340.12L51.28 340.68L51.84 340.75L51.91 340.68L52.26 340.61L52.75 340.12L52.82 339.76L52.89 339.69L52.89 325.94L52.82 325.87L52.75 325.52L52.26 325.03L51.91 324.96L51.84 324.89L46.51 324.89L46.44 324.96L46.09 325.03L45.60 325.52L45.53 325.87L45.46 325.94L45.46 326.22L45.53 326.29L45.60 326.64L46.23 327.20L46.65 327.27L46.72 327.35L47.07 327.35L47.14 327.42L47.49 327.42L47.56 327.49L47.91 327.49L47.98 327.56L48.33 327.56L48.40 327.63L48.75 327.63L48.82 327.70L50.02 327.84L50.09 327.91L50.37 327.91L50.51 328.05L50.51 334.92L50.44 334.99L43.70 334.99L43.63 334.92L43.63 332.40L43.70 332.33L45.95 332.33L46.02 332.26L46.23 332.26L46.37 332.19L46.93 331.56L47.00 330.99L46.93 330.92L46.86 330.57L46.37 330.08L46.02 330.01L45.95 329.94L38.93 329.94L38.86 330.01L38.65 330.01L38.51 330.08L37.95 330.71L37.88 331.27L37.95 331.34L38.02 331.70L38.51 332.19L38.86 332.26L38.93 332.33L41.18 332.33L41.25 332.40L41.25 334.92L41.18 334.99L35.28 334.99L35.21 334.92L35.21 328.05L35.35 327.91L35.63 327.91L35.70 327.84L36.05 327.84L36.12 327.77L36.47 327.77L36.54 327.70L36.89 327.70L36.97 327.63L37.32 327.63L37.39 327.56L37.74 327.56L37.81 327.49L38.16 327.49L38.23 327.42L38.58 327.42L38.65 327.35L39.00 327.35L39.07 327.27L39.49 327.20L40.12 326.64L40.19 326.29L40.26 326.22L40.26 325.94L40.19 325.87L40.12 325.52L39.63 325.03L39.28 324.96L39.21 324.89L33.88 324.89L33.81 324.96L33.46 325.03L32.97 325.52L32.90 325.87L32.83 325.94L32.83 339.69L32.90 339.76ZM32.97 391.48L33.60 392.04L34.16 392.11L34.23 392.04L34.58 391.97L35.14 391.34L35.14 391.13L35.21 391.06L35.21 389.65L35.28 389.58L50.44 389.58L50.51 389.65L50.51 391.06L50.58 391.13L50.65 391.48L51.28 392.04L51.84 392.11L51.91 392.04L52.26 391.97L52.75 391.48L52.82 391.13L52.89 391.06L52.89 385.72L52.82 385.65L52.75 385.30L52.12 384.74L51.91 384.74L51.84 384.67L51.28 384.74L50.65 385.30L50.58 385.65L50.51 385.72L50.51 387.13L50.44 387.20L38.72 387.20L38.65 387.13L39.91 386.29L40.12 386.21L40.47 385.93L40.68 385.86L41.25 385.44L42.02 385.02L42.58 384.60L43.35 384.18L43.91 383.76L44.68 383.34L45.24 382.92L46.02 382.50L46.58 382.08L47.35 381.65L47.91 381.23L48.68 380.81L49.24 380.39L50.02 379.97L50.58 379.55L51.35 379.13L51.91 378.71L52.33 378.50L52.68 378.15L52.89 377.65L52.89 377.23L52.68 376.74L52.40 376.46L51.91 376.25L35.28 376.25L35.21 376.18L35.21 374.78L35.14 374.71L35.07 374.36L34.44 373.80L33.88 373.73L33.81 373.80L33.46 373.87L32.97 374.36L32.90 374.71L32.83 374.78L32.83 380.11L32.90 380.18L32.97 380.53L33.60 381.09L33.81 381.09L33.88 381.16L34.44 381.09L35.07 380.53L35.14 380.18L35.21 380.11L35.21 378.71L35.28 378.64L45.67 378.64L45.74 378.71L44.47 379.55L44.26 379.62L43.91 379.90L43.70 379.97L43.14 380.39L42.37 380.81L41.81 381.23L41.03 381.65L40.47 382.08L39.70 382.50L39.14 382.92L38.37 383.34L37.81 383.76L37.04 384.18L36.47 384.60L35.70 385.02L35.14 385.44L34.37 385.86L33.81 386.29L33.39 386.50L33.04 386.85L32.83 387.34L32.83 391.06L32.90 391.13ZM29.46 321.17L29.53 321.24L29.60 321.59L30.09 322.08L30.44 322.15L30.51 322.22L31.07 322.15L31.49 321.87L32.97 320.40L36.12 318.78L36.26 318.78L36.47 318.64L36.61 318.64L36.68 318.57L36.82 318.57L38.37 318.01L38.93 317.94L39.00 317.87L39.28 317.87L39.35 317.80L39.63 317.80L39.70 317.73L39.98 317.73L40.05 317.66L40.33 317.66L40.40 317.59L40.68 317.59L40.75 317.52L41.03 317.52L41.10 317.45L41.39 317.45L41.46 317.38L41.74 317.38L41.81 317.31L42.09 317.31L42.16 317.24L42.44 317.24L42.51 317.17L45.74 317.17L45.81 317.24L46.09 317.24L46.16 317.31L46.44 317.31L46.51 317.38L46.79 317.38L46.86 317.45L47.14 317.45L47.21 317.52L47.49 317.52L47.56 317.59L47.84 317.59L47.91 317.66L48.19 317.66L48.26 317.73L48.54 317.73L48.61 317.80L49.60 317.94L49.67 318.01L49.88 318.01L49.95 318.08L51.77 318.64L55.07 320.26L55.28 320.40L56.75 321.87L57.03 322.08L57.38 322.15L57.45 322.22L57.73 322.22L57.80 322.15L58.16 322.08L58.65 321.59L58.72 321.24L58.79 321.17L58.79 320.89L58.72 320.82L58.72 320.61L58.44 320.19L56.47 318.22L56.26 318.15L53.88 316.54L50.65 314.93L50.51 314.93L50.02 314.72L49.74 314.72L49.67 314.64L49.38 314.64L49.31 314.57L49.03 314.57L48.96 314.50L48.68 314.50L48.61 314.43L48.33 314.43L48.26 314.36L47.98 314.36L47.91 314.29L47.63 314.29L47.56 314.22L47.28 314.22L47.21 314.15L46.93 314.15L46.86 314.08L46.58 314.08L46.51 314.01L46.23 314.01L46.16 313.94L42.09 313.94L42.02 314.01L41.74 314.01L41.67 314.08L41.39 314.08L41.32 314.15L41.03 314.15L40.96 314.22L40.68 314.22L40.61 314.29L40.33 314.29L40.26 314.36L39.98 314.36L39.91 314.43L39.63 314.43L39.56 314.50L39.28 314.50L39.21 314.57L38.23 314.72L38.16 314.79L37.60 314.93L34.37 316.54L31.98 318.15L31.77 318.22L29.81 320.19L29.53 320.61ZM29.46 364.11L29.53 364.18L29.53 364.39L29.81 364.81L31.77 366.78L31.98 366.85L34.37 368.46L37.60 370.08L37.74 370.08L38.23 370.29L38.51 370.29L38.58 370.36L38.86 370.36L38.93 370.43L39.21 370.43L39.28 370.50L39.56 370.50L39.63 370.57L39.91 370.57L39.98 370.64L40.26 370.64L40.33 370.71L40.61 370.71L40.68 370.78L40.96 370.78L41.03 370.85L41.32 370.85L41.39 370.92L41.67 370.92L41.74 370.99L42.02 370.99L42.09 371.06L46.16 371.06L46.23 370.99L46.51 370.99L46.58 370.92L46.86 370.92L46.93 370.85L47.21 370.85L47.28 370.78L47.56 370.78L47.63 370.71L47.91 370.71L47.98 370.64L48.26 370.64L48.33 370.57L48.61 370.57L48.68 370.50L48.96 370.50L49.03 370.43L50.02 370.29L50.09 370.22L50.65 370.08L53.88 368.46L56.26 366.85L56.47 366.78L58.44 364.81L58.72 364.39L58.79 363.83L58.72 363.76L58.65 363.41L58.16 362.92L57.80 362.85L57.73 362.78L57.17 362.85L56.75 363.13L55.28 364.60L52.12 366.22L51.98 366.22L51.77 366.36L51.63 366.36L51.56 366.43L51.42 366.43L49.88 366.99L49.31 367.06L49.24 367.13L48.96 367.13L48.89 367.20L48.61 367.20L48.54 367.27L48.26 367.27L48.19 367.34L47.91 367.34L47.84 367.41L47.56 367.41L47.49 367.48L47.21 367.48L47.14 367.55L46.86 367.55L46.79 367.62L46.51 367.62L46.44 367.69L46.16 367.69L46.09 367.76L45.81 367.76L45.74 367.83L42.51 367.83L42.44 367.76L42.16 367.76L42.09 367.69L41.81 367.69L41.74 367.62L41.46 367.62L41.39 367.55L41.10 367.55L41.03 367.48L40.75 367.48L40.68 367.41L40.40 367.41L40.33 367.34L40.05 367.34L39.98 367.27L39.70 367.27L39.63 367.20L38.65 367.06L38.58 366.99L38.37 366.99L38.30 366.92L36.47 366.36L33.18 364.74L32.97 364.60L31.49 363.13L31.21 362.92L30.86 362.85L30.79 362.78L30.51 362.78L30.44 362.85L30.09 362.92L29.60 363.41L29.53 363.76L29.46 363.83Z"/>
<path d="M539.15 56.39L539.15 56.93L539.28 57.20L539.54 57.47L539.80 57.60L541.42 57.60L541.49 57.67L541.49 66.99L541.42 67.06L539.80 67.06L539.54 67.19L539.28 67.46L539.15 67.73L539.15 68.27L539.28 68.54L539.54 68.81L539.80 68.94L545.78 68.94L546.04 68.81L546.30 68.54L546.43 68.27L546.43 67.73L546.30 67.46L546.04 67.19L545.78 67.06L544.15 67.06L544.09 66.99L544.09 59.49L545.26 58.28L545.39 58.28L545.46 58.21L545.59 58.21L545.65 58.14L545.78 58.14L547.21 57.60L548.38 57.60L549.36 58.08L549.62 58.35L550.07 59.36L550.07 66.99L550.00 67.06L548.38 67.06L548.12 67.19L547.86 67.46L547.73 67.73L547.73 68.27L547.86 68.54L548.12 68.81L548.38 68.94L554.36 68.94L554.62 68.81L554.88 68.54L555.01 68.27L555.01 67.73L554.88 67.46L554.62 67.19L554.36 67.06L552.74 67.06L552.67 66.99L552.67 59.49L553.84 58.28L553.97 58.28L554.03 58.21L554.16 58.21L554.23 58.14L554.36 58.14L555.79 57.60L556.96 57.60L557.93 58.08L558.20 58.35L558.65 59.36L558.65 66.99L558.59 67.06L556.96 67.06L556.70 67.19L556.44 67.46L556.31 67.73L556.31 68.27L556.44 68.54L556.70 68.81L556.96 68.94L562.94 68.94L563.20 68.81L563.46 68.54L563.59 68.27L563.59 67.73L563.46 67.46L563.20 67.19L562.94 67.06L561.32 67.06L561.25 66.99L561.25 58.82L560.47 57.27L560.47 57.13L560.08 56.66L559.82 56.52L557.74 55.85L557.54 55.72L555.34 55.72L555.14 55.85L555.01 55.85L554.95 55.92L554.82 55.92L554.75 55.98L554.62 55.98L554.55 56.05L554.42 56.05L554.36 56.12L554.23 56.12L552.80 56.66L552.02 57.47L551.89 57.27L551.89 57.13L551.50 56.66L551.24 56.52L549.16 55.85L548.97 55.72L546.75 55.72L546.56 55.85L544.48 56.52L544.15 56.73L544.09 56.66L544.09 56.39L543.96 56.12L543.70 55.85L543.44 55.72L539.80 55.72L539.54 55.85L539.28 56.12Z"/>
<path d="M566.00 69.10 L567.30 68.70 L567.60 75.30 L570.60 73.00 L572.30 70.70 L572.80 68.90M568.00 69.00 L568.30 75.60" fill="none" stroke="#000" stroke-width="2.1" stroke-linecap="round" stroke-linejoin="round"/>
<path d="M577.7 58.20H590.9" fill="none" stroke="#000" stroke-width="2.2" stroke-linecap="round"/>
<path d="M577.7 62.90H590.9" fill="none" stroke="#000" stroke-width="2.2" stroke-linecap="round"/>
<path d="M614.07 65.23L613.55 65.57L613.49 65.70L612.64 66.58L612.51 66.92L612.51 67.46L612.64 67.80L613.81 69.01L614.14 69.15L614.66 69.15L614.99 69.01L616.15 67.80L616.28 67.46L616.28 66.92L616.15 66.58L615.31 65.70L615.31 65.64L614.99 65.37L614.73 65.23ZM627.14 49.84L626.62 49.84L626.29 49.98L623.95 52.41L622.39 53.22L622.00 53.62L621.88 53.96L621.88 54.50L622.00 54.84L622.39 55.24L622.72 55.38L623.24 55.38L624.80 54.57L624.93 54.57L625.00 54.63L625.00 66.78L624.93 66.85L622.72 66.85L622.39 66.99L621.94 67.53L621.94 67.66L621.88 67.73L621.88 68.27L622.00 68.61L622.39 69.01L622.72 69.15L630.26 69.15L630.59 69.01L630.98 68.61L631.11 68.27L631.11 67.73L631.04 67.66L631.04 67.53L630.98 67.39L630.45 66.92L630.32 66.92L630.26 66.85L628.05 66.85L627.99 66.78L627.99 50.72L627.86 50.38L627.46 49.98ZM601.92 49.77L601.86 49.84L601.53 49.84L601.20 50.05L601.07 50.05L599.64 50.58L599.45 50.58L599.00 50.79L598.54 51.26L598.48 51.46L597.30 53.28L597.11 53.49L596.85 54.23L596.85 54.50L596.78 54.57L596.78 54.84L596.72 54.91L596.72 55.17L596.65 55.24L596.65 55.51L596.59 55.58L596.59 55.85L596.52 55.92L596.52 56.19L596.46 56.25L596.46 56.52L596.39 56.59L596.39 56.86L596.33 56.93L596.33 57.20L596.26 57.27L596.26 57.54L596.20 57.60L596.20 57.88L596.13 57.94L596.13 61.05L596.20 61.12L596.20 61.38L596.26 61.45L596.26 61.72L596.33 61.79L596.33 62.06L596.39 62.13L596.39 62.40L596.46 62.47L596.46 62.73L596.52 62.80L596.52 63.07L596.59 63.14L596.59 63.41L596.65 63.48L596.65 63.75L596.72 63.81L596.72 64.08L596.78 64.15L596.78 64.42L596.85 64.49L596.85 64.76L596.91 64.83L596.98 65.23L598.48 67.53L598.54 67.73L599.00 68.20L599.25 68.34L599.64 68.41L599.71 68.47L601.20 68.94L601.60 69.15L603.80 69.15L604.19 68.94L604.32 68.94L605.75 68.41L605.95 68.41L606.40 68.20L606.86 67.73L606.92 67.53L608.10 65.70L608.29 65.50L608.55 64.76L608.55 64.49L608.62 64.42L608.62 64.15L608.68 64.08L608.68 63.81L608.75 63.75L608.75 63.48L608.81 63.41L608.81 63.14L608.88 63.07L608.88 62.80L608.94 62.73L608.94 62.47L609.00 62.40L609.00 62.13L609.07 62.06L609.07 61.79L609.13 61.72L609.13 61.45L609.20 61.38L609.20 61.12L609.26 61.05L609.26 57.94L609.20 57.88L609.20 57.60L609.13 57.54L609.13 57.27L609.07 57.20L609.07 56.93L609.00 56.86L609.00 56.59L608.94 56.52L608.94 56.25L608.88 56.19L608.88 55.92L608.81 55.85L608.81 55.58L608.75 55.51L608.75 55.24L608.68 55.17L608.68 54.91L608.62 54.84L608.62 54.57L608.55 54.50L608.55 54.23L608.49 54.16L608.42 53.76L606.92 51.46L606.86 51.26L606.40 50.79L606.14 50.65L605.75 50.58L605.69 50.52L604.19 50.05L603.80 49.84L602.05 49.84ZM602.18 52.14L603.22 52.14L604.26 52.68L604.85 53.22L605.56 54.70L605.62 55.24L605.69 55.31L605.69 55.58L605.75 55.65L605.75 55.92L605.82 55.98L605.82 56.25L605.88 56.32L605.88 56.59L605.95 56.66L605.95 56.93L606.01 57.00L606.01 57.27L606.08 57.34L606.08 57.60L606.14 57.67L606.14 57.94L606.21 58.01L606.21 58.35L606.27 58.41L606.27 60.58L606.21 60.64L606.21 60.98L606.14 61.05L606.14 61.32L606.08 61.38L606.08 61.66L606.01 61.72L606.01 61.99L605.95 62.06L605.95 62.33L605.88 62.40L605.88 62.67L605.82 62.73L605.82 63.00L605.75 63.07L605.75 63.34L605.69 63.41L605.69 63.68L605.62 63.75L605.62 64.02L605.56 64.08L605.50 64.49L604.85 65.77L604.26 66.31L603.22 66.85L602.18 66.85L601.14 66.31L600.55 65.77L599.84 64.29L599.77 63.75L599.71 63.68L599.71 63.41L599.64 63.34L599.64 63.07L599.58 63.00L599.58 62.73L599.51 62.67L599.51 62.40L599.45 62.33L599.45 62.06L599.38 61.99L599.38 61.72L599.32 61.66L599.32 61.38L599.25 61.32L599.25 61.05L599.19 60.98L599.19 60.64L599.12 60.58L599.12 58.41L599.19 58.35L599.19 58.01L599.25 57.94L599.25 57.67L599.32 57.60L599.32 57.34L599.38 57.27L599.38 57.00L599.45 56.93L599.45 56.66L599.51 56.59L599.51 56.32L599.58 56.25L599.58 55.98L599.64 55.92L599.64 55.65L599.71 55.58L599.71 55.31L599.77 55.24L599.77 54.97L599.84 54.91L599.90 54.50L600.55 53.22L601.14 52.68Z"/>
<path d="M654.52 55.51L654.46 55.58L654.20 55.58L654.00 55.72L653.87 55.72L653.81 55.78L653.68 55.78L653.61 55.85L653.48 55.85L653.42 55.92L653.29 55.92L651.86 56.46L651.66 56.59L650.04 58.28L649.71 58.82L649.06 60.98L649.00 61.05L649.00 61.32L648.93 61.38L648.93 63.27L649.00 63.34L649.00 63.61L649.06 63.68L649.06 63.81L649.13 63.88L649.13 64.02L649.19 64.08L649.19 64.22L649.26 64.29L649.26 64.42L649.32 64.49L649.32 64.62L649.84 66.11L650.04 66.38L651.60 68.00L652.12 68.34L654.00 68.94L654.20 69.08L654.46 69.08L654.52 69.15L656.41 69.15L656.47 69.08L656.73 69.08L656.80 69.01L658.88 68.34L659.33 68.07L660.96 66.38L661.15 66.11L661.22 65.77L661.28 65.70L661.28 65.44L661.22 65.37L661.15 65.03L660.57 64.49L660.37 64.49L660.31 64.42L659.79 64.49L659.40 64.76L658.03 66.18L657.90 66.25L657.77 66.25L656.34 66.78L656.15 66.78L656.08 66.85L654.98 66.85L653.74 66.18L652.57 64.96L652.25 63.88L652.18 63.81L652.18 63.68L652.12 63.61L652.12 63.48L652.05 63.41L652.05 63.27L651.99 63.21L651.92 62.73L651.99 62.67L660.31 62.67L660.37 62.60L660.57 62.60L660.70 62.53L661.22 61.92L661.22 61.72L661.28 61.66L661.28 59.77L661.22 59.70L661.15 59.29L660.44 57.81L660.18 57.54L660.18 57.47L659.07 56.39L657.64 55.65L657.25 55.58L657.19 55.51ZM652.38 60.24L652.57 59.70L653.74 58.48L654.98 57.81L656.80 57.81L657.71 58.28L657.84 58.41L658.29 59.36L658.29 60.30L658.23 60.37L652.44 60.37Z"/>
<path d="M664.42 49.91L664.30 49.98L663.88 50.52L663.88 50.65L663.82 50.72L663.82 51.26L663.88 51.33L663.88 51.46L663.94 51.60L664.42 52.07L664.54 52.07L664.60 52.14L665.51 52.14L665.63 52.34L665.63 52.47L665.69 52.54L665.69 52.68L665.75 52.74L665.75 52.88L665.81 52.95L665.81 53.08L665.87 53.15L665.87 53.28L665.93 53.35L665.93 53.49L665.99 53.55L665.99 53.69L666.05 53.76L666.05 53.89L666.11 53.96L666.11 54.09L666.18 54.16L666.18 54.30L666.24 54.37L666.24 54.50L666.30 54.57L666.30 54.70L666.36 54.77L666.36 54.91L666.42 54.97L666.42 55.11L666.48 55.17L666.48 55.31L666.54 55.38L666.54 55.51L666.60 55.58L666.60 55.72L666.66 55.78L666.66 55.92L666.72 55.98L666.72 56.12L666.78 56.19L666.78 56.32L666.84 56.39L666.84 56.52L666.90 56.59L666.90 56.73L666.96 56.80L666.96 56.93L667.02 57.00L667.02 57.13L667.08 57.20L667.08 57.34L667.14 57.40L667.14 57.54L667.20 57.60L667.20 57.74L667.26 57.81L667.26 57.94L667.32 58.01L667.32 58.14L667.38 58.21L667.38 58.35L667.44 58.41L667.44 58.55L667.51 58.62L667.51 58.75L667.57 58.82L667.57 58.95L667.63 59.02L667.63 59.16L667.69 59.23L667.69 59.36L667.75 59.43L667.75 59.56L667.81 59.63L667.81 59.77L667.87 59.83L667.87 59.97L667.93 60.03L667.93 60.17L667.99 60.24L667.99 60.37L668.05 60.44L668.05 60.58L668.11 60.64L668.11 60.78L668.17 60.84L668.17 60.98L668.23 61.05L668.23 61.18L668.29 61.25L668.29 61.38L668.35 61.45L668.35 61.59L668.41 61.66L668.41 61.79L668.47 61.86L668.47 61.99L668.53 62.06L668.53 62.20L668.59 62.26L668.59 62.40L668.65 62.47L668.65 62.60L668.71 62.67L668.71 62.80L668.77 62.87L668.77 63.00L668.84 63.07L668.84 63.21L668.90 63.27L668.90 63.41L668.96 63.48L668.96 63.61L669.02 63.68L669.02 63.81L669.08 63.88L669.08 64.02L669.14 64.08L669.14 64.22L669.20 64.29L669.20 64.42L669.26 64.49L669.26 64.62L669.32 64.69L669.32 64.83L669.38 64.89L669.38 65.03L669.44 65.10L669.44 65.23L669.50 65.30L669.50 65.44L669.56 65.50L669.56 65.64L669.62 65.70L669.62 65.84L669.68 65.91L669.68 66.04L669.74 66.11L669.74 66.25L669.80 66.31L669.80 66.45L670.29 67.93L670.35 68.34L670.47 68.61L670.83 69.01L671.07 69.15L671.68 69.15L671.92 69.01L672.28 68.61L672.40 68.34L672.46 67.93L672.52 67.86L672.52 67.73L672.58 67.66L672.58 67.53L672.64 67.46L672.64 67.33L672.70 67.26L672.70 67.12L672.76 67.06L672.76 66.92L672.82 66.85L672.82 66.72L672.89 66.65L672.89 66.52L672.95 66.45L672.95 66.31L673.01 66.25L673.01 66.11L673.07 66.04L673.07 65.91L673.13 65.84L673.13 65.70L673.19 65.64L673.19 65.50L673.25 65.44L673.25 65.30L673.31 65.23L673.31 65.10L673.37 65.03L673.37 64.89L673.43 64.83L673.43 64.69L673.49 64.62L673.49 64.49L673.55 64.42L673.55 64.29L673.61 64.22L673.61 64.08L673.67 64.02L673.67 63.88L673.73 63.81L673.73 63.68L673.79 63.61L673.79 63.48L673.85 63.41L673.85 63.27L673.91 63.21L673.91 63.07L673.97 63.00L673.97 62.87L674.03 62.80L674.03 62.67L674.09 62.60L674.09 62.47L674.15 62.40L674.15 62.26L674.22 62.20L674.22 62.06L674.28 61.99L674.28 61.86L674.34 61.79L674.34 61.66L674.40 61.59L674.40 61.45L674.46 61.38L674.46 61.25L674.52 61.18L674.52 61.05L674.58 60.98L674.58 60.84L674.64 60.78L674.64 60.64L674.70 60.58L674.70 60.44L674.76 60.37L674.76 60.24L674.82 60.17L674.82 60.03L674.88 59.97L674.88 59.83L674.94 59.77L674.94 59.63L675.00 59.56L675.00 59.43L675.06 59.36L675.06 59.23L675.12 59.16L675.12 59.02L675.18 58.95L675.18 58.82L675.24 58.75L675.24 58.62L675.30 58.55L675.30 58.41L675.36 58.35L675.36 58.21L675.42 58.14L675.42 58.01L675.48 57.94L675.48 57.81L675.55 57.74L675.55 57.60L675.61 57.54L675.61 57.40L675.67 57.34L675.67 57.20L675.73 57.13L675.73 57.00L675.79 56.93L675.79 56.80L675.85 56.73L675.85 56.59L675.91 56.52L675.91 56.39L675.97 56.32L675.97 56.19L676.03 56.12L676.03 55.98L676.09 55.92L676.09 55.78L676.15 55.72L676.15 55.58L676.21 55.51L676.21 55.38L676.27 55.31L676.27 55.17L676.33 55.11L676.33 54.97L676.39 54.91L676.39 54.77L676.45 54.70L677.12 52.34L677.24 52.14L678.14 52.14L678.45 52.00L678.81 51.60L678.93 51.26L678.93 50.72L678.87 50.65L678.87 50.52L678.45 49.98L678.14 49.84L673.31 49.84L673.01 49.98L672.64 50.38L672.52 50.72L672.52 51.26L672.64 51.60L673.01 52.00L673.31 52.14L674.94 52.14L675.00 52.27L674.94 52.34L674.94 52.47L674.88 52.54L674.88 52.68L674.82 52.74L674.82 52.88L674.76 52.95L674.76 53.08L674.70 53.15L674.70 53.28L674.64 53.35L674.64 53.49L674.58 53.55L674.58 53.69L674.52 53.76L674.52 53.89L674.46 53.96L674.46 54.09L674.40 54.16L674.40 54.30L674.34 54.37L674.34 54.50L674.28 54.57L674.28 54.70L674.22 54.77L674.22 54.91L674.15 54.97L674.15 55.11L674.09 55.17L674.09 55.31L674.03 55.38L674.03 55.51L673.97 55.58L673.97 55.72L673.91 55.78L673.91 55.92L673.85 55.98L673.85 56.12L673.79 56.19L673.79 56.32L673.73 56.39L673.73 56.52L673.67 56.59L673.67 56.73L673.61 56.80L673.61 56.93L673.55 57.00L673.55 57.13L673.49 57.20L673.49 57.34L673.43 57.40L673.43 57.54L673.37 57.60L673.37 57.74L673.31 57.81L673.31 57.94L673.25 58.01L673.25 58.14L673.19 58.21L673.19 58.35L673.13 58.41L673.13 58.55L673.07 58.62L673.07 58.75L673.01 58.82L673.01 58.95L672.95 59.02L672.95 59.16L672.89 59.23L672.89 59.36L672.82 59.43L672.82 59.56L672.76 59.63L672.76 59.77L672.70 59.83L672.70 59.97L672.64 60.03L672.64 60.17L672.58 60.24L672.58 60.37L672.52 60.44L671.86 62.80L671.74 63.00L671.62 62.80L671.62 62.67L671.56 62.60L671.56 62.47L671.49 62.40L671.49 62.26L671.43 62.20L671.43 62.06L671.37 61.99L671.37 61.86L671.31 61.79L671.31 61.66L671.25 61.59L671.25 61.45L671.19 61.38L671.19 61.25L671.13 61.18L671.13 61.05L671.07 60.98L671.07 60.84L671.01 60.78L671.01 60.64L670.95 60.58L670.95 60.44L670.89 60.37L670.89 60.24L670.83 60.17L670.83 60.03L670.77 59.97L670.77 59.83L670.71 59.77L670.71 59.63L670.65 59.56L670.65 59.43L670.59 59.36L670.59 59.23L670.53 59.16L670.53 59.02L670.47 58.95L670.47 58.82L670.41 58.75L670.41 58.62L670.35 58.55L670.35 58.41L670.29 58.35L670.29 58.21L670.23 58.14L670.23 58.01L670.16 57.94L670.16 57.81L670.10 57.74L670.10 57.60L670.04 57.54L670.04 57.40L669.98 57.34L669.98 57.20L669.92 57.13L669.92 57.00L669.86 56.93L669.86 56.80L669.80 56.73L669.80 56.59L669.74 56.52L669.74 56.39L669.68 56.32L669.68 56.19L669.62 56.12L669.62 55.98L669.56 55.92L669.56 55.78L669.50 55.72L669.50 55.58L669.44 55.51L669.44 55.38L669.38 55.31L669.38 55.17L669.32 55.11L669.32 54.97L669.26 54.91L669.26 54.77L669.20 54.70L669.20 54.57L669.14 54.50L669.14 54.37L669.08 54.30L669.08 54.16L669.02 54.09L669.02 53.96L668.96 53.89L668.96 53.76L668.47 52.27L668.53 52.14L669.44 52.14L669.50 52.07L669.62 52.07L670.10 51.60L670.23 51.26L670.23 50.72L670.10 50.38L669.74 49.98L669.44 49.84L664.60 49.84L664.54 49.91Z"/>
<path d="M539.15 85.59L539.15 86.13L539.28 86.40L539.54 86.67L539.80 86.81L541.42 86.81L541.49 86.87L541.49 96.19L541.42 96.26L539.80 96.26L539.54 96.39L539.28 96.66L539.15 96.93L539.15 97.47L539.28 97.74L539.54 98.01L539.80 98.14L545.78 98.14L546.04 98.01L546.30 97.74L546.43 97.47L546.43 96.93L546.30 96.66L546.04 96.39L545.78 96.26L544.15 96.26L544.09 96.19L544.09 88.70L545.26 87.48L545.39 87.48L545.46 87.41L545.59 87.41L545.65 87.34L545.78 87.34L547.21 86.81L548.38 86.81L549.36 87.28L549.62 87.55L550.07 88.56L550.07 96.19L550.00 96.26L548.38 96.26L548.12 96.39L547.86 96.66L547.73 96.93L547.73 97.47L547.86 97.74L548.12 98.01L548.38 98.14L554.36 98.14L554.62 98.01L554.88 97.74L555.01 97.47L555.01 96.93L554.88 96.66L554.62 96.39L554.36 96.26L552.74 96.26L552.67 96.19L552.67 88.70L553.84 87.48L553.97 87.48L554.03 87.41L554.16 87.41L554.23 87.34L554.36 87.34L555.79 86.81L556.96 86.81L557.93 87.28L558.20 87.55L558.65 88.56L558.65 96.19L558.59 96.26L556.96 96.26L556.70 96.39L556.44 96.66L556.31 96.93L556.31 97.47L556.44 97.74L556.70 98.01L556.96 98.14L562.94 98.14L563.20 98.01L563.46 97.74L563.59 97.47L563.59 96.93L563.46 96.66L563.20 96.39L562.94 96.26L561.32 96.26L561.25 96.19L561.25 88.02L560.47 86.47L560.47 86.33L560.08 85.86L559.82 85.73L557.74 85.05L557.54 84.92L555.34 84.92L555.14 85.05L555.01 85.05L554.95 85.12L554.82 85.12L554.75 85.19L554.62 85.19L554.55 85.25L554.42 85.25L554.36 85.32L554.23 85.32L552.80 85.86L552.02 86.67L551.89 86.47L551.89 86.33L551.50 85.86L551.24 85.73L549.16 85.05L548.97 84.92L546.75 84.92L546.56 85.05L544.48 85.73L544.15 85.93L544.09 85.86L544.09 85.59L543.96 85.32L543.70 85.05L543.44 84.92L539.80 84.92L539.54 85.05L539.28 85.32Z"/>
<path d="M566.00 98.30 L567.30 97.90 L567.60 104.50 L570.60 102.20 L572.30 99.90 L572.80 98.10M568.00 98.20 L568.30 104.80" fill="none" stroke="#000" stroke-width="2.1" stroke-linecap="round" stroke-linejoin="round"/>
<path d="M577.7 87.40H590.9" fill="none" stroke="#000" stroke-width="2.2" stroke-linecap="round"/>
<path d="M577.7 92.10H590.9" fill="none" stroke="#000" stroke-width="2.2" stroke-linecap="round"/>
<path d="M614.07 94.43L613.55 94.77L613.49 94.91L612.64 95.78L612.51 96.12L612.51 96.66L612.64 97.00L613.81 98.21L614.14 98.35L614.66 98.35L614.99 98.21L616.15 97.00L616.28 96.66L616.28 96.12L616.15 95.78L615.31 94.91L615.31 94.84L614.99 94.57L614.73 94.43ZM621.88 79.85L621.62 79.99L620.44 81.20L619.53 83.16L619.53 84.51L619.60 84.58L619.60 84.71L619.66 84.85L620.84 86.06L621.16 86.20L621.68 86.20L622.00 86.06L623.17 84.85L623.24 84.71L623.24 84.58L623.30 84.51L623.30 83.97L623.24 83.90L623.24 83.77L623.17 83.63L622.33 82.75L622.26 82.62L622.39 82.42L622.91 81.95L623.04 81.95L624.48 81.41L624.67 81.41L624.74 81.34L627.40 81.34L628.63 82.01L629.15 82.62L629.67 83.70L629.67 84.78L629.22 85.73L628.89 86.06L627.01 87.34L624.28 88.76L624.15 88.76L623.89 88.97L622.39 89.71L620.44 91.73L620.25 92.20L620.25 92.41L620.18 92.48L619.73 94.03L619.53 94.43L619.53 97.47L619.60 97.54L619.60 97.67L620.05 98.21L620.38 98.35L620.90 98.35L621.23 98.21L621.62 97.81L621.75 97.47L621.75 96.05L621.88 95.92L622.65 95.92L623.24 96.26L623.37 96.39L623.56 96.46L623.69 96.59L623.89 96.66L624.02 96.80L624.22 96.86L624.35 97.00L624.54 97.06L624.67 97.20L624.87 97.27L625.00 97.40L625.19 97.47L625.32 97.61L625.51 97.67L625.64 97.81L625.84 97.88L626.16 98.14L626.62 98.35L630.26 98.35L630.32 98.28L630.45 98.28L630.59 98.21L631.75 97.00L632.66 95.11L632.66 92.88L632.53 92.54L632.14 92.14L631.82 92.00L631.30 92.00L630.98 92.14L630.59 92.54L630.45 92.88L630.45 94.30L630.00 94.70L628.96 95.24L627.14 95.24L627.07 95.17L626.75 95.11L626.55 94.97L626.42 94.97L626.23 94.84L626.10 94.84L625.90 94.70L625.77 94.70L625.58 94.57L625.45 94.57L625.25 94.43L625.12 94.43L624.93 94.30L624.80 94.30L624.61 94.16L624.48 94.16L624.28 94.03L624.15 94.03L623.95 93.89L623.82 93.89L623.50 93.69L623.37 93.69L623.30 93.62L622.26 93.62L622.20 93.49L622.39 92.95L623.56 91.73L623.76 91.60L625.38 90.79L625.51 90.79L625.71 90.65L625.84 90.65L626.03 90.52L626.16 90.52L626.36 90.38L626.49 90.38L626.68 90.25L626.81 90.25L627.01 90.11L627.14 90.11L627.34 89.98L627.46 89.98L627.66 89.84L627.79 89.84L627.99 89.71L628.12 89.71L628.31 89.57L628.76 89.44L629.15 89.23L629.35 89.03L631.11 87.82L631.30 87.75L631.75 87.28L632.66 85.32L632.66 83.16L632.60 83.09L632.60 82.96L631.75 81.20L630.59 79.99L630.13 79.78L629.93 79.78L629.87 79.72L628.38 79.25L627.99 79.04L624.22 79.04L623.82 79.25L623.69 79.25L622.26 79.78ZM601.92 78.97L601.86 79.04L601.53 79.04L601.20 79.25L601.07 79.25L599.64 79.78L599.45 79.78L599.00 79.99L598.54 80.46L598.48 80.66L597.30 82.48L597.11 82.69L596.85 83.43L596.85 83.70L596.78 83.77L596.78 84.04L596.72 84.11L596.72 84.38L596.65 84.44L596.65 84.71L596.59 84.78L596.59 85.05L596.52 85.12L596.52 85.39L596.46 85.45L596.46 85.73L596.39 85.79L596.39 86.06L596.33 86.13L596.33 86.40L596.26 86.47L596.26 86.74L596.20 86.81L596.20 87.08L596.13 87.14L596.13 90.25L596.20 90.31L596.20 90.59L596.26 90.65L596.26 90.92L596.33 90.99L596.33 91.26L596.39 91.33L596.39 91.60L596.46 91.67L596.46 91.94L596.52 92.00L596.52 92.27L596.59 92.34L596.59 92.61L596.65 92.68L596.65 92.95L596.72 93.02L596.72 93.28L596.78 93.35L596.78 93.62L596.85 93.69L596.85 93.96L596.91 94.03L596.98 94.43L598.48 96.73L598.54 96.93L599.00 97.40L599.25 97.54L599.64 97.61L599.71 97.67L601.20 98.14L601.60 98.35L603.80 98.35L604.19 98.14L604.32 98.14L605.75 97.61L605.95 97.61L606.40 97.40L606.86 96.93L606.92 96.73L608.10 94.91L608.29 94.70L608.55 93.96L608.55 93.69L608.62 93.62L608.62 93.35L608.68 93.28L608.68 93.02L608.75 92.95L608.75 92.68L608.81 92.61L608.81 92.34L608.88 92.27L608.88 92.00L608.94 91.94L608.94 91.67L609.00 91.60L609.00 91.33L609.07 91.26L609.07 90.99L609.13 90.92L609.13 90.65L609.20 90.59L609.20 90.31L609.26 90.25L609.26 87.14L609.20 87.08L609.20 86.81L609.13 86.74L609.13 86.47L609.07 86.40L609.07 86.13L609.00 86.06L609.00 85.79L608.94 85.73L608.94 85.45L608.88 85.39L608.88 85.12L608.81 85.05L608.81 84.78L608.75 84.71L608.75 84.44L608.68 84.38L608.68 84.11L608.62 84.04L608.62 83.77L608.55 83.70L608.55 83.43L608.49 83.36L608.42 82.96L606.92 80.66L606.86 80.46L606.40 79.99L606.14 79.85L605.75 79.78L605.69 79.72L604.19 79.25L603.80 79.04L602.05 79.04ZM602.18 81.34L603.22 81.34L604.26 81.88L604.85 82.42L605.56 83.90L605.62 84.44L605.69 84.51L605.69 84.78L605.75 84.85L605.75 85.12L605.82 85.19L605.82 85.45L605.88 85.52L605.88 85.79L605.95 85.86L605.95 86.13L606.01 86.20L606.01 86.47L606.08 86.53L606.08 86.81L606.14 86.87L606.14 87.14L606.21 87.21L606.21 87.55L606.27 87.62L606.27 89.78L606.21 89.84L606.21 90.18L606.14 90.25L606.14 90.52L606.08 90.59L606.08 90.86L606.01 90.92L606.01 91.19L605.95 91.26L605.95 91.53L605.88 91.60L605.88 91.87L605.82 91.94L605.82 92.20L605.75 92.27L605.75 92.54L605.69 92.61L605.69 92.88L605.62 92.95L605.62 93.22L605.56 93.28L605.50 93.69L604.85 94.97L604.26 95.51L603.22 96.05L602.18 96.05L601.14 95.51L600.55 94.97L599.84 93.49L599.77 92.95L599.71 92.88L599.71 92.61L599.64 92.54L599.64 92.27L599.58 92.20L599.58 91.94L599.51 91.87L599.51 91.60L599.45 91.53L599.45 91.26L599.38 91.19L599.38 90.92L599.32 90.86L599.32 90.59L599.25 90.52L599.25 90.25L599.19 90.18L599.19 89.84L599.12 89.78L599.12 87.62L599.19 87.55L599.19 87.21L599.25 87.14L599.25 86.87L599.32 86.81L599.32 86.53L599.38 86.47L599.38 86.20L599.45 86.13L599.45 85.86L599.51 85.79L599.51 85.52L599.58 85.45L599.58 85.19L599.64 85.12L599.64 84.85L599.71 84.78L599.71 84.51L599.77 84.44L599.77 84.17L599.84 84.11L599.90 83.70L600.55 82.42L601.14 81.88Z"/>
<path d="M654.52 84.71L654.46 84.78L654.20 84.78L654.00 84.92L653.87 84.92L653.81 84.98L653.68 84.98L653.61 85.05L653.48 85.05L653.42 85.12L653.29 85.12L651.86 85.66L651.66 85.79L650.04 87.48L649.71 88.02L649.06 90.18L649.00 90.25L649.00 90.52L648.93 90.59L648.93 92.48L649.00 92.54L649.00 92.81L649.06 92.88L649.06 93.02L649.13 93.08L649.13 93.22L649.19 93.28L649.19 93.42L649.26 93.49L649.26 93.62L649.32 93.69L649.32 93.83L649.84 95.31L650.04 95.58L651.60 97.20L652.12 97.54L654.00 98.14L654.20 98.28L654.46 98.28L654.52 98.35L656.41 98.35L656.47 98.28L656.73 98.28L656.80 98.21L658.88 97.54L659.33 97.27L660.96 95.58L661.15 95.31L661.22 94.97L661.28 94.91L661.28 94.64L661.22 94.57L661.15 94.23L660.57 93.69L660.37 93.69L660.31 93.62L659.79 93.69L659.40 93.96L658.03 95.38L657.90 95.45L657.77 95.45L656.34 95.98L656.15 95.98L656.08 96.05L654.98 96.05L653.74 95.38L652.57 94.16L652.25 93.08L652.18 93.02L652.18 92.88L652.12 92.81L652.12 92.68L652.05 92.61L652.05 92.48L651.99 92.41L651.92 91.94L651.99 91.87L660.31 91.87L660.37 91.80L660.57 91.80L660.70 91.73L661.22 91.12L661.22 90.92L661.28 90.86L661.28 88.97L661.22 88.90L661.15 88.49L660.44 87.01L660.18 86.74L660.18 86.67L659.07 85.59L657.64 84.85L657.25 84.78L657.19 84.71ZM652.38 89.44L652.57 88.90L653.74 87.68L654.98 87.01L656.80 87.01L657.71 87.48L657.84 87.62L658.29 88.56L658.29 89.50L658.23 89.57L652.44 89.57Z"/>
<path d="M664.42 79.11L664.30 79.18L663.88 79.72L663.88 79.85L663.82 79.92L663.82 80.46L663.88 80.53L663.88 80.66L663.94 80.80L664.42 81.27L664.54 81.27L664.60 81.34L665.51 81.34L665.63 81.54L665.63 81.67L665.69 81.74L665.69 81.88L665.75 81.95L665.75 82.08L665.81 82.15L665.81 82.28L665.87 82.35L665.87 82.48L665.93 82.55L665.93 82.69L665.99 82.75L665.99 82.89L666.05 82.96L666.05 83.09L666.11 83.16L666.11 83.30L666.18 83.36L666.18 83.50L666.24 83.56L666.24 83.70L666.30 83.77L666.30 83.90L666.36 83.97L666.36 84.11L666.42 84.17L666.42 84.31L666.48 84.38L666.48 84.51L666.54 84.58L666.54 84.71L666.60 84.78L666.60 84.92L666.66 84.98L666.66 85.12L666.72 85.19L666.72 85.32L666.78 85.39L666.78 85.52L666.84 85.59L666.84 85.73L666.90 85.79L666.90 85.93L666.96 86.00L666.96 86.13L667.02 86.20L667.02 86.33L667.08 86.40L667.08 86.53L667.14 86.60L667.14 86.74L667.20 86.81L667.20 86.94L667.26 87.01L667.26 87.14L667.32 87.21L667.32 87.34L667.38 87.41L667.38 87.55L667.44 87.62L667.44 87.75L667.51 87.82L667.51 87.95L667.57 88.02L667.57 88.16L667.63 88.22L667.63 88.36L667.69 88.42L667.69 88.56L667.75 88.63L667.75 88.76L667.81 88.83L667.81 88.97L667.87 89.03L667.87 89.17L667.93 89.23L667.93 89.37L667.99 89.44L667.99 89.57L668.05 89.64L668.05 89.78L668.11 89.84L668.11 89.98L668.17 90.05L668.17 90.18L668.23 90.25L668.23 90.38L668.29 90.45L668.29 90.59L668.35 90.65L668.35 90.79L668.41 90.86L668.41 90.99L668.47 91.06L668.47 91.19L668.53 91.26L668.53 91.39L668.59 91.46L668.59 91.60L668.65 91.67L668.65 91.80L668.71 91.87L668.71 92.00L668.77 92.07L668.77 92.20L668.84 92.27L668.84 92.41L668.90 92.48L668.90 92.61L668.96 92.68L668.96 92.81L669.02 92.88L669.02 93.02L669.08 93.08L669.08 93.22L669.14 93.28L669.14 93.42L669.20 93.49L669.20 93.62L669.26 93.69L669.26 93.83L669.32 93.89L669.32 94.03L669.38 94.09L669.38 94.23L669.44 94.30L669.44 94.43L669.50 94.50L669.50 94.64L669.56 94.70L669.56 94.84L669.62 94.91L669.62 95.04L669.68 95.11L669.68 95.24L669.74 95.31L669.74 95.45L669.80 95.51L669.80 95.65L670.29 97.13L670.35 97.54L670.47 97.81L670.83 98.21L671.07 98.35L671.68 98.35L671.92 98.21L672.28 97.81L672.40 97.54L672.46 97.13L672.52 97.06L672.52 96.93L672.58 96.86L672.58 96.73L672.64 96.66L672.64 96.53L672.70 96.46L672.70 96.32L672.76 96.26L672.76 96.12L672.82 96.05L672.82 95.92L672.89 95.85L672.89 95.72L672.95 95.65L672.95 95.51L673.01 95.45L673.01 95.31L673.07 95.24L673.07 95.11L673.13 95.04L673.13 94.91L673.19 94.84L673.19 94.70L673.25 94.64L673.25 94.50L673.31 94.43L673.31 94.30L673.37 94.23L673.37 94.09L673.43 94.03L673.43 93.89L673.49 93.83L673.49 93.69L673.55 93.62L673.55 93.49L673.61 93.42L673.61 93.28L673.67 93.22L673.67 93.08L673.73 93.02L673.73 92.88L673.79 92.81L673.79 92.68L673.85 92.61L673.85 92.48L673.91 92.41L673.91 92.27L673.97 92.20L673.97 92.07L674.03 92.00L674.03 91.87L674.09 91.80L674.09 91.67L674.15 91.60L674.15 91.46L674.22 91.39L674.22 91.26L674.28 91.19L674.28 91.06L674.34 90.99L674.34 90.86L674.40 90.79L674.40 90.65L674.46 90.59L674.46 90.45L674.52 90.38L674.52 90.25L674.58 90.18L674.58 90.05L674.64 89.98L674.64 89.84L674.70 89.78L674.70 89.64L674.76 89.57L674.76 89.44L674.82 89.37L674.82 89.23L674.88 89.17L674.88 89.03L674.94 88.97L674.94 88.83L675.00 88.76L675.00 88.63L675.06 88.56L675.06 88.42L675.12 88.36L675.12 88.22L675.18 88.16L675.18 88.02L675.24 87.95L675.24 87.82L675.30 87.75L675.30 87.62L675.36 87.55L675.36 87.41L675.42 87.34L675.42 87.21L675.48 87.14L675.48 87.01L675.55 86.94L675.55 86.81L675.61 86.74L675.61 86.60L675.67 86.53L675.67 86.40L675.73 86.33L675.73 86.20L675.79 86.13L675.79 86.00L675.85 85.93L675.85 85.79L675.91 85.73L675.91 85.59L675.97 85.52L675.97 85.39L676.03 85.32L676.03 85.19L676.09 85.12L676.09 84.98L676.15 84.92L676.15 84.78L676.21 84.71L676.21 84.58L676.27 84.51L676.27 84.38L676.33 84.31L676.33 84.17L676.39 84.11L676.39 83.97L676.45 83.90L677.12 81.54L677.24 81.34L678.14 81.34L678.45 81.20L678.81 80.80L678.93 80.46L678.93 79.92L678.87 79.85L678.87 79.72L678.45 79.18L678.14 79.04L673.31 79.04L673.01 79.18L672.64 79.58L672.52 79.92L672.52 80.46L672.64 80.80L673.01 81.20L673.31 81.34L674.94 81.34L675.00 81.47L674.94 81.54L674.94 81.67L674.88 81.74L674.88 81.88L674.82 81.95L674.82 82.08L674.76 82.15L674.76 82.28L674.70 82.35L674.70 82.48L674.64 82.55L674.64 82.69L674.58 82.75L674.58 82.89L674.52 82.96L674.52 83.09L674.46 83.16L674.46 83.30L674.40 83.36L674.40 83.50L674.34 83.56L674.34 83.70L674.28 83.77L674.28 83.90L674.22 83.97L674.22 84.11L674.15 84.17L674.15 84.31L674.09 84.38L674.09 84.51L674.03 84.58L674.03 84.71L673.97 84.78L673.97 84.92L673.91 84.98L673.91 85.12L673.85 85.19L673.85 85.32L673.79 85.39L673.79 85.52L673.73 85.59L673.73 85.73L673.67 85.79L673.67 85.93L673.61 86.00L673.61 86.13L673.55 86.20L673.55 86.33L673.49 86.40L673.49 86.53L673.43 86.60L673.43 86.74L673.37 86.81L673.37 86.94L673.31 87.01L673.31 87.14L673.25 87.21L673.25 87.34L673.19 87.41L673.19 87.55L673.13 87.62L673.13 87.75L673.07 87.82L673.07 87.95L673.01 88.02L673.01 88.16L672.95 88.22L672.95 88.36L672.89 88.42L672.89 88.56L672.82 88.63L672.82 88.76L672.76 88.83L672.76 88.97L672.70 89.03L672.70 89.17L672.64 89.23L672.64 89.37L672.58 89.44L672.58 89.57L672.52 89.64L671.86 92.00L671.74 92.20L671.62 92.00L671.62 91.87L671.56 91.80L671.56 91.67L671.49 91.60L671.49 91.46L671.43 91.39L671.43 91.26L671.37 91.19L671.37 91.06L671.31 90.99L671.31 90.86L671.25 90.79L671.25 90.65L671.19 90.59L671.19 90.45L671.13 90.38L671.13 90.25L671.07 90.18L671.07 90.05L671.01 89.98L671.01 89.84L670.95 89.78L670.95 89.64L670.89 89.57L670.89 89.44L670.83 89.37L670.83 89.23L670.77 89.17L670.77 89.03L670.71 88.97L670.71 88.83L670.65 88.76L670.65 88.63L670.59 88.56L670.59 88.42L670.53 88.36L670.53 88.22L670.47 88.16L670.47 88.02L670.41 87.95L670.41 87.82L670.35 87.75L670.35 87.62L670.29 87.55L670.29 87.41L670.23 87.34L670.23 87.21L670.16 87.14L670.16 87.01L670.10 86.94L670.10 86.81L670.04 86.74L670.04 86.60L669.98 86.53L669.98 86.40L669.92 86.33L669.92 86.20L669.86 86.13L669.86 86.00L669.80 85.93L669.80 85.79L669.74 85.73L669.74 85.59L669.68 85.52L669.68 85.39L669.62 85.32L669.62 85.19L669.56 85.12L669.56 84.98L669.50 84.92L669.50 84.78L669.44 84.71L669.44 84.58L669.38 84.51L669.38 84.38L669.32 84.31L669.32 84.17L669.26 84.11L669.26 83.97L669.20 83.90L669.20 83.77L669.14 83.70L669.14 83.56L669.08 83.50L669.08 83.36L669.02 83.30L669.02 83.16L668.96 83.09L668.96 82.96L668.47 81.47L668.53 81.34L669.44 81.34L669.50 81.27L669.62 81.27L670.10 80.80L670.23 80.46L670.23 79.92L670.10 79.58L669.74 79.18L669.44 79.04L664.60 79.04L664.54 79.11Z"/>
<path d="M539.15 114.59L539.15 115.13L539.28 115.40L539.54 115.67L539.80 115.81L541.42 115.81L541.49 115.87L541.49 125.19L541.42 125.26L539.80 125.26L539.54 125.39L539.28 125.66L539.15 125.93L539.15 126.47L539.28 126.74L539.54 127.01L539.80 127.14L545.78 127.14L546.04 127.01L546.30 126.74L546.43 126.47L546.43 125.93L546.30 125.66L546.04 125.39L545.78 125.26L544.15 125.26L544.09 125.19L544.09 117.70L545.26 116.48L545.39 116.48L545.46 116.41L545.59 116.41L545.65 116.34L545.78 116.34L547.21 115.81L548.38 115.81L549.36 116.28L549.62 116.55L550.07 117.56L550.07 125.19L550.00 125.26L548.38 125.26L548.12 125.39L547.86 125.66L547.73 125.93L547.73 126.47L547.86 126.74L548.12 127.01L548.38 127.14L554.36 127.14L554.62 127.01L554.88 126.74L555.01 126.47L555.01 125.93L554.88 125.66L554.62 125.39L554.36 125.26L552.74 125.26L552.67 125.19L552.67 117.70L553.84 116.48L553.97 116.48L554.03 116.41L554.16 116.41L554.23 116.34L554.36 116.34L555.79 115.81L556.96 115.81L557.93 116.28L558.20 116.55L558.65 117.56L558.65 125.19L558.59 125.26L556.96 125.26L556.70 125.39L556.44 125.66L556.31 125.93L556.31 126.47L556.44 126.74L556.70 127.01L556.96 127.14L562.94 127.14L563.20 127.01L563.46 126.74L563.59 126.47L563.59 125.93L563.46 125.66L563.20 125.39L562.94 125.26L561.32 125.26L561.25 125.19L561.25 117.02L560.47 115.47L560.47 115.33L560.08 114.86L559.82 114.73L557.74 114.05L557.54 113.92L555.34 113.92L555.14 114.05L555.01 114.05L554.95 114.12L554.82 114.12L554.75 114.19L554.62 114.19L554.55 114.25L554.42 114.25L554.36 114.32L554.23 114.32L552.80 114.86L552.02 115.67L551.89 115.47L551.89 115.33L551.50 114.86L551.24 114.73L549.16 114.05L548.97 113.92L546.75 113.92L546.56 114.05L544.48 114.73L544.15 114.93L544.09 114.86L544.09 114.59L543.96 114.32L543.70 114.05L543.44 113.92L539.80 113.92L539.54 114.05L539.28 114.32Z"/>
<path d="M566.00 127.30 L567.30 126.90 L567.60 133.50 L570.60 131.20 L572.30 128.90 L572.80 127.10M568.00 127.20 L568.30 133.80" fill="none" stroke="#000" stroke-width="2.1" stroke-linecap="round" stroke-linejoin="round"/>
<path d="M577.7 116.40H590.9" fill="none" stroke="#000" stroke-width="2.2" stroke-linecap="round"/>
<path d="M577.7 121.10H590.9" fill="none" stroke="#000" stroke-width="2.2" stroke-linecap="round"/>
<path d="M614.07 123.43L613.55 123.77L613.49 123.91L612.64 124.78L612.51 125.12L612.51 125.66L612.64 126.00L613.81 127.21L614.14 127.35L614.66 127.35L614.99 127.21L616.15 126.00L616.28 125.66L616.28 125.12L616.15 124.78L615.31 123.91L615.31 123.84L614.99 123.57L614.73 123.43ZM624.22 108.04L623.82 108.25L623.69 108.25L622.26 108.78L622.07 108.78L621.62 108.99L620.44 110.20L619.53 112.16L619.53 113.51L619.60 113.58L619.60 113.71L619.66 113.85L620.84 115.06L621.16 115.20L621.68 115.20L622.00 115.06L623.17 113.85L623.30 113.51L623.30 112.97L623.17 112.63L622.33 111.75L622.26 111.62L622.78 111.01L623.82 110.67L623.89 110.61L624.02 110.61L624.08 110.54L624.22 110.54L624.28 110.47L624.41 110.47L624.48 110.41L624.67 110.41L624.74 110.34L627.40 110.34L628.31 110.81L628.44 110.95L628.89 111.89L628.89 113.78L628.44 114.73L628.31 114.86L627.40 115.33L625.06 115.33L625.00 115.40L624.87 115.40L624.35 115.87L624.22 116.21L624.22 116.75L624.35 117.09L624.87 117.56L625.00 117.56L625.06 117.63L627.40 117.63L628.44 118.17L629.02 118.71L629.35 119.79L629.41 119.86L629.41 119.99L629.48 120.06L629.48 120.19L629.54 120.26L629.54 120.39L629.61 120.46L629.61 120.67L629.67 120.73L629.67 122.69L629.02 123.97L628.44 124.51L627.40 125.05L624.74 125.05L624.67 124.98L624.48 124.98L624.41 124.92L622.91 124.45L622.39 123.97L622.26 123.77L622.33 123.64L623.17 122.76L623.24 122.62L623.24 122.49L623.30 122.42L623.30 121.88L623.24 121.81L623.24 121.68L623.17 121.54L622.00 120.33L621.68 120.19L621.16 120.19L620.84 120.33L619.66 121.54L619.53 121.88L619.53 123.23L620.44 125.19L621.62 126.40L621.88 126.54L622.26 126.61L622.33 126.67L623.82 127.14L624.22 127.35L627.99 127.35L628.38 127.14L628.50 127.14L629.93 126.61L630.13 126.61L630.59 126.40L631.75 125.19L632.66 123.23L632.66 120.26L632.60 120.19L632.60 120.06L631.75 118.30L630.39 116.89L630.39 116.82L630.98 116.28L631.88 114.32L631.88 111.35L630.98 109.39L630.59 108.99L630.32 108.85L629.93 108.78L629.87 108.72L628.38 108.25L627.99 108.04ZM601.92 107.97L601.86 108.04L601.53 108.04L601.20 108.25L601.07 108.25L599.64 108.78L599.45 108.78L599.00 108.99L598.54 109.46L598.48 109.66L597.30 111.48L597.11 111.69L596.85 112.43L596.85 112.70L596.78 112.77L596.78 113.04L596.72 113.11L596.72 113.38L596.65 113.44L596.65 113.71L596.59 113.78L596.59 114.05L596.52 114.12L596.52 114.39L596.46 114.45L596.46 114.73L596.39 114.79L596.39 115.06L596.33 115.13L596.33 115.40L596.26 115.47L596.26 115.74L596.20 115.81L596.20 116.08L596.13 116.14L596.13 119.25L596.20 119.31L596.20 119.59L596.26 119.65L596.26 119.92L596.33 119.99L596.33 120.26L596.39 120.33L596.39 120.60L596.46 120.67L596.46 120.94L596.52 121.00L596.52 121.27L596.59 121.34L596.59 121.61L596.65 121.68L596.65 121.95L596.72 122.02L596.72 122.28L596.78 122.35L596.78 122.62L596.85 122.69L596.85 122.96L596.91 123.03L596.98 123.43L598.48 125.73L598.54 125.93L599.00 126.40L599.25 126.54L599.64 126.61L599.71 126.67L601.20 127.14L601.60 127.35L603.80 127.35L604.19 127.14L604.32 127.14L605.75 126.61L605.95 126.61L606.40 126.40L606.86 125.93L606.92 125.73L608.10 123.91L608.29 123.70L608.55 122.96L608.55 122.69L608.62 122.62L608.62 122.35L608.68 122.28L608.68 122.02L608.75 121.95L608.75 121.68L608.81 121.61L608.81 121.34L608.88 121.27L608.88 121.00L608.94 120.94L608.94 120.67L609.00 120.60L609.00 120.33L609.07 120.26L609.07 119.99L609.13 119.92L609.13 119.65L609.20 119.59L609.20 119.31L609.26 119.25L609.26 116.14L609.20 116.08L609.20 115.81L609.13 115.74L609.13 115.47L609.07 115.40L609.07 115.13L609.00 115.06L609.00 114.79L608.94 114.73L608.94 114.45L608.88 114.39L608.88 114.12L608.81 114.05L608.81 113.78L608.75 113.71L608.75 113.44L608.68 113.38L608.68 113.11L608.62 113.04L608.62 112.77L608.55 112.70L608.55 112.43L608.49 112.36L608.42 111.96L606.92 109.66L606.86 109.46L606.40 108.99L606.14 108.85L605.75 108.78L605.69 108.72L604.19 108.25L603.80 108.04L602.05 108.04ZM602.18 110.34L603.22 110.34L604.26 110.88L604.85 111.42L605.56 112.90L605.62 113.44L605.69 113.51L605.69 113.78L605.75 113.85L605.75 114.12L605.82 114.19L605.82 114.45L605.88 114.52L605.88 114.79L605.95 114.86L605.95 115.13L606.01 115.20L606.01 115.47L606.08 115.53L606.08 115.81L606.14 115.87L606.14 116.14L606.21 116.21L606.21 116.55L606.27 116.62L606.27 118.78L606.21 118.84L606.21 119.18L606.14 119.25L606.14 119.52L606.08 119.59L606.08 119.86L606.01 119.92L606.01 120.19L605.95 120.26L605.95 120.53L605.88 120.60L605.88 120.87L605.82 120.94L605.82 121.20L605.75 121.27L605.75 121.54L605.69 121.61L605.69 121.88L605.62 121.95L605.62 122.22L605.56 122.28L605.50 122.69L604.85 123.97L604.26 124.51L603.22 125.05L602.18 125.05L601.14 124.51L600.55 123.97L599.84 122.49L599.77 121.95L599.71 121.88L599.71 121.61L599.64 121.54L599.64 121.27L599.58 121.20L599.58 120.94L599.51 120.87L599.51 120.60L599.45 120.53L599.45 120.26L599.38 120.19L599.38 119.92L599.32 119.86L599.32 119.59L599.25 119.52L599.25 119.25L599.19 119.18L599.19 118.84L599.12 118.78L599.12 116.62L599.19 116.55L599.19 116.21L599.25 116.14L599.25 115.87L599.32 115.81L599.32 115.53L599.38 115.47L599.38 115.20L599.45 115.13L599.45 114.86L599.51 114.79L599.51 114.52L599.58 114.45L599.58 114.19L599.64 114.12L599.64 113.85L599.71 113.78L599.71 113.51L599.77 113.44L599.77 113.17L599.84 113.11L599.90 112.70L600.55 111.42L601.14 110.88Z"/>
<path d="M654.52 113.71L654.46 113.78L654.20 113.78L654.00 113.92L653.87 113.92L653.81 113.98L653.68 113.98L653.61 114.05L653.48 114.05L653.42 114.12L653.29 114.12L651.86 114.66L651.66 114.79L650.04 116.48L649.71 117.02L649.06 119.18L649.00 119.25L649.00 119.52L648.93 119.59L648.93 121.48L649.00 121.54L649.00 121.81L649.06 121.88L649.06 122.02L649.13 122.08L649.13 122.22L649.19 122.28L649.19 122.42L649.26 122.49L649.26 122.62L649.32 122.69L649.32 122.83L649.84 124.31L650.04 124.58L651.60 126.20L652.12 126.54L654.00 127.14L654.20 127.28L654.46 127.28L654.52 127.35L656.41 127.35L656.47 127.28L656.73 127.28L656.80 127.21L658.88 126.54L659.33 126.27L660.96 124.58L661.15 124.31L661.22 123.97L661.28 123.91L661.28 123.64L661.22 123.57L661.15 123.23L660.57 122.69L660.37 122.69L660.31 122.62L659.79 122.69L659.40 122.96L658.03 124.38L657.90 124.45L657.77 124.45L656.34 124.98L656.15 124.98L656.08 125.05L654.98 125.05L653.74 124.38L652.57 123.16L652.25 122.08L652.18 122.02L652.18 121.88L652.12 121.81L652.12 121.68L652.05 121.61L652.05 121.48L651.99 121.41L651.92 120.94L651.99 120.87L660.31 120.87L660.37 120.80L660.57 120.80L660.70 120.73L661.22 120.12L661.22 119.92L661.28 119.86L661.28 117.97L661.22 117.90L661.15 117.49L660.44 116.01L660.18 115.74L660.18 115.67L659.07 114.59L657.64 113.85L657.25 113.78L657.19 113.71ZM652.38 118.44L652.57 117.90L653.74 116.68L654.98 116.01L656.80 116.01L657.71 116.48L657.84 116.62L658.29 117.56L658.29 118.50L658.23 118.57L652.44 118.57Z"/>
<path d="M664.42 108.11L664.30 108.18L663.88 108.72L663.88 108.85L663.82 108.92L663.82 109.46L663.88 109.53L663.88 109.66L663.94 109.80L664.42 110.27L664.54 110.27L664.60 110.34L665.51 110.34L665.63 110.54L665.63 110.67L665.69 110.74L665.69 110.88L665.75 110.95L665.75 111.08L665.81 111.15L665.81 111.28L665.87 111.35L665.87 111.48L665.93 111.55L665.93 111.69L665.99 111.75L665.99 111.89L666.05 111.96L666.05 112.09L666.11 112.16L666.11 112.30L666.18 112.36L666.18 112.50L666.24 112.56L666.24 112.70L666.30 112.77L666.30 112.90L666.36 112.97L666.36 113.11L666.42 113.17L666.42 113.31L666.48 113.38L666.48 113.51L666.54 113.58L666.54 113.71L666.60 113.78L666.60 113.92L666.66 113.98L666.66 114.12L666.72 114.19L666.72 114.32L666.78 114.39L666.78 114.52L666.84 114.59L666.84 114.73L666.90 114.79L666.90 114.93L666.96 115.00L666.96 115.13L667.02 115.20L667.02 115.33L667.08 115.40L667.08 115.53L667.14 115.60L667.14 115.74L667.20 115.81L667.20 115.94L667.26 116.01L667.26 116.14L667.32 116.21L667.32 116.34L667.38 116.41L667.38 116.55L667.44 116.62L667.44 116.75L667.51 116.82L667.51 116.95L667.57 117.02L667.57 117.16L667.63 117.22L667.63 117.36L667.69 117.42L667.69 117.56L667.75 117.63L667.75 117.76L667.81 117.83L667.81 117.97L667.87 118.03L667.87 118.17L667.93 118.23L667.93 118.37L667.99 118.44L667.99 118.57L668.05 118.64L668.05 118.78L668.11 118.84L668.11 118.98L668.17 119.05L668.17 119.18L668.23 119.25L668.23 119.38L668.29 119.45L668.29 119.59L668.35 119.65L668.35 119.79L668.41 119.86L668.41 119.99L668.47 120.06L668.47 120.19L668.53 120.26L668.53 120.39L668.59 120.46L668.59 120.60L668.65 120.67L668.65 120.80L668.71 120.87L668.71 121.00L668.77 121.07L668.77 121.20L668.84 121.27L668.84 121.41L668.90 121.48L668.90 121.61L668.96 121.68L668.96 121.81L669.02 121.88L669.02 122.02L669.08 122.08L669.08 122.22L669.14 122.28L669.14 122.42L669.20 122.49L669.20 122.62L669.26 122.69L669.26 122.83L669.32 122.89L669.32 123.03L669.38 123.09L669.38 123.23L669.44 123.30L669.44 123.43L669.50 123.50L669.50 123.64L669.56 123.70L669.56 123.84L669.62 123.91L669.62 124.04L669.68 124.11L669.68 124.24L669.74 124.31L669.74 124.45L669.80 124.51L669.80 124.65L670.29 126.13L670.35 126.54L670.47 126.81L670.83 127.21L671.07 127.35L671.68 127.35L671.92 127.21L672.28 126.81L672.40 126.54L672.46 126.13L672.52 126.06L672.52 125.93L672.58 125.86L672.58 125.73L672.64 125.66L672.64 125.53L672.70 125.46L672.70 125.32L672.76 125.26L672.76 125.12L672.82 125.05L672.82 124.92L672.89 124.85L672.89 124.72L672.95 124.65L672.95 124.51L673.01 124.45L673.01 124.31L673.07 124.24L673.07 124.11L673.13 124.04L673.13 123.91L673.19 123.84L673.19 123.70L673.25 123.64L673.25 123.50L673.31 123.43L673.31 123.30L673.37 123.23L673.37 123.09L673.43 123.03L673.43 122.89L673.49 122.83L673.49 122.69L673.55 122.62L673.55 122.49L673.61 122.42L673.61 122.28L673.67 122.22L673.67 122.08L673.73 122.02L673.73 121.88L673.79 121.81L673.79 121.68L673.85 121.61L673.85 121.48L673.91 121.41L673.91 121.27L673.97 121.20L673.97 121.07L674.03 121.00L674.03 120.87L674.09 120.80L674.09 120.67L674.15 120.60L674.15 120.46L674.22 120.39L674.22 120.26L674.28 120.19L674.28 120.06L674.34 119.99L674.34 119.86L674.40 119.79L674.40 119.65L674.46 119.59L674.46 119.45L674.52 119.38L674.52 119.25L674.58 119.18L674.58 119.05L674.64 118.98L674.64 118.84L674.70 118.78L674.70 118.64L674.76 118.57L674.76 118.44L674.82 118.37L674.82 118.23L674.88 118.17L674.88 118.03L674.94 117.97L674.94 117.83L675.00 117.76L675.00 117.63L675.06 117.56L675.06 117.42L675.12 117.36L675.12 117.22L675.18 117.16L675.18 117.02L675.24 116.95L675.24 116.82L675.30 116.75L675.30 116.62L675.36 116.55L675.36 116.41L675.42 116.34L675.42 116.21L675.48 116.14L675.48 116.01L675.55 115.94L675.55 115.81L675.61 115.74L675.61 115.60L675.67 115.53L675.67 115.40L675.73 115.33L675.73 115.20L675.79 115.13L675.79 115.00L675.85 114.93L675.85 114.79L675.91 114.73L675.91 114.59L675.97 114.52L675.97 114.39L676.03 114.32L676.03 114.19L676.09 114.12L676.09 113.98L676.15 113.92L676.15 113.78L676.21 113.71L676.21 113.58L676.27 113.51L676.27 113.38L676.33 113.31L676.33 113.17L676.39 113.11L676.39 112.97L676.45 112.90L677.12 110.54L677.24 110.34L678.14 110.34L678.45 110.20L678.81 109.80L678.93 109.46L678.93 108.92L678.87 108.85L678.87 108.72L678.45 108.18L678.14 108.04L673.31 108.04L673.01 108.18L672.64 108.58L672.52 108.92L672.52 109.46L672.64 109.80L673.01 110.20L673.31 110.34L674.94 110.34L675.00 110.47L674.94 110.54L674.94 110.67L674.88 110.74L674.88 110.88L674.82 110.95L674.82 111.08L674.76 111.15L674.76 111.28L674.70 111.35L674.70 111.48L674.64 111.55L674.64 111.69L674.58 111.75L674.58 111.89L674.52 111.96L674.52 112.09L674.46 112.16L674.46 112.30L674.40 112.36L674.40 112.50L674.34 112.56L674.34 112.70L674.28 112.77L674.28 112.90L674.22 112.97L674.22 113.11L674.15 113.17L674.15 113.31L674.09 113.38L674.09 113.51L674.03 113.58L674.03 113.71L673.97 113.78L673.97 113.92L673.91 113.98L673.91 114.12L673.85 114.19L673.85 114.32L673.79 114.39L673.79 114.52L673.73 114.59L673.73 114.73L673.67 114.79L673.67 114.93L673.61 115.00L673.61 115.13L673.55 115.20L673.55 115.33L673.49 115.40L673.49 115.53L673.43 115.60L673.43 115.74L673.37 115.81L673.37 115.94L673.31 116.01L673.31 116.14L673.25 116.21L673.25 116.34L673.19 116.41L673.19 116.55L673.13 116.62L673.13 116.75L673.07 116.82L673.07 116.95L673.01 117.02L673.01 117.16L672.95 117.22L672.95 117.36L672.89 117.42L672.89 117.56L672.82 117.63L672.82 117.76L672.76 117.83L672.76 117.97L672.70 118.03L672.70 118.17L672.64 118.23L672.64 118.37L672.58 118.44L672.58 118.57L672.52 118.64L671.86 121.00L671.74 121.20L671.62 121.00L671.62 120.87L671.56 120.80L671.56 120.67L671.49 120.60L671.49 120.46L671.43 120.39L671.43 120.26L671.37 120.19L671.37 120.06L671.31 119.99L671.31 119.86L671.25 119.79L671.25 119.65L671.19 119.59L671.19 119.45L671.13 119.38L671.13 119.25L671.07 119.18L671.07 119.05L671.01 118.98L671.01 118.84L670.95 118.78L670.95 118.64L670.89 118.57L670.89 118.44L670.83 118.37L670.83 118.23L670.77 118.17L670.77 118.03L670.71 117.97L670.71 117.83L670.65 117.76L670.65 117.63L670.59 117.56L670.59 117.42L670.53 117.36L670.53 117.22L670.47 117.16L670.47 117.02L670.41 116.95L670.41 116.82L670.35 116.75L670.35 116.62L670.29 116.55L670.29 116.41L670.23 116.34L670.23 116.21L670.16 116.14L670.16 116.01L670.10 115.94L670.10 115.81L670.04 115.74L670.04 115.60L669.98 115.53L669.98 115.40L669.92 115.33L669.92 115.20L669.86 115.13L669.86 115.00L669.80 114.93L669.80 114.79L669.74 114.73L669.74 114.59L669.68 114.52L669.68 114.39L669.62 114.32L669.62 114.19L669.56 114.12L669.56 113.98L669.50 113.92L669.50 113.78L669.44 113.71L669.44 113.58L669.38 113.51L669.38 113.38L669.32 113.31L669.32 113.17L669.26 113.11L669.26 112.97L669.20 112.90L669.20 112.77L669.14 112.70L669.14 112.56L669.08 112.50L669.08 112.36L669.02 112.30L669.02 112.16L668.96 112.09L668.96 111.96L668.47 110.47L668.53 110.34L669.44 110.34L669.50 110.27L669.62 110.27L670.10 109.80L670.23 109.46L670.23 108.92L670.10 108.58L669.74 108.18L669.44 108.04L664.60 108.04L664.54 108.11Z"/>
<path d="M539.15 143.89L539.15 144.43L539.28 144.70L539.54 144.97L539.80 145.10L541.42 145.10L541.49 145.17L541.49 154.49L541.42 154.56L539.80 154.56L539.54 154.69L539.28 154.96L539.15 155.23L539.15 155.77L539.28 156.04L539.54 156.31L539.80 156.44L545.78 156.44L546.04 156.31L546.30 156.04L546.43 155.77L546.43 155.23L546.30 154.96L546.04 154.69L545.78 154.56L544.15 154.56L544.09 154.49L544.09 147.00L545.26 145.78L545.39 145.78L545.46 145.71L545.59 145.71L545.65 145.65L545.78 145.65L547.21 145.10L548.38 145.10L549.36 145.58L549.62 145.85L550.07 146.86L550.07 154.49L550.00 154.56L548.38 154.56L548.12 154.69L547.86 154.96L547.73 155.23L547.73 155.77L547.86 156.04L548.12 156.31L548.38 156.44L554.36 156.44L554.62 156.31L554.88 156.04L555.01 155.77L555.01 155.23L554.88 154.96L554.62 154.69L554.36 154.56L552.74 154.56L552.67 154.49L552.67 147.00L553.84 145.78L553.97 145.78L554.03 145.71L554.16 145.71L554.23 145.65L554.36 145.65L555.79 145.10L556.96 145.10L557.93 145.58L558.20 145.85L558.65 146.86L558.65 154.49L558.59 154.56L556.96 154.56L556.70 154.69L556.44 154.96L556.31 155.23L556.31 155.77L556.44 156.04L556.70 156.31L556.96 156.44L562.94 156.44L563.20 156.31L563.46 156.04L563.59 155.77L563.59 155.23L563.46 154.96L563.20 154.69L562.94 154.56L561.32 154.56L561.25 154.49L561.25 146.32L560.47 144.77L560.47 144.63L560.08 144.16L559.82 144.03L557.74 143.35L557.54 143.22L555.34 143.22L555.14 143.35L555.01 143.35L554.95 143.42L554.82 143.42L554.75 143.49L554.62 143.49L554.55 143.55L554.42 143.55L554.36 143.62L554.23 143.62L552.80 144.16L552.02 144.97L551.89 144.77L551.89 144.63L551.50 144.16L551.24 144.03L549.16 143.35L548.97 143.22L546.75 143.22L546.56 143.35L544.48 144.03L544.15 144.23L544.09 144.16L544.09 143.89L543.96 143.62L543.70 143.35L543.44 143.22L539.80 143.22L539.54 143.35L539.28 143.62Z"/>
<path d="M566.00 156.60 L567.30 156.20 L567.60 162.80 L570.60 160.50 L572.30 158.20 L572.80 156.40M568.00 156.50 L568.30 163.10" fill="none" stroke="#000" stroke-width="2.1" stroke-linecap="round" stroke-linejoin="round"/>
<path d="M577.7 145.70H590.9" fill="none" stroke="#000" stroke-width="2.2" stroke-linecap="round"/>
<path d="M577.7 150.40H590.9" fill="none" stroke="#000" stroke-width="2.2" stroke-linecap="round"/>
<path d="M614.07 152.73L613.55 153.07L613.49 153.21L612.64 154.08L612.51 154.42L612.51 154.96L612.64 155.30L613.81 156.51L614.14 156.65L614.66 156.65L614.99 156.51L616.15 155.30L616.28 154.96L616.28 154.42L616.15 154.08L615.31 153.21L615.31 153.14L614.99 152.87L614.73 152.73ZM628.76 137.34L628.12 137.34L627.53 137.75L626.75 138.96L626.16 139.70L626.03 139.97L625.45 140.72L625.32 140.99L624.74 141.73L624.61 142.00L624.02 142.74L623.89 143.01L623.30 143.75L623.17 144.03L622.59 144.77L622.46 145.04L621.88 145.78L621.75 146.05L621.16 146.79L621.03 147.06L620.44 147.81L620.31 148.07L619.73 148.82L619.60 149.09L618.95 149.90L618.75 150.37L618.75 150.91L618.88 151.25L619.27 151.65L619.60 151.79L626.49 151.79L626.55 151.85L626.55 154.28L626.49 154.35L625.06 154.35L625.00 154.42L624.87 154.42L624.35 154.89L624.22 155.23L624.22 155.77L624.35 156.11L624.74 156.51L625.06 156.65L631.04 156.65L631.37 156.51L631.75 156.11L631.88 155.77L631.88 155.23L631.82 155.16L631.82 155.03L631.37 154.49L631.04 154.35L629.61 154.35L629.54 154.28L629.54 151.85L629.61 151.79L632.60 151.79L632.92 151.65L633.31 151.25L633.44 150.91L633.44 150.37L633.38 150.30L633.38 150.17L633.31 150.03L632.79 149.56L632.66 149.56L632.60 149.49L629.61 149.49L629.54 149.43L629.54 138.15L629.41 137.88L629.02 137.48ZM626.49 143.22L626.55 143.28L626.55 149.43L626.49 149.49L622.20 149.49L622.13 149.36L622.85 148.41L622.98 148.14L623.56 147.40L623.69 147.13L624.28 146.39L624.41 146.12L625.00 145.38L625.12 145.10ZM601.92 137.28L601.86 137.34L601.53 137.34L601.20 137.54L601.07 137.54L599.64 138.09L599.45 138.09L599.00 138.29L598.54 138.76L598.48 138.96L597.30 140.78L597.11 140.99L596.85 141.73L596.85 142.00L596.78 142.07L596.78 142.34L596.72 142.41L596.72 142.68L596.65 142.74L596.65 143.01L596.59 143.08L596.59 143.35L596.52 143.42L596.52 143.69L596.46 143.75L596.46 144.03L596.39 144.09L596.39 144.36L596.33 144.43L596.33 144.70L596.26 144.77L596.26 145.04L596.20 145.10L596.20 145.38L596.13 145.44L596.13 148.55L596.20 148.62L596.20 148.88L596.26 148.95L596.26 149.22L596.33 149.29L596.33 149.56L596.39 149.63L596.39 149.90L596.46 149.97L596.46 150.24L596.52 150.30L596.52 150.57L596.59 150.64L596.59 150.91L596.65 150.98L596.65 151.25L596.72 151.31L596.72 151.59L596.78 151.65L596.78 151.92L596.85 151.99L596.85 152.26L596.91 152.33L596.98 152.73L598.48 155.03L598.54 155.23L599.00 155.70L599.25 155.84L599.64 155.91L599.71 155.97L601.20 156.44L601.60 156.65L603.80 156.65L604.19 156.44L604.32 156.44L605.75 155.91L605.95 155.91L606.40 155.70L606.86 155.23L606.92 155.03L608.10 153.21L608.29 153.00L608.55 152.26L608.55 151.99L608.62 151.92L608.62 151.65L608.68 151.59L608.68 151.31L608.75 151.25L608.75 150.98L608.81 150.91L608.81 150.64L608.88 150.57L608.88 150.30L608.94 150.24L608.94 149.97L609.00 149.90L609.00 149.63L609.07 149.56L609.07 149.29L609.13 149.22L609.13 148.95L609.20 148.88L609.20 148.62L609.26 148.55L609.26 145.44L609.20 145.38L609.20 145.10L609.13 145.04L609.13 144.77L609.07 144.70L609.07 144.43L609.00 144.36L609.00 144.09L608.94 144.03L608.94 143.75L608.88 143.69L608.88 143.42L608.81 143.35L608.81 143.08L608.75 143.01L608.75 142.74L608.68 142.68L608.68 142.41L608.62 142.34L608.62 142.07L608.55 142.00L608.55 141.73L608.49 141.66L608.42 141.26L606.92 138.96L606.86 138.76L606.40 138.29L606.14 138.15L605.75 138.09L605.69 138.02L604.19 137.54L603.80 137.34L602.05 137.34ZM602.18 139.64L603.22 139.64L604.26 140.18L604.85 140.72L605.56 142.20L605.62 142.74L605.69 142.81L605.69 143.08L605.75 143.15L605.75 143.42L605.82 143.49L605.82 143.75L605.88 143.82L605.88 144.09L605.95 144.16L605.95 144.43L606.01 144.50L606.01 144.77L606.08 144.84L606.08 145.10L606.14 145.17L606.14 145.44L606.21 145.51L606.21 145.85L606.27 145.91L606.27 148.07L606.21 148.14L606.21 148.48L606.14 148.55L606.14 148.82L606.08 148.88L606.08 149.16L606.01 149.22L606.01 149.49L605.95 149.56L605.95 149.83L605.88 149.90L605.88 150.17L605.82 150.24L605.82 150.50L605.75 150.57L605.75 150.84L605.69 150.91L605.69 151.18L605.62 151.25L605.62 151.52L605.56 151.59L605.50 151.99L604.85 153.27L604.26 153.81L603.22 154.35L602.18 154.35L601.14 153.81L600.55 153.27L599.84 151.79L599.77 151.25L599.71 151.18L599.71 150.91L599.64 150.84L599.64 150.57L599.58 150.50L599.58 150.24L599.51 150.17L599.51 149.90L599.45 149.83L599.45 149.56L599.38 149.49L599.38 149.22L599.32 149.16L599.32 148.88L599.25 148.82L599.25 148.55L599.19 148.48L599.19 148.14L599.12 148.07L599.12 145.91L599.19 145.85L599.19 145.51L599.25 145.44L599.25 145.17L599.32 145.10L599.32 144.84L599.38 144.77L599.38 144.50L599.45 144.43L599.45 144.16L599.51 144.09L599.51 143.82L599.58 143.75L599.58 143.49L599.64 143.42L599.64 143.15L599.71 143.08L599.71 142.81L599.77 142.74L599.77 142.47L599.84 142.41L599.90 142.00L600.55 140.72L601.14 140.18Z"/>
<path d="M654.52 143.01L654.46 143.08L654.20 143.08L654.00 143.22L653.87 143.22L653.81 143.28L653.68 143.28L653.61 143.35L653.48 143.35L653.42 143.42L653.29 143.42L651.86 143.96L651.66 144.09L650.04 145.78L649.71 146.32L649.06 148.48L649.00 148.55L649.00 148.82L648.93 148.88L648.93 150.78L649.00 150.84L649.00 151.11L649.06 151.18L649.06 151.31L649.13 151.38L649.13 151.52L649.19 151.59L649.19 151.72L649.26 151.79L649.26 151.92L649.32 151.99L649.32 152.12L649.84 153.61L650.04 153.88L651.60 155.50L652.12 155.84L654.00 156.44L654.20 156.58L654.46 156.58L654.52 156.65L656.41 156.65L656.47 156.58L656.73 156.58L656.80 156.51L658.88 155.84L659.33 155.57L660.96 153.88L661.15 153.61L661.22 153.27L661.28 153.21L661.28 152.94L661.22 152.87L661.15 152.53L660.57 151.99L660.37 151.99L660.31 151.92L659.79 151.99L659.40 152.26L658.03 153.68L657.90 153.75L657.77 153.75L656.34 154.28L656.15 154.28L656.08 154.35L654.98 154.35L653.74 153.68L652.57 152.46L652.25 151.38L652.18 151.31L652.18 151.18L652.12 151.11L652.12 150.98L652.05 150.91L652.05 150.78L651.99 150.71L651.92 150.24L651.99 150.17L660.31 150.17L660.37 150.10L660.57 150.10L660.70 150.03L661.22 149.43L661.22 149.22L661.28 149.16L661.28 147.26L661.22 147.20L661.15 146.79L660.44 145.31L660.18 145.04L660.18 144.97L659.07 143.89L657.64 143.15L657.25 143.08L657.19 143.01ZM652.38 147.74L652.57 147.20L653.74 145.98L654.98 145.31L656.80 145.31L657.71 145.78L657.84 145.91L658.29 146.86L658.29 147.81L658.23 147.87L652.44 147.87Z"/>
<path d="M664.42 137.41L664.30 137.48L663.88 138.02L663.88 138.15L663.82 138.22L663.82 138.76L663.88 138.83L663.88 138.96L663.94 139.10L664.42 139.57L664.54 139.57L664.60 139.64L665.51 139.64L665.63 139.84L665.63 139.97L665.69 140.04L665.69 140.18L665.75 140.25L665.75 140.38L665.81 140.45L665.81 140.58L665.87 140.65L665.87 140.78L665.93 140.85L665.93 140.99L665.99 141.06L665.99 141.19L666.05 141.26L666.05 141.39L666.11 141.46L666.11 141.59L666.18 141.66L666.18 141.80L666.24 141.87L666.24 142.00L666.30 142.07L666.30 142.20L666.36 142.27L666.36 142.41L666.42 142.47L666.42 142.61L666.48 142.68L666.48 142.81L666.54 142.88L666.54 143.01L666.60 143.08L666.60 143.22L666.66 143.28L666.66 143.42L666.72 143.49L666.72 143.62L666.78 143.69L666.78 143.82L666.84 143.89L666.84 144.03L666.90 144.09L666.90 144.23L666.96 144.29L666.96 144.43L667.02 144.50L667.02 144.63L667.08 144.70L667.08 144.84L667.14 144.90L667.14 145.04L667.20 145.10L667.20 145.24L667.26 145.31L667.26 145.44L667.32 145.51L667.32 145.65L667.38 145.71L667.38 145.85L667.44 145.91L667.44 146.05L667.51 146.12L667.51 146.25L667.57 146.32L667.57 146.46L667.63 146.52L667.63 146.66L667.69 146.72L667.69 146.86L667.75 146.93L667.75 147.06L667.81 147.13L667.81 147.26L667.87 147.33L667.87 147.47L667.93 147.53L667.93 147.67L667.99 147.74L667.99 147.87L668.05 147.94L668.05 148.07L668.11 148.14L668.11 148.28L668.17 148.34L668.17 148.48L668.23 148.55L668.23 148.68L668.29 148.75L668.29 148.88L668.35 148.95L668.35 149.09L668.41 149.16L668.41 149.29L668.47 149.36L668.47 149.49L668.53 149.56L668.53 149.69L668.59 149.76L668.59 149.90L668.65 149.97L668.65 150.10L668.71 150.17L668.71 150.30L668.77 150.37L668.77 150.50L668.84 150.57L668.84 150.71L668.90 150.78L668.90 150.91L668.96 150.98L668.96 151.11L669.02 151.18L669.02 151.31L669.08 151.38L669.08 151.52L669.14 151.59L669.14 151.72L669.20 151.79L669.20 151.92L669.26 151.99L669.26 152.12L669.32 152.19L669.32 152.33L669.38 152.40L669.38 152.53L669.44 152.60L669.44 152.73L669.50 152.80L669.50 152.94L669.56 153.00L669.56 153.14L669.62 153.21L669.62 153.34L669.68 153.41L669.68 153.54L669.74 153.61L669.74 153.75L669.80 153.81L669.80 153.95L670.29 155.43L670.35 155.84L670.47 156.11L670.83 156.51L671.07 156.65L671.68 156.65L671.92 156.51L672.28 156.11L672.40 155.84L672.46 155.43L672.52 155.37L672.52 155.23L672.58 155.16L672.58 155.03L672.64 154.96L672.64 154.82L672.70 154.76L672.70 154.62L672.76 154.56L672.76 154.42L672.82 154.35L672.82 154.22L672.89 154.15L672.89 154.01L672.95 153.95L672.95 153.81L673.01 153.75L673.01 153.61L673.07 153.54L673.07 153.41L673.13 153.34L673.13 153.21L673.19 153.14L673.19 153.00L673.25 152.94L673.25 152.80L673.31 152.73L673.31 152.60L673.37 152.53L673.37 152.40L673.43 152.33L673.43 152.19L673.49 152.12L673.49 151.99L673.55 151.92L673.55 151.79L673.61 151.72L673.61 151.59L673.67 151.52L673.67 151.38L673.73 151.31L673.73 151.18L673.79 151.11L673.79 150.98L673.85 150.91L673.85 150.78L673.91 150.71L673.91 150.57L673.97 150.50L673.97 150.37L674.03 150.30L674.03 150.17L674.09 150.10L674.09 149.97L674.15 149.90L674.15 149.76L674.22 149.69L674.22 149.56L674.28 149.49L674.28 149.36L674.34 149.29L674.34 149.16L674.40 149.09L674.40 148.95L674.46 148.88L674.46 148.75L674.52 148.68L674.52 148.55L674.58 148.48L674.58 148.34L674.64 148.28L674.64 148.14L674.70 148.07L674.70 147.94L674.76 147.87L674.76 147.74L674.82 147.67L674.82 147.53L674.88 147.47L674.88 147.33L674.94 147.26L674.94 147.13L675.00 147.06L675.00 146.93L675.06 146.86L675.06 146.72L675.12 146.66L675.12 146.52L675.18 146.46L675.18 146.32L675.24 146.25L675.24 146.12L675.30 146.05L675.30 145.91L675.36 145.85L675.36 145.71L675.42 145.65L675.42 145.51L675.48 145.44L675.48 145.31L675.55 145.24L675.55 145.10L675.61 145.04L675.61 144.90L675.67 144.84L675.67 144.70L675.73 144.63L675.73 144.50L675.79 144.43L675.79 144.29L675.85 144.23L675.85 144.09L675.91 144.03L675.91 143.89L675.97 143.82L675.97 143.69L676.03 143.62L676.03 143.49L676.09 143.42L676.09 143.28L676.15 143.22L676.15 143.08L676.21 143.01L676.21 142.88L676.27 142.81L676.27 142.68L676.33 142.61L676.33 142.47L676.39 142.41L676.39 142.27L676.45 142.20L677.12 139.84L677.24 139.64L678.14 139.64L678.45 139.50L678.81 139.10L678.93 138.76L678.93 138.22L678.87 138.15L678.87 138.02L678.45 137.48L678.14 137.34L673.31 137.34L673.01 137.48L672.64 137.88L672.52 138.22L672.52 138.76L672.64 139.10L673.01 139.50L673.31 139.64L674.94 139.64L675.00 139.77L674.94 139.84L674.94 139.97L674.88 140.04L674.88 140.18L674.82 140.25L674.82 140.38L674.76 140.45L674.76 140.58L674.70 140.65L674.70 140.78L674.64 140.85L674.64 140.99L674.58 141.06L674.58 141.19L674.52 141.26L674.52 141.39L674.46 141.46L674.46 141.59L674.40 141.66L674.40 141.80L674.34 141.87L674.34 142.00L674.28 142.07L674.28 142.20L674.22 142.27L674.22 142.41L674.15 142.47L674.15 142.61L674.09 142.68L674.09 142.81L674.03 142.88L674.03 143.01L673.97 143.08L673.97 143.22L673.91 143.28L673.91 143.42L673.85 143.49L673.85 143.62L673.79 143.69L673.79 143.82L673.73 143.89L673.73 144.03L673.67 144.09L673.67 144.23L673.61 144.29L673.61 144.43L673.55 144.50L673.55 144.63L673.49 144.70L673.49 144.84L673.43 144.90L673.43 145.04L673.37 145.10L673.37 145.24L673.31 145.31L673.31 145.44L673.25 145.51L673.25 145.65L673.19 145.71L673.19 145.85L673.13 145.91L673.13 146.05L673.07 146.12L673.07 146.25L673.01 146.32L673.01 146.46L672.95 146.52L672.95 146.66L672.89 146.72L672.89 146.86L672.82 146.93L672.82 147.06L672.76 147.13L672.76 147.26L672.70 147.33L672.70 147.47L672.64 147.53L672.64 147.67L672.58 147.74L672.58 147.87L672.52 147.94L671.86 150.30L671.74 150.50L671.62 150.30L671.62 150.17L671.56 150.10L671.56 149.97L671.49 149.90L671.49 149.76L671.43 149.69L671.43 149.56L671.37 149.49L671.37 149.36L671.31 149.29L671.31 149.16L671.25 149.09L671.25 148.95L671.19 148.88L671.19 148.75L671.13 148.68L671.13 148.55L671.07 148.48L671.07 148.34L671.01 148.28L671.01 148.14L670.95 148.07L670.95 147.94L670.89 147.87L670.89 147.74L670.83 147.67L670.83 147.53L670.77 147.47L670.77 147.33L670.71 147.26L670.71 147.13L670.65 147.06L670.65 146.93L670.59 146.86L670.59 146.72L670.53 146.66L670.53 146.52L670.47 146.46L670.47 146.32L670.41 146.25L670.41 146.12L670.35 146.05L670.35 145.91L670.29 145.85L670.29 145.71L670.23 145.65L670.23 145.51L670.16 145.44L670.16 145.31L670.10 145.24L670.10 145.10L670.04 145.04L670.04 144.90L669.98 144.84L669.98 144.70L669.92 144.63L669.92 144.50L669.86 144.43L669.86 144.29L669.80 144.23L669.80 144.09L669.74 144.03L669.74 143.89L669.68 143.82L669.68 143.69L669.62 143.62L669.62 143.49L669.56 143.42L669.56 143.28L669.50 143.22L669.50 143.08L669.44 143.01L669.44 142.88L669.38 142.81L669.38 142.68L669.32 142.61L669.32 142.47L669.26 142.41L669.26 142.27L669.20 142.20L669.20 142.07L669.14 142.00L669.14 141.87L669.08 141.80L669.08 141.66L669.02 141.59L669.02 141.46L668.96 141.39L668.96 141.26L668.47 139.77L668.53 139.64L669.44 139.64L669.50 139.57L669.62 139.57L670.10 139.10L670.23 138.76L670.23 138.22L670.10 137.88L669.74 137.48L669.44 137.34L664.60 137.34L664.54 137.41Z"/>
<path d="M539.15 172.49L539.15 173.03L539.28 173.30L539.54 173.57L539.80 173.70L541.42 173.70L541.49 173.77L541.49 183.09L541.42 183.16L539.80 183.16L539.54 183.29L539.28 183.56L539.15 183.83L539.15 184.37L539.28 184.64L539.54 184.91L539.80 185.04L545.78 185.04L546.04 184.91L546.30 184.64L546.43 184.37L546.43 183.83L546.30 183.56L546.04 183.29L545.78 183.16L544.15 183.16L544.09 183.09L544.09 175.59L545.26 174.38L545.39 174.38L545.46 174.31L545.59 174.31L545.65 174.25L545.78 174.25L547.21 173.70L548.38 173.70L549.36 174.18L549.62 174.45L550.07 175.46L550.07 183.09L550.00 183.16L548.38 183.16L548.12 183.29L547.86 183.56L547.73 183.83L547.73 184.37L547.86 184.64L548.12 184.91L548.38 185.04L554.36 185.04L554.62 184.91L554.88 184.64L555.01 184.37L555.01 183.83L554.88 183.56L554.62 183.29L554.36 183.16L552.74 183.16L552.67 183.09L552.67 175.59L553.84 174.38L553.97 174.38L554.03 174.31L554.16 174.31L554.23 174.25L554.36 174.25L555.79 173.70L556.96 173.70L557.93 174.18L558.20 174.45L558.65 175.46L558.65 183.09L558.59 183.16L556.96 183.16L556.70 183.29L556.44 183.56L556.31 183.83L556.31 184.37L556.44 184.64L556.70 184.91L556.96 185.04L562.94 185.04L563.20 184.91L563.46 184.64L563.59 184.37L563.59 183.83L563.46 183.56L563.20 183.29L562.94 183.16L561.32 183.16L561.25 183.09L561.25 174.92L560.47 173.37L560.47 173.23L560.08 172.76L559.82 172.62L557.74 171.95L557.54 171.81L555.34 171.81L555.14 171.95L555.01 171.95L554.95 172.02L554.82 172.02L554.75 172.08L554.62 172.08L554.55 172.15L554.42 172.15L554.36 172.22L554.23 172.22L552.80 172.76L552.02 173.57L551.89 173.37L551.89 173.23L551.50 172.76L551.24 172.62L549.16 171.95L548.97 171.81L546.75 171.81L546.56 171.95L544.48 172.62L544.15 172.83L544.09 172.76L544.09 172.49L543.96 172.22L543.70 171.95L543.44 171.81L539.80 171.81L539.54 171.95L539.28 172.22Z"/>
<path d="M566.00 185.20 L567.30 184.80 L567.60 191.40 L570.60 189.10 L572.30 186.80 L572.80 185.00M568.00 185.10 L568.30 191.70" fill="none" stroke="#000" stroke-width="2.1" stroke-linecap="round" stroke-linejoin="round"/>
<path d="M577.7 174.30H590.9" fill="none" stroke="#000" stroke-width="2.2" stroke-linecap="round"/>
<path d="M577.7 179.00H590.9" fill="none" stroke="#000" stroke-width="2.2" stroke-linecap="round"/>
<path d="M614.07 181.33L613.55 181.67L613.49 181.81L612.64 182.68L612.51 183.02L612.51 183.56L612.64 183.90L613.81 185.11L614.14 185.25L614.66 185.25L614.99 185.11L616.15 183.90L616.28 183.56L616.28 183.02L616.15 182.68L615.31 181.81L615.31 181.74L614.99 181.47L614.73 181.33ZM621.88 165.94L621.62 166.08L621.23 166.48L621.03 167.02L621.03 167.36L620.96 167.43L620.96 167.70L620.90 167.76L620.90 168.03L620.84 168.10L620.84 168.37L620.77 168.44L620.77 168.71L620.70 168.78L620.70 169.05L620.64 169.11L620.64 169.38L620.57 169.45L620.57 169.72L620.51 169.79L620.51 170.06L620.44 170.13L620.44 170.40L620.38 170.47L620.38 170.73L620.31 170.80L620.31 171.07L620.25 171.14L620.25 171.41L620.18 171.48L620.18 171.75L620.12 171.81L620.12 172.08L620.05 172.15L620.05 172.42L619.99 172.49L619.99 172.76L619.92 172.83L619.92 173.10L619.86 173.16L619.86 173.44L619.79 173.50L619.66 174.45L619.53 174.78L619.53 175.53L619.66 175.80L620.05 176.20L620.31 176.34L620.96 176.34L621.49 176.00L621.55 175.87L622.78 174.58L622.91 174.51L623.04 174.51L624.48 173.97L624.67 173.97L624.74 173.91L626.62 173.91L627.86 174.58L629.02 175.80L629.35 176.88L629.41 176.94L629.41 177.08L629.48 177.15L629.48 177.28L629.54 177.35L629.54 177.48L629.61 177.55L629.61 177.75L629.67 177.82L629.67 179.04L629.61 179.10L629.61 179.31L629.54 179.38L629.54 179.51L629.48 179.58L629.48 179.71L629.41 179.78L629.41 179.91L629.35 179.98L629.02 181.06L627.86 182.28L626.62 182.95L624.74 182.95L624.67 182.88L624.48 182.88L624.41 182.82L624.28 182.82L624.22 182.75L624.08 182.75L624.02 182.68L623.89 182.68L623.82 182.61L622.78 182.28L622.26 181.67L622.33 181.53L623.17 180.66L623.30 180.32L623.30 179.78L623.17 179.44L622.00 178.23L621.68 178.09L621.16 178.09L620.84 178.23L619.66 179.44L619.53 179.78L619.53 181.13L619.60 181.20L619.60 181.33L620.44 183.09L621.62 184.30L622.07 184.50L622.26 184.50L622.33 184.57L623.82 185.04L624.22 185.25L627.20 185.25L627.60 185.04L627.73 185.04L629.15 184.50L629.54 184.44L629.80 184.30L631.75 182.28L631.95 181.81L631.95 181.60L632.01 181.53L632.47 179.98L632.66 179.58L632.66 177.28L632.47 176.88L632.47 176.74L631.95 175.26L631.95 175.06L631.75 174.58L629.80 172.56L629.35 172.35L629.15 172.35L629.09 172.29L627.60 171.81L627.20 171.61L624.22 171.61L623.82 171.81L623.69 171.81L622.46 172.29L622.33 172.22L622.39 172.15L622.39 171.88L622.46 171.81L622.46 171.54L622.52 171.48L622.52 171.21L622.59 171.14L622.59 170.87L622.65 170.80L622.65 170.53L622.72 170.47L622.72 170.19L622.78 170.13L622.91 169.18L623.04 169.05L626.42 169.05L626.49 168.98L626.75 168.98L626.81 168.91L627.07 168.91L627.14 168.84L627.40 168.84L627.46 168.78L627.73 168.78L627.79 168.71L628.05 168.71L628.12 168.64L628.38 168.64L628.44 168.57L628.70 168.57L628.76 168.51L629.02 168.51L629.09 168.44L629.35 168.44L629.41 168.37L630.32 168.24L630.59 168.10L630.98 167.70L631.11 167.43L631.11 166.75L630.98 166.48L630.59 166.08L630.32 165.94ZM601.92 165.88L601.86 165.94L601.53 165.94L601.20 166.14L601.07 166.14L599.64 166.69L599.45 166.69L599.00 166.89L598.54 167.36L598.48 167.56L597.30 169.38L597.11 169.59L596.85 170.33L596.85 170.60L596.78 170.67L596.78 170.94L596.72 171.00L596.72 171.28L596.65 171.34L596.65 171.61L596.59 171.68L596.59 171.95L596.52 172.02L596.52 172.29L596.46 172.35L596.46 172.62L596.39 172.69L596.39 172.96L596.33 173.03L596.33 173.30L596.26 173.37L596.26 173.64L596.20 173.70L596.20 173.97L596.13 174.04L596.13 177.15L596.20 177.22L596.20 177.48L596.26 177.55L596.26 177.82L596.33 177.89L596.33 178.16L596.39 178.23L596.39 178.50L596.46 178.56L596.46 178.83L596.52 178.90L596.52 179.17L596.59 179.24L596.59 179.51L596.65 179.58L596.65 179.85L596.72 179.91L596.72 180.19L596.78 180.25L596.78 180.52L596.85 180.59L596.85 180.86L596.91 180.93L596.98 181.33L598.48 183.63L598.54 183.83L599.00 184.30L599.25 184.44L599.64 184.50L599.71 184.57L601.20 185.04L601.60 185.25L603.80 185.25L604.19 185.04L604.32 185.04L605.75 184.50L605.95 184.50L606.40 184.30L606.86 183.83L606.92 183.63L608.10 181.81L608.29 181.60L608.55 180.86L608.55 180.59L608.62 180.52L608.62 180.25L608.68 180.19L608.68 179.91L608.75 179.85L608.75 179.58L608.81 179.51L608.81 179.24L608.88 179.17L608.88 178.90L608.94 178.83L608.94 178.56L609.00 178.50L609.00 178.23L609.07 178.16L609.07 177.89L609.13 177.82L609.13 177.55L609.20 177.48L609.20 177.22L609.26 177.15L609.26 174.04L609.20 173.97L609.20 173.70L609.13 173.64L609.13 173.37L609.07 173.30L609.07 173.03L609.00 172.96L609.00 172.69L608.94 172.62L608.94 172.35L608.88 172.29L608.88 172.02L608.81 171.95L608.81 171.68L608.75 171.61L608.75 171.34L608.68 171.28L608.68 171.00L608.62 170.94L608.62 170.67L608.55 170.60L608.55 170.33L608.49 170.26L608.42 169.86L606.92 167.56L606.86 167.36L606.40 166.89L606.14 166.75L605.75 166.69L605.69 166.62L604.19 166.14L603.80 165.94L602.05 165.94ZM602.18 168.24L603.22 168.24L604.26 168.78L604.85 169.32L605.56 170.80L605.62 171.34L605.69 171.41L605.69 171.68L605.75 171.75L605.75 172.02L605.82 172.08L605.82 172.35L605.88 172.42L605.88 172.69L605.95 172.76L605.95 173.03L606.01 173.10L606.01 173.37L606.08 173.44L606.08 173.70L606.14 173.77L606.14 174.04L606.21 174.11L606.21 174.45L606.27 174.51L606.27 176.67L606.21 176.74L606.21 177.08L606.14 177.15L606.14 177.42L606.08 177.48L606.08 177.75L606.01 177.82L606.01 178.09L605.95 178.16L605.95 178.43L605.88 178.50L605.88 178.77L605.82 178.83L605.82 179.10L605.75 179.17L605.75 179.44L605.69 179.51L605.69 179.78L605.62 179.85L605.62 180.12L605.56 180.19L605.50 180.59L604.85 181.87L604.26 182.41L603.22 182.95L602.18 182.95L601.14 182.41L600.55 181.87L599.84 180.39L599.77 179.85L599.71 179.78L599.71 179.51L599.64 179.44L599.64 179.17L599.58 179.10L599.58 178.83L599.51 178.77L599.51 178.50L599.45 178.43L599.45 178.16L599.38 178.09L599.38 177.82L599.32 177.75L599.32 177.48L599.25 177.42L599.25 177.15L599.19 177.08L599.19 176.74L599.12 176.67L599.12 174.51L599.19 174.45L599.19 174.11L599.25 174.04L599.25 173.77L599.32 173.70L599.32 173.44L599.38 173.37L599.38 173.10L599.45 173.03L599.45 172.76L599.51 172.69L599.51 172.42L599.58 172.35L599.58 172.08L599.64 172.02L599.64 171.75L599.71 171.68L599.71 171.41L599.77 171.34L599.77 171.07L599.84 171.00L599.90 170.60L600.55 169.32L601.14 168.78Z"/>
<path d="M654.52 171.61L654.46 171.68L654.20 171.68L654.00 171.81L653.87 171.81L653.81 171.88L653.68 171.88L653.61 171.95L653.48 171.95L653.42 172.02L653.29 172.02L651.86 172.56L651.66 172.69L650.04 174.38L649.71 174.92L649.06 177.08L649.00 177.15L649.00 177.42L648.93 177.48L648.93 179.38L649.00 179.44L649.00 179.71L649.06 179.78L649.06 179.91L649.13 179.98L649.13 180.12L649.19 180.19L649.19 180.32L649.26 180.39L649.26 180.52L649.32 180.59L649.32 180.72L649.84 182.21L650.04 182.48L651.60 184.10L652.12 184.44L654.00 185.04L654.20 185.18L654.46 185.18L654.52 185.25L656.41 185.25L656.47 185.18L656.73 185.18L656.80 185.11L658.88 184.44L659.33 184.17L660.96 182.48L661.15 182.21L661.22 181.87L661.28 181.81L661.28 181.53L661.22 181.47L661.15 181.13L660.57 180.59L660.37 180.59L660.31 180.52L659.79 180.59L659.40 180.86L658.03 182.28L657.90 182.34L657.77 182.34L656.34 182.88L656.15 182.88L656.08 182.95L654.98 182.95L653.74 182.28L652.57 181.06L652.25 179.98L652.18 179.91L652.18 179.78L652.12 179.71L652.12 179.58L652.05 179.51L652.05 179.38L651.99 179.31L651.92 178.83L651.99 178.77L660.31 178.77L660.37 178.70L660.57 178.70L660.70 178.63L661.22 178.03L661.22 177.82L661.28 177.75L661.28 175.87L661.22 175.80L661.15 175.39L660.44 173.91L660.18 173.64L660.18 173.57L659.07 172.49L657.64 171.75L657.25 171.68L657.19 171.61ZM652.38 176.34L652.57 175.80L653.74 174.58L654.98 173.91L656.80 173.91L657.71 174.38L657.84 174.51L658.29 175.46L658.29 176.41L658.23 176.47L652.44 176.47Z"/>
<path d="M664.42 166.01L664.30 166.08L663.88 166.62L663.88 166.75L663.82 166.82L663.82 167.36L663.88 167.43L663.88 167.56L663.94 167.70L664.42 168.17L664.54 168.17L664.60 168.24L665.51 168.24L665.63 168.44L665.63 168.57L665.69 168.64L665.69 168.78L665.75 168.84L665.75 168.98L665.81 169.05L665.81 169.18L665.87 169.25L665.87 169.38L665.93 169.45L665.93 169.59L665.99 169.66L665.99 169.79L666.05 169.86L666.05 169.99L666.11 170.06L666.11 170.19L666.18 170.26L666.18 170.40L666.24 170.47L666.24 170.60L666.30 170.67L666.30 170.80L666.36 170.87L666.36 171.00L666.42 171.07L666.42 171.21L666.48 171.28L666.48 171.41L666.54 171.48L666.54 171.61L666.60 171.68L666.60 171.81L666.66 171.88L666.66 172.02L666.72 172.08L666.72 172.22L666.78 172.29L666.78 172.42L666.84 172.49L666.84 172.62L666.90 172.69L666.90 172.83L666.96 172.89L666.96 173.03L667.02 173.10L667.02 173.23L667.08 173.30L667.08 173.44L667.14 173.50L667.14 173.64L667.20 173.70L667.20 173.84L667.26 173.91L667.26 174.04L667.32 174.11L667.32 174.25L667.38 174.31L667.38 174.45L667.44 174.51L667.44 174.65L667.51 174.72L667.51 174.85L667.57 174.92L667.57 175.06L667.63 175.12L667.63 175.26L667.69 175.32L667.69 175.46L667.75 175.53L667.75 175.66L667.81 175.73L667.81 175.87L667.87 175.93L667.87 176.07L667.93 176.13L667.93 176.27L667.99 176.34L667.99 176.47L668.05 176.54L668.05 176.67L668.11 176.74L668.11 176.88L668.17 176.94L668.17 177.08L668.23 177.15L668.23 177.28L668.29 177.35L668.29 177.48L668.35 177.55L668.35 177.69L668.41 177.75L668.41 177.89L668.47 177.96L668.47 178.09L668.53 178.16L668.53 178.29L668.59 178.36L668.59 178.50L668.65 178.56L668.65 178.70L668.71 178.77L668.71 178.90L668.77 178.97L668.77 179.10L668.84 179.17L668.84 179.31L668.90 179.38L668.90 179.51L668.96 179.58L668.96 179.71L669.02 179.78L669.02 179.91L669.08 179.98L669.08 180.12L669.14 180.19L669.14 180.32L669.20 180.39L669.20 180.52L669.26 180.59L669.26 180.72L669.32 180.79L669.32 180.93L669.38 181.00L669.38 181.13L669.44 181.20L669.44 181.33L669.50 181.40L669.50 181.53L669.56 181.60L669.56 181.74L669.62 181.81L669.62 181.94L669.68 182.01L669.68 182.14L669.74 182.21L669.74 182.34L669.80 182.41L669.80 182.55L670.29 184.03L670.35 184.44L670.47 184.71L670.83 185.11L671.07 185.25L671.68 185.25L671.92 185.11L672.28 184.71L672.40 184.44L672.46 184.03L672.52 183.97L672.52 183.83L672.58 183.76L672.58 183.63L672.64 183.56L672.64 183.42L672.70 183.36L672.70 183.22L672.76 183.16L672.76 183.02L672.82 182.95L672.82 182.82L672.89 182.75L672.89 182.61L672.95 182.55L672.95 182.41L673.01 182.34L673.01 182.21L673.07 182.14L673.07 182.01L673.13 181.94L673.13 181.81L673.19 181.74L673.19 181.60L673.25 181.53L673.25 181.40L673.31 181.33L673.31 181.20L673.37 181.13L673.37 181.00L673.43 180.93L673.43 180.79L673.49 180.72L673.49 180.59L673.55 180.52L673.55 180.39L673.61 180.32L673.61 180.19L673.67 180.12L673.67 179.98L673.73 179.91L673.73 179.78L673.79 179.71L673.79 179.58L673.85 179.51L673.85 179.38L673.91 179.31L673.91 179.17L673.97 179.10L673.97 178.97L674.03 178.90L674.03 178.77L674.09 178.70L674.09 178.56L674.15 178.50L674.15 178.36L674.22 178.29L674.22 178.16L674.28 178.09L674.28 177.96L674.34 177.89L674.34 177.75L674.40 177.69L674.40 177.55L674.46 177.48L674.46 177.35L674.52 177.28L674.52 177.15L674.58 177.08L674.58 176.94L674.64 176.88L674.64 176.74L674.70 176.67L674.70 176.54L674.76 176.47L674.76 176.34L674.82 176.27L674.82 176.13L674.88 176.07L674.88 175.93L674.94 175.87L674.94 175.73L675.00 175.66L675.00 175.53L675.06 175.46L675.06 175.32L675.12 175.26L675.12 175.12L675.18 175.06L675.18 174.92L675.24 174.85L675.24 174.72L675.30 174.65L675.30 174.51L675.36 174.45L675.36 174.31L675.42 174.25L675.42 174.11L675.48 174.04L675.48 173.91L675.55 173.84L675.55 173.70L675.61 173.64L675.61 173.50L675.67 173.44L675.67 173.30L675.73 173.23L675.73 173.10L675.79 173.03L675.79 172.89L675.85 172.83L675.85 172.69L675.91 172.62L675.91 172.49L675.97 172.42L675.97 172.29L676.03 172.22L676.03 172.08L676.09 172.02L676.09 171.88L676.15 171.81L676.15 171.68L676.21 171.61L676.21 171.48L676.27 171.41L676.27 171.28L676.33 171.21L676.33 171.07L676.39 171.00L676.39 170.87L676.45 170.80L677.12 168.44L677.24 168.24L678.14 168.24L678.45 168.10L678.81 167.70L678.93 167.36L678.93 166.82L678.87 166.75L678.87 166.62L678.45 166.08L678.14 165.94L673.31 165.94L673.01 166.08L672.64 166.48L672.52 166.82L672.52 167.36L672.64 167.70L673.01 168.10L673.31 168.24L674.94 168.24L675.00 168.37L674.94 168.44L674.94 168.57L674.88 168.64L674.88 168.78L674.82 168.84L674.82 168.98L674.76 169.05L674.76 169.18L674.70 169.25L674.70 169.38L674.64 169.45L674.64 169.59L674.58 169.66L674.58 169.79L674.52 169.86L674.52 169.99L674.46 170.06L674.46 170.19L674.40 170.26L674.40 170.40L674.34 170.47L674.34 170.60L674.28 170.67L674.28 170.80L674.22 170.87L674.22 171.00L674.15 171.07L674.15 171.21L674.09 171.28L674.09 171.41L674.03 171.48L674.03 171.61L673.97 171.68L673.97 171.81L673.91 171.88L673.91 172.02L673.85 172.08L673.85 172.22L673.79 172.29L673.79 172.42L673.73 172.49L673.73 172.62L673.67 172.69L673.67 172.83L673.61 172.89L673.61 173.03L673.55 173.10L673.55 173.23L673.49 173.30L673.49 173.44L673.43 173.50L673.43 173.64L673.37 173.70L673.37 173.84L673.31 173.91L673.31 174.04L673.25 174.11L673.25 174.25L673.19 174.31L673.19 174.45L673.13 174.51L673.13 174.65L673.07 174.72L673.07 174.85L673.01 174.92L673.01 175.06L672.95 175.12L672.95 175.26L672.89 175.32L672.89 175.46L672.82 175.53L672.82 175.66L672.76 175.73L672.76 175.87L672.70 175.93L672.70 176.07L672.64 176.13L672.64 176.27L672.58 176.34L672.58 176.47L672.52 176.54L671.86 178.90L671.74 179.10L671.62 178.90L671.62 178.77L671.56 178.70L671.56 178.56L671.49 178.50L671.49 178.36L671.43 178.29L671.43 178.16L671.37 178.09L671.37 177.96L671.31 177.89L671.31 177.75L671.25 177.69L671.25 177.55L671.19 177.48L671.19 177.35L671.13 177.28L671.13 177.15L671.07 177.08L671.07 176.94L671.01 176.88L671.01 176.74L670.95 176.67L670.95 176.54L670.89 176.47L670.89 176.34L670.83 176.27L670.83 176.13L670.77 176.07L670.77 175.93L670.71 175.87L670.71 175.73L670.65 175.66L670.65 175.53L670.59 175.46L670.59 175.32L670.53 175.26L670.53 175.12L670.47 175.06L670.47 174.92L670.41 174.85L670.41 174.72L670.35 174.65L670.35 174.51L670.29 174.45L670.29 174.31L670.23 174.25L670.23 174.11L670.16 174.04L670.16 173.91L670.10 173.84L670.10 173.70L670.04 173.64L670.04 173.50L669.98 173.44L669.98 173.30L669.92 173.23L669.92 173.10L669.86 173.03L669.86 172.89L669.80 172.83L669.80 172.69L669.74 172.62L669.74 172.49L669.68 172.42L669.68 172.29L669.62 172.22L669.62 172.08L669.56 172.02L669.56 171.88L669.50 171.81L669.50 171.68L669.44 171.61L669.44 171.48L669.38 171.41L669.38 171.28L669.32 171.21L669.32 171.07L669.26 171.00L669.26 170.87L669.20 170.80L669.20 170.67L669.14 170.60L669.14 170.47L669.08 170.40L669.08 170.26L669.02 170.19L669.02 170.06L668.96 169.99L668.96 169.86L668.47 168.37L668.53 168.24L669.44 168.24L669.50 168.17L669.62 168.17L670.10 167.70L670.23 167.36L670.23 166.82L670.10 166.48L669.74 166.08L669.44 165.94L664.60 165.94L664.54 166.01Z"/>
<path d="M539.15 201.69L539.15 202.23L539.28 202.50L539.54 202.77L539.80 202.90L541.42 202.90L541.49 202.97L541.49 212.29L541.42 212.35L539.80 212.35L539.54 212.49L539.28 212.76L539.15 213.03L539.15 213.57L539.28 213.84L539.54 214.11L539.80 214.24L545.78 214.24L546.04 214.11L546.30 213.84L546.43 213.57L546.43 213.03L546.30 212.76L546.04 212.49L545.78 212.35L544.15 212.35L544.09 212.29L544.09 204.79L545.26 203.58L545.39 203.58L545.46 203.51L545.59 203.51L545.65 203.44L545.78 203.44L547.21 202.90L548.38 202.90L549.36 203.38L549.62 203.65L550.07 204.66L550.07 212.29L550.00 212.35L548.38 212.35L548.12 212.49L547.86 212.76L547.73 213.03L547.73 213.57L547.86 213.84L548.12 214.11L548.38 214.24L554.36 214.24L554.62 214.11L554.88 213.84L555.01 213.57L555.01 213.03L554.88 212.76L554.62 212.49L554.36 212.35L552.74 212.35L552.67 212.29L552.67 204.79L553.84 203.58L553.97 203.58L554.03 203.51L554.16 203.51L554.23 203.44L554.36 203.44L555.79 202.90L556.96 202.90L557.93 203.38L558.20 203.65L558.65 204.66L558.65 212.29L558.59 212.35L556.96 212.35L556.70 212.49L556.44 212.76L556.31 213.03L556.31 213.57L556.44 213.84L556.70 214.11L556.96 214.24L562.94 214.24L563.20 214.11L563.46 213.84L563.59 213.57L563.59 213.03L563.46 212.76L563.20 212.49L562.94 212.35L561.32 212.35L561.25 212.29L561.25 204.12L560.47 202.57L560.47 202.43L560.08 201.96L559.82 201.82L557.74 201.15L557.54 201.01L555.34 201.01L555.14 201.15L555.01 201.15L554.95 201.22L554.82 201.22L554.75 201.28L554.62 201.28L554.55 201.35L554.42 201.35L554.36 201.42L554.23 201.42L552.80 201.96L552.02 202.77L551.89 202.57L551.89 202.43L551.50 201.96L551.24 201.82L549.16 201.15L548.97 201.01L546.75 201.01L546.56 201.15L544.48 201.82L544.15 202.03L544.09 201.96L544.09 201.69L543.96 201.42L543.70 201.15L543.44 201.01L539.80 201.01L539.54 201.15L539.28 201.42Z"/>
<path d="M566.00 214.40 L567.30 214.00 L567.60 220.60 L570.60 218.30 L572.30 216.00 L572.80 214.20M568.00 214.30 L568.30 220.90" fill="none" stroke="#000" stroke-width="2.1" stroke-linecap="round" stroke-linejoin="round"/>
<path d="M577.7 203.50H590.9" fill="none" stroke="#000" stroke-width="2.2" stroke-linecap="round"/>
<path d="M577.7 208.20H590.9" fill="none" stroke="#000" stroke-width="2.2" stroke-linecap="round"/>
<path d="M614.07 210.53L613.55 210.87L613.49 211.00L612.64 211.88L612.51 212.22L612.51 212.76L612.64 213.10L613.81 214.31L614.14 214.45L614.66 214.45L614.99 214.31L616.15 213.10L616.28 212.76L616.28 212.22L616.15 211.88L615.31 211.00L615.31 210.94L614.99 210.67L614.73 210.53ZM628.70 195.14L625.77 195.14L625.38 195.34L625.25 195.34L623.82 195.88L623.63 195.88L623.17 196.09L621.23 198.11L620.31 200.00L620.25 200.54L620.18 200.61L620.18 200.81L620.12 200.88L620.12 201.08L620.05 201.15L620.05 201.35L619.99 201.42L619.99 201.62L619.92 201.69L619.92 201.89L619.86 201.96L619.66 202.97L619.53 203.24L619.53 208.78L619.73 209.18L619.73 209.32L620.25 210.80L620.25 211.00L620.44 211.48L622.39 213.50L622.85 213.70L623.04 213.70L623.11 213.77L624.61 214.24L625.00 214.45L627.20 214.45L627.60 214.24L627.73 214.24L629.15 213.70L629.35 213.70L629.80 213.50L631.75 211.48L631.95 211.00L631.95 210.80L632.01 210.73L632.47 209.18L632.66 208.78L632.66 207.29L632.47 206.89L632.47 206.75L631.95 205.27L631.88 204.86L631.75 204.59L629.80 202.57L629.35 202.36L629.15 202.36L629.09 202.30L627.60 201.82L627.20 201.62L625.77 201.62L625.38 201.82L625.25 201.82L623.82 202.36L623.43 202.43L623.17 202.57L622.85 202.90L622.72 202.84L622.78 202.77L622.78 202.57L622.85 202.50L622.85 202.30L622.91 202.23L622.91 202.03L622.98 201.96L623.17 200.95L623.95 199.33L625.12 198.11L626.36 197.44L628.18 197.44L628.96 197.84L629.09 197.98L629.09 198.04L628.25 198.92L628.12 199.26L628.12 199.80L628.25 200.14L629.41 201.35L629.54 201.42L629.67 201.42L629.74 201.49L630.26 201.49L630.59 201.35L631.75 200.14L631.88 199.80L631.88 198.45L630.98 196.49L630.59 196.09ZM626.62 203.92L627.86 204.59L629.02 205.81L629.35 206.89L629.41 206.95L629.41 207.09L629.48 207.16L629.48 207.29L629.54 207.36L629.54 207.49L629.61 207.56L629.67 208.24L629.61 208.30L629.61 208.51L629.54 208.57L629.54 208.71L629.48 208.78L629.48 208.91L629.41 208.98L629.41 209.11L629.35 209.18L629.02 210.26L627.86 211.48L626.62 212.15L625.58 212.15L624.35 211.48L623.17 210.26L622.85 209.18L622.78 209.11L622.78 208.98L622.72 208.91L622.72 208.78L622.65 208.71L622.65 208.57L622.59 208.51L622.52 207.83L622.59 207.76L622.59 207.56L622.65 207.49L622.65 207.36L622.72 207.29L622.72 207.16L622.78 207.09L622.78 206.95L622.85 206.89L623.17 205.81L624.35 204.59L625.38 204.25L625.45 204.19L625.58 204.19L625.64 204.12L625.77 204.12L625.84 204.05L625.97 204.05L626.03 203.98ZM601.92 195.07L601.86 195.14L601.53 195.14L601.20 195.34L601.07 195.34L599.64 195.88L599.45 195.88L599.00 196.09L598.54 196.56L598.48 196.76L597.30 198.58L597.11 198.79L596.85 199.53L596.85 199.80L596.78 199.87L596.78 200.14L596.72 200.20L596.72 200.47L596.65 200.54L596.65 200.81L596.59 200.88L596.59 201.15L596.52 201.22L596.52 201.49L596.46 201.55L596.46 201.82L596.39 201.89L596.39 202.16L596.33 202.23L596.33 202.50L596.26 202.57L596.26 202.84L596.20 202.90L596.20 203.17L596.13 203.24L596.13 206.35L596.20 206.41L596.20 206.68L596.26 206.75L596.26 207.02L596.33 207.09L596.33 207.36L596.39 207.43L596.39 207.70L596.46 207.76L596.46 208.03L596.52 208.10L596.52 208.37L596.59 208.44L596.59 208.71L596.65 208.78L596.65 209.05L596.72 209.11L596.72 209.38L596.78 209.45L596.78 209.72L596.85 209.79L596.85 210.06L596.91 210.13L596.98 210.53L598.48 212.83L598.54 213.03L599.00 213.50L599.25 213.64L599.64 213.70L599.71 213.77L601.20 214.24L601.60 214.45L603.80 214.45L604.19 214.24L604.32 214.24L605.75 213.70L605.95 213.70L606.40 213.50L606.86 213.03L606.92 212.83L608.10 211.00L608.29 210.80L608.55 210.06L608.55 209.79L608.62 209.72L608.62 209.45L608.68 209.38L608.68 209.11L608.75 209.05L608.75 208.78L608.81 208.71L608.81 208.44L608.88 208.37L608.88 208.10L608.94 208.03L608.94 207.76L609.00 207.70L609.00 207.43L609.07 207.36L609.07 207.09L609.13 207.02L609.13 206.75L609.20 206.68L609.20 206.41L609.26 206.35L609.26 203.24L609.20 203.17L609.20 202.90L609.13 202.84L609.13 202.57L609.07 202.50L609.07 202.23L609.00 202.16L609.00 201.89L608.94 201.82L608.94 201.55L608.88 201.49L608.88 201.22L608.81 201.15L608.81 200.88L608.75 200.81L608.75 200.54L608.68 200.47L608.68 200.20L608.62 200.14L608.62 199.87L608.55 199.80L608.55 199.53L608.49 199.46L608.42 199.06L606.92 196.76L606.86 196.56L606.40 196.09L606.14 195.95L605.75 195.88L605.69 195.82L604.19 195.34L603.80 195.14L602.05 195.14ZM602.18 197.44L603.22 197.44L604.26 197.98L604.85 198.52L605.56 200.00L605.62 200.54L605.69 200.61L605.69 200.88L605.75 200.95L605.75 201.22L605.82 201.28L605.82 201.55L605.88 201.62L605.88 201.89L605.95 201.96L605.95 202.23L606.01 202.30L606.01 202.57L606.08 202.63L606.08 202.90L606.14 202.97L606.14 203.24L606.21 203.31L606.21 203.65L606.27 203.71L606.27 205.87L606.21 205.94L606.21 206.28L606.14 206.35L606.14 206.62L606.08 206.68L606.08 206.95L606.01 207.02L606.01 207.29L605.95 207.36L605.95 207.63L605.88 207.70L605.88 207.97L605.82 208.03L605.82 208.30L605.75 208.37L605.75 208.64L605.69 208.71L605.69 208.98L605.62 209.05L605.62 209.32L605.56 209.38L605.50 209.79L604.85 211.07L604.26 211.61L603.22 212.15L602.18 212.15L601.14 211.61L600.55 211.07L599.84 209.59L599.77 209.05L599.71 208.98L599.71 208.71L599.64 208.64L599.64 208.37L599.58 208.30L599.58 208.03L599.51 207.97L599.51 207.70L599.45 207.63L599.45 207.36L599.38 207.29L599.38 207.02L599.32 206.95L599.32 206.68L599.25 206.62L599.25 206.35L599.19 206.28L599.19 205.94L599.12 205.87L599.12 203.71L599.19 203.65L599.19 203.31L599.25 203.24L599.25 202.97L599.32 202.90L599.32 202.63L599.38 202.57L599.38 202.30L599.45 202.23L599.45 201.96L599.51 201.89L599.51 201.62L599.58 201.55L599.58 201.28L599.64 201.22L599.64 200.95L599.71 200.88L599.71 200.61L599.77 200.54L599.77 200.27L599.84 200.20L599.90 199.80L600.55 198.52L601.14 197.98Z"/>
<path d="M654.52 200.81L654.46 200.88L654.20 200.88L654.00 201.01L653.87 201.01L653.81 201.08L653.68 201.08L653.61 201.15L653.48 201.15L653.42 201.22L653.29 201.22L651.86 201.76L651.66 201.89L650.04 203.58L649.71 204.12L649.06 206.28L649.00 206.35L649.00 206.62L648.93 206.68L648.93 208.57L649.00 208.64L649.00 208.91L649.06 208.98L649.06 209.11L649.13 209.18L649.13 209.32L649.19 209.38L649.19 209.52L649.26 209.59L649.26 209.72L649.32 209.79L649.32 209.92L649.84 211.41L650.04 211.68L651.60 213.30L652.12 213.64L654.00 214.24L654.20 214.38L654.46 214.38L654.52 214.45L656.41 214.45L656.47 214.38L656.73 214.38L656.80 214.31L658.88 213.64L659.33 213.37L660.96 211.68L661.15 211.41L661.22 211.07L661.28 211.00L661.28 210.73L661.22 210.67L661.15 210.33L660.57 209.79L660.37 209.79L660.31 209.72L659.79 209.79L659.40 210.06L658.03 211.48L657.90 211.54L657.77 211.54L656.34 212.08L656.15 212.08L656.08 212.15L654.98 212.15L653.74 211.48L652.57 210.26L652.25 209.18L652.18 209.11L652.18 208.98L652.12 208.91L652.12 208.78L652.05 208.71L652.05 208.57L651.99 208.51L651.92 208.03L651.99 207.97L660.31 207.97L660.37 207.90L660.57 207.90L660.70 207.83L661.22 207.22L661.22 207.02L661.28 206.95L661.28 205.06L661.22 205.00L661.15 204.59L660.44 203.11L660.18 202.84L660.18 202.77L659.07 201.69L657.64 200.95L657.25 200.88L657.19 200.81ZM652.38 205.54L652.57 205.00L653.74 203.78L654.98 203.11L656.80 203.11L657.71 203.58L657.84 203.71L658.29 204.66L658.29 205.60L658.23 205.67L652.44 205.67Z"/>
<path d="M664.42 195.21L664.30 195.28L663.88 195.82L663.88 195.95L663.82 196.02L663.82 196.56L663.88 196.63L663.88 196.76L663.94 196.90L664.42 197.37L664.54 197.37L664.60 197.44L665.51 197.44L665.63 197.64L665.63 197.77L665.69 197.84L665.69 197.98L665.75 198.04L665.75 198.18L665.81 198.25L665.81 198.38L665.87 198.45L665.87 198.58L665.93 198.65L665.93 198.79L665.99 198.85L665.99 198.99L666.05 199.06L666.05 199.19L666.11 199.26L666.11 199.39L666.18 199.46L666.18 199.60L666.24 199.66L666.24 199.80L666.30 199.87L666.30 200.00L666.36 200.07L666.36 200.20L666.42 200.27L666.42 200.41L666.48 200.47L666.48 200.61L666.54 200.68L666.54 200.81L666.60 200.88L666.60 201.01L666.66 201.08L666.66 201.22L666.72 201.28L666.72 201.42L666.78 201.49L666.78 201.62L666.84 201.69L666.84 201.82L666.90 201.89L666.90 202.03L666.96 202.09L666.96 202.23L667.02 202.30L667.02 202.43L667.08 202.50L667.08 202.63L667.14 202.70L667.14 202.84L667.20 202.90L667.20 203.04L667.26 203.11L667.26 203.24L667.32 203.31L667.32 203.44L667.38 203.51L667.38 203.65L667.44 203.71L667.44 203.85L667.51 203.92L667.51 204.05L667.57 204.12L667.57 204.25L667.63 204.32L667.63 204.46L667.69 204.52L667.69 204.66L667.75 204.73L667.75 204.86L667.81 204.93L667.81 205.06L667.87 205.13L667.87 205.27L667.93 205.33L667.93 205.47L667.99 205.54L667.99 205.67L668.05 205.74L668.05 205.87L668.11 205.94L668.11 206.08L668.17 206.14L668.17 206.28L668.23 206.35L668.23 206.48L668.29 206.55L668.29 206.68L668.35 206.75L668.35 206.89L668.41 206.95L668.41 207.09L668.47 207.16L668.47 207.29L668.53 207.36L668.53 207.49L668.59 207.56L668.59 207.70L668.65 207.76L668.65 207.90L668.71 207.97L668.71 208.10L668.77 208.17L668.77 208.30L668.84 208.37L668.84 208.51L668.90 208.57L668.90 208.71L668.96 208.78L668.96 208.91L669.02 208.98L669.02 209.11L669.08 209.18L669.08 209.32L669.14 209.38L669.14 209.52L669.20 209.59L669.20 209.72L669.26 209.79L669.26 209.92L669.32 209.99L669.32 210.13L669.38 210.19L669.38 210.33L669.44 210.40L669.44 210.53L669.50 210.60L669.50 210.73L669.56 210.80L669.56 210.94L669.62 211.00L669.62 211.14L669.68 211.21L669.68 211.34L669.74 211.41L669.74 211.54L669.80 211.61L669.80 211.75L670.29 213.23L670.35 213.64L670.47 213.91L670.83 214.31L671.07 214.45L671.68 214.45L671.92 214.31L672.28 213.91L672.40 213.64L672.46 213.23L672.52 213.16L672.52 213.03L672.58 212.96L672.58 212.83L672.64 212.76L672.64 212.62L672.70 212.56L672.70 212.42L672.76 212.35L672.76 212.22L672.82 212.15L672.82 212.02L672.89 211.95L672.89 211.81L672.95 211.75L672.95 211.61L673.01 211.54L673.01 211.41L673.07 211.34L673.07 211.21L673.13 211.14L673.13 211.00L673.19 210.94L673.19 210.80L673.25 210.73L673.25 210.60L673.31 210.53L673.31 210.40L673.37 210.33L673.37 210.19L673.43 210.13L673.43 209.99L673.49 209.92L673.49 209.79L673.55 209.72L673.55 209.59L673.61 209.52L673.61 209.38L673.67 209.32L673.67 209.18L673.73 209.11L673.73 208.98L673.79 208.91L673.79 208.78L673.85 208.71L673.85 208.57L673.91 208.51L673.91 208.37L673.97 208.30L673.97 208.17L674.03 208.10L674.03 207.97L674.09 207.90L674.09 207.76L674.15 207.70L674.15 207.56L674.22 207.49L674.22 207.36L674.28 207.29L674.28 207.16L674.34 207.09L674.34 206.95L674.40 206.89L674.40 206.75L674.46 206.68L674.46 206.55L674.52 206.48L674.52 206.35L674.58 206.28L674.58 206.14L674.64 206.08L674.64 205.94L674.70 205.87L674.70 205.74L674.76 205.67L674.76 205.54L674.82 205.47L674.82 205.33L674.88 205.27L674.88 205.13L674.94 205.06L674.94 204.93L675.00 204.86L675.00 204.73L675.06 204.66L675.06 204.52L675.12 204.46L675.12 204.32L675.18 204.25L675.18 204.12L675.24 204.05L675.24 203.92L675.30 203.85L675.30 203.71L675.36 203.65L675.36 203.51L675.42 203.44L675.42 203.31L675.48 203.24L675.48 203.11L675.55 203.04L675.55 202.90L675.61 202.84L675.61 202.70L675.67 202.63L675.67 202.50L675.73 202.43L675.73 202.30L675.79 202.23L675.79 202.09L675.85 202.03L675.85 201.89L675.91 201.82L675.91 201.69L675.97 201.62L675.97 201.49L676.03 201.42L676.03 201.28L676.09 201.22L676.09 201.08L676.15 201.01L676.15 200.88L676.21 200.81L676.21 200.68L676.27 200.61L676.27 200.47L676.33 200.41L676.33 200.27L676.39 200.20L676.39 200.07L676.45 200.00L677.12 197.64L677.24 197.44L678.14 197.44L678.45 197.30L678.81 196.90L678.93 196.56L678.93 196.02L678.87 195.95L678.87 195.82L678.45 195.28L678.14 195.14L673.31 195.14L673.01 195.28L672.64 195.68L672.52 196.02L672.52 196.56L672.64 196.90L673.01 197.30L673.31 197.44L674.94 197.44L675.00 197.57L674.94 197.64L674.94 197.77L674.88 197.84L674.88 197.98L674.82 198.04L674.82 198.18L674.76 198.25L674.76 198.38L674.70 198.45L674.70 198.58L674.64 198.65L674.64 198.79L674.58 198.85L674.58 198.99L674.52 199.06L674.52 199.19L674.46 199.26L674.46 199.39L674.40 199.46L674.40 199.60L674.34 199.66L674.34 199.80L674.28 199.87L674.28 200.00L674.22 200.07L674.22 200.20L674.15 200.27L674.15 200.41L674.09 200.47L674.09 200.61L674.03 200.68L674.03 200.81L673.97 200.88L673.97 201.01L673.91 201.08L673.91 201.22L673.85 201.28L673.85 201.42L673.79 201.49L673.79 201.62L673.73 201.69L673.73 201.82L673.67 201.89L673.67 202.03L673.61 202.09L673.61 202.23L673.55 202.30L673.55 202.43L673.49 202.50L673.49 202.63L673.43 202.70L673.43 202.84L673.37 202.90L673.37 203.04L673.31 203.11L673.31 203.24L673.25 203.31L673.25 203.44L673.19 203.51L673.19 203.65L673.13 203.71L673.13 203.85L673.07 203.92L673.07 204.05L673.01 204.12L673.01 204.25L672.95 204.32L672.95 204.46L672.89 204.52L672.89 204.66L672.82 204.73L672.82 204.86L672.76 204.93L672.76 205.06L672.70 205.13L672.70 205.27L672.64 205.33L672.64 205.47L672.58 205.54L672.58 205.67L672.52 205.74L671.86 208.10L671.74 208.30L671.62 208.10L671.62 207.97L671.56 207.90L671.56 207.76L671.49 207.70L671.49 207.56L671.43 207.49L671.43 207.36L671.37 207.29L671.37 207.16L671.31 207.09L671.31 206.95L671.25 206.89L671.25 206.75L671.19 206.68L671.19 206.55L671.13 206.48L671.13 206.35L671.07 206.28L671.07 206.14L671.01 206.08L671.01 205.94L670.95 205.87L670.95 205.74L670.89 205.67L670.89 205.54L670.83 205.47L670.83 205.33L670.77 205.27L670.77 205.13L670.71 205.06L670.71 204.93L670.65 204.86L670.65 204.73L670.59 204.66L670.59 204.52L670.53 204.46L670.53 204.32L670.47 204.25L670.47 204.12L670.41 204.05L670.41 203.92L670.35 203.85L670.35 203.71L670.29 203.65L670.29 203.51L670.23 203.44L670.23 203.31L670.16 203.24L670.16 203.11L670.10 203.04L670.10 202.90L670.04 202.84L670.04 202.70L669.98 202.63L669.98 202.50L669.92 202.43L669.92 202.30L669.86 202.23L669.86 202.09L669.80 202.03L669.80 201.89L669.74 201.82L669.74 201.69L669.68 201.62L669.68 201.49L669.62 201.42L669.62 201.28L669.56 201.22L669.56 201.08L669.50 201.01L669.50 200.88L669.44 200.81L669.44 200.68L669.38 200.61L669.38 200.47L669.32 200.41L669.32 200.27L669.26 200.20L669.26 200.07L669.20 200.00L669.20 199.87L669.14 199.80L669.14 199.66L669.08 199.60L669.08 199.46L669.02 199.39L669.02 199.26L668.96 199.19L668.96 199.06L668.47 197.57L668.53 197.44L669.44 197.44L669.50 197.37L669.62 197.37L670.10 196.90L670.23 196.56L670.23 196.02L670.10 195.68L669.74 195.28L669.44 195.14L664.60 195.14L664.54 195.21Z"/>
<path d="M611.51 224.54L611.25 224.68L610.87 225.08L610.73 225.35L610.67 225.76L610.61 225.82L610.61 225.96L610.54 226.03L610.54 226.16L610.47 226.23L610.47 226.36L610.41 226.43L610.41 226.57L610.34 226.63L610.34 226.77L610.28 226.84L610.28 226.97L610.21 227.04L610.21 227.17L610.15 227.24L610.15 227.38L610.08 227.44L610.08 227.58L610.02 227.65L610.02 227.78L609.95 227.85L609.95 227.98L609.89 228.05L609.89 228.19L609.82 228.25L609.82 228.39L609.76 228.46L609.76 228.59L609.69 228.66L609.69 228.79L609.63 228.86L609.63 229.00L609.56 229.06L609.56 229.20L609.50 229.27L609.50 229.40L609.43 229.47L609.43 229.60L609.37 229.67L609.37 229.81L609.30 229.88L609.30 230.01L609.24 230.08L609.24 230.21L609.17 230.28L609.17 230.41L609.11 230.48L609.11 230.62L609.04 230.69L609.04 230.82L608.98 230.89L608.98 231.02L608.91 231.09L608.91 231.22L608.85 231.29L608.85 231.43L608.78 231.49L608.78 231.63L608.72 231.70L608.72 231.83L608.65 231.90L608.65 232.03L608.59 232.10L608.59 232.24L608.52 232.30L608.52 232.44L608.46 232.51L608.46 232.64L608.39 232.71L608.39 232.84L608.33 232.91L608.33 233.05L608.26 233.11L608.26 233.25L608.20 233.32L608.20 233.45L608.13 233.52L608.13 233.66L608.07 233.72L608.07 233.86L608.00 233.92L608.00 234.06L607.94 234.13L607.94 234.26L607.88 234.33L607.88 234.46L607.81 234.53L607.81 234.67L607.75 234.73L607.03 237.10L606.90 237.30L606.90 237.44L606.77 237.70L606.77 237.91L606.70 237.97L606.70 238.11L606.64 238.18L606.64 238.31L606.57 238.38L606.57 238.51L606.51 238.58L606.51 238.72L606.44 238.78L606.44 238.92L606.38 238.99L605.66 241.35L605.53 241.55L604.56 241.55L604.23 241.69L603.84 242.09L603.71 242.43L603.71 242.97L603.78 243.04L603.78 243.17L604.23 243.71L604.56 243.85L609.76 243.85L609.82 243.78L609.95 243.78L610.47 243.31L610.61 242.97L610.61 242.43L610.47 242.09L610.08 241.69L609.76 241.55L608.00 241.55L607.94 241.48L608.72 239.05L608.78 238.99L614.12 238.99L614.24 239.19L614.24 239.32L614.31 239.39L614.31 239.53L614.38 239.59L614.38 239.73L614.44 239.80L614.44 239.93L614.50 240.00L614.50 240.13L614.57 240.20L614.57 240.34L614.63 240.41L614.96 241.48L614.89 241.55L613.92 241.55L613.59 241.69L613.20 242.09L613.07 242.43L613.07 242.97L613.20 243.31L613.59 243.71L613.92 243.85L619.12 243.85L619.18 243.78L619.31 243.78L619.44 243.71L619.90 243.17L619.90 243.04L619.96 242.97L619.96 242.43L619.90 242.36L619.90 242.23L619.83 242.09L619.31 241.62L619.18 241.62L619.12 241.55L618.14 241.55L618.01 241.35L618.01 241.21L617.95 241.15L617.95 241.01L617.88 240.94L617.88 240.81L617.82 240.74L617.82 240.61L617.75 240.54L617.75 240.41L617.69 240.34L617.69 240.20L617.62 240.13L617.62 240.00L617.56 239.93L617.56 239.80L617.50 239.73L617.50 239.59L617.43 239.53L617.43 239.39L617.37 239.32L617.37 239.19L617.30 239.12L617.30 238.99L617.23 238.92L617.23 238.78L617.17 238.72L617.17 238.58L617.11 238.51L617.11 238.38L617.04 238.31L617.04 238.18L616.97 238.11L616.97 237.97L616.91 237.91L616.91 237.77L616.84 237.70L616.84 237.57L616.78 237.50L616.78 237.37L616.71 237.30L616.71 237.16L616.65 237.10L616.65 236.96L616.58 236.89L616.58 236.76L616.52 236.69L616.52 236.56L616.45 236.49L616.45 236.35L616.39 236.29L616.39 236.15L616.32 236.08L616.32 235.95L616.26 235.88L616.26 235.75L616.19 235.68L616.19 235.54L616.13 235.48L616.13 235.34L616.06 235.27L616.06 235.14L616.00 235.07L616.00 234.94L615.93 234.87L615.93 234.73L615.87 234.67L615.87 234.53L615.80 234.46L615.80 234.33L615.74 234.26L615.74 234.13L615.67 234.06L615.67 233.92L615.61 233.86L615.61 233.72L615.54 233.66L615.54 233.52L615.48 233.45L615.48 233.32L615.41 233.25L615.41 233.11L615.35 233.05L615.35 232.91L615.28 232.84L615.28 232.71L615.22 232.64L615.22 232.51L615.15 232.44L615.15 232.30L615.09 232.24L615.09 232.10L615.02 232.03L615.02 231.90L614.96 231.83L614.96 231.70L614.89 231.63L614.89 231.49L614.83 231.43L614.83 231.29L614.76 231.22L614.76 231.09L614.70 231.02L614.70 230.89L614.63 230.82L614.63 230.69L614.57 230.62L614.57 230.48L614.50 230.41L614.50 230.28L614.44 230.21L614.44 230.08L614.38 230.01L614.38 229.88L614.31 229.81L614.31 229.67L614.24 229.60L614.24 229.47L614.18 229.40L614.18 229.27L614.12 229.20L614.12 229.06L614.05 229.00L614.05 228.86L613.98 228.79L613.98 228.66L613.92 228.59L613.92 228.46L613.85 228.39L613.85 228.25L613.79 228.19L613.79 228.05L613.72 227.98L613.72 227.85L613.66 227.78L613.66 227.65L613.59 227.58L613.59 227.44L613.53 227.38L613.53 227.24L613.01 225.76L612.94 225.35L612.81 225.08L612.42 224.68L612.16 224.54ZM611.45 230.69L611.58 230.89L611.58 231.02L611.64 231.09L611.64 231.22L611.71 231.29L611.71 231.43L611.77 231.49L611.77 231.63L611.84 231.70L611.84 231.83L611.90 231.90L611.90 232.03L611.97 232.10L611.97 232.24L612.03 232.30L612.03 232.44L612.10 232.51L612.10 232.64L612.16 232.71L612.16 232.84L612.23 232.91L612.23 233.05L612.29 233.11L612.29 233.25L612.36 233.32L612.36 233.45L612.42 233.52L612.42 233.66L612.49 233.72L612.49 233.86L612.55 233.92L612.55 234.06L612.62 234.13L612.62 234.26L612.68 234.33L612.68 234.46L612.75 234.53L612.75 234.67L612.81 234.73L612.81 234.87L612.88 234.94L612.88 235.07L613.40 236.56L613.33 236.69L609.56 236.69L609.50 236.62L609.82 235.54L609.89 235.48L609.89 235.34L609.95 235.27L609.95 235.14L610.02 235.07L610.02 234.94L610.08 234.87L610.08 234.73L610.15 234.67L610.15 234.53L610.21 234.46L610.21 234.33L610.28 234.26L610.28 234.13L610.34 234.06L610.34 233.92L610.41 233.86L610.41 233.72L610.47 233.66L610.47 233.52L610.54 233.45L610.54 233.32L610.61 233.25L610.61 233.11L610.67 233.05L610.67 232.91L610.73 232.84L610.73 232.71L610.80 232.64L610.80 232.51L610.87 232.44L610.87 232.30L610.93 232.24L610.93 232.10L611.00 232.03L611.00 231.90L611.06 231.83L611.06 231.70L611.12 231.63L611.12 231.49L611.19 231.43L611.19 231.29L611.25 231.22L611.25 231.09L611.32 231.02L611.32 230.89ZM602.28 224.68L601.96 224.54L601.44 224.54L601.12 224.68L600.72 225.08L600.53 225.55L600.53 225.76L600.40 225.96L599.94 225.49L599.68 225.35L599.29 225.28L599.23 225.22L597.73 224.74L597.34 224.54L594.35 224.54L593.96 224.74L593.83 224.74L592.40 225.28L592.21 225.28L591.75 225.49L589.80 227.51L589.67 227.85L589.67 230.08L589.74 230.14L589.74 230.28L589.87 230.41L590.58 231.97L591.75 233.18L593.57 234.13L593.96 234.19L594.03 234.26L594.16 234.26L594.22 234.33L594.35 234.33L594.42 234.40L594.55 234.40L594.62 234.46L594.75 234.46L594.81 234.53L594.94 234.53L595.00 234.60L595.13 234.60L595.20 234.67L595.33 234.67L595.39 234.73L595.52 234.73L595.59 234.80L597.87 235.54L598.19 235.75L598.32 235.75L599.55 236.42L600.59 237.50L600.59 239.80L599.55 240.88L598.51 241.21L598.45 241.28L598.32 241.28L598.25 241.35L598.12 241.35L598.06 241.42L597.93 241.42L597.87 241.48L597.67 241.48L597.60 241.55L595.65 241.55L595.59 241.48L595.39 241.48L595.33 241.42L595.20 241.42L595.13 241.35L595.00 241.35L594.94 241.28L594.81 241.28L594.75 241.21L593.70 240.88L592.53 239.66L592.21 238.58L592.14 238.51L592.14 238.38L592.08 238.31L592.08 238.18L592.01 238.11L592.01 237.97L591.95 237.91L591.95 237.70L591.75 237.23L591.37 236.83L591.04 236.69L590.52 236.69L590.19 236.83L589.80 237.23L589.67 237.57L589.67 242.97L589.80 243.31L590.19 243.71L590.52 243.85L591.04 243.85L591.37 243.71L591.75 243.31L591.95 242.83L591.95 242.63L592.08 242.43L592.53 242.90L592.79 243.04L593.18 243.10L593.25 243.17L594.75 243.64L595.13 243.85L598.12 243.85L598.51 243.64L598.64 243.64L600.07 243.10L600.27 243.10L600.72 242.90L602.67 240.88L602.80 240.54L602.80 236.69L601.89 234.80L600.72 233.59L598.90 232.64L598.51 232.57L598.45 232.51L598.32 232.51L598.25 232.44L598.12 232.44L598.06 232.37L597.93 232.37L597.87 232.30L597.73 232.30L597.67 232.24L597.54 232.24L597.47 232.17L597.34 232.17L597.28 232.10L597.15 232.10L597.08 232.03L596.95 232.03L596.89 231.97L594.62 231.22L594.29 231.02L594.16 231.02L592.92 230.35L591.88 229.27L591.88 228.59L592.92 227.51L593.05 227.44L593.18 227.44L594.62 226.90L594.81 226.90L594.88 226.84L596.82 226.84L596.89 226.90L597.08 226.90L597.15 226.97L597.28 226.97L597.34 227.04L597.47 227.04L597.54 227.11L597.67 227.11L597.73 227.17L598.77 227.51L599.94 228.73L600.27 229.81L600.33 229.88L600.33 230.01L600.40 230.08L600.40 230.21L600.46 230.28L600.46 230.41L600.53 230.48L600.53 230.69L600.72 231.16L601.12 231.56L601.44 231.70L601.96 231.70L602.02 231.63L602.15 231.63L602.67 231.16L602.80 230.82L602.80 225.42L602.67 225.08ZM580.31 224.54L580.05 224.68L579.66 225.08L579.53 225.35L579.47 225.76L579.40 225.82L579.40 225.96L579.34 226.03L579.34 226.16L579.27 226.23L579.27 226.36L579.21 226.43L579.21 226.57L579.14 226.63L579.14 226.77L579.08 226.84L579.08 226.97L579.01 227.04L579.01 227.17L578.95 227.24L578.95 227.38L578.88 227.44L578.88 227.58L578.82 227.65L578.82 227.78L578.75 227.85L578.75 227.98L578.69 228.05L578.69 228.19L578.62 228.25L578.62 228.39L578.56 228.46L578.56 228.59L578.50 228.66L578.50 228.79L578.43 228.86L578.43 229.00L578.37 229.06L578.37 229.20L578.30 229.27L578.30 229.40L578.23 229.47L578.23 229.60L578.17 229.67L578.17 229.81L578.10 229.88L578.10 230.01L578.04 230.08L578.04 230.21L577.97 230.28L577.97 230.41L577.91 230.48L577.91 230.62L577.84 230.69L577.84 230.82L577.78 230.89L577.78 231.02L577.71 231.09L577.71 231.22L577.65 231.29L577.65 231.43L577.58 231.49L577.58 231.63L577.52 231.70L577.52 231.83L577.45 231.90L577.45 232.03L577.39 232.10L577.39 232.24L577.32 232.30L577.32 232.44L577.26 232.51L577.26 232.64L577.19 232.71L577.19 232.84L577.13 232.91L577.13 233.05L577.06 233.11L577.06 233.25L577.00 233.32L577.00 233.45L576.93 233.52L576.93 233.66L576.87 233.72L576.87 233.86L576.80 233.92L576.80 234.06L576.74 234.13L576.74 234.26L576.67 234.33L576.67 234.46L576.61 234.53L576.61 234.67L576.54 234.73L575.83 237.10L575.70 237.30L575.70 237.44L575.57 237.70L575.57 237.91L575.50 237.97L575.50 238.11L575.44 238.18L575.44 238.31L575.38 238.38L575.38 238.51L575.31 238.58L575.31 238.72L575.25 238.78L575.25 238.92L575.18 238.99L574.46 241.35L574.33 241.55L573.36 241.55L573.03 241.69L572.64 242.09L572.51 242.43L572.51 242.97L572.58 243.04L572.58 243.17L573.03 243.71L573.36 243.85L578.56 243.85L578.62 243.78L578.75 243.78L579.27 243.31L579.40 242.97L579.40 242.43L579.27 242.09L578.88 241.69L578.56 241.55L576.80 241.55L576.74 241.48L577.52 239.05L577.58 238.99L582.91 238.99L583.04 239.19L583.04 239.32L583.11 239.39L583.11 239.53L583.17 239.59L583.17 239.73L583.24 239.80L583.24 239.93L583.30 240.00L583.30 240.13L583.37 240.20L583.37 240.34L583.43 240.41L583.76 241.48L583.69 241.55L582.72 241.55L582.39 241.69L582.00 242.09L581.88 242.43L581.88 242.97L582.00 243.31L582.39 243.71L582.72 243.85L587.92 243.85L587.98 243.78L588.12 243.78L588.25 243.71L588.70 243.17L588.70 243.04L588.76 242.97L588.76 242.43L588.70 242.36L588.70 242.23L588.63 242.09L588.12 241.62L587.98 241.62L587.92 241.55L586.94 241.55L586.81 241.35L586.81 241.21L586.75 241.15L586.75 241.01L586.68 240.94L586.68 240.81L586.62 240.74L586.62 240.61L586.55 240.54L586.55 240.41L586.49 240.34L586.49 240.20L586.42 240.13L586.42 240.00L586.36 239.93L586.36 239.80L586.29 239.73L586.29 239.59L586.23 239.53L586.23 239.39L586.16 239.32L586.16 239.19L586.10 239.12L586.10 238.99L586.03 238.92L586.03 238.78L585.97 238.72L585.97 238.58L585.90 238.51L585.90 238.38L585.84 238.31L585.84 238.18L585.77 238.11L585.77 237.97L585.71 237.91L585.71 237.77L585.64 237.70L585.64 237.57L585.58 237.50L585.58 237.37L585.51 237.30L585.51 237.16L585.45 237.10L585.45 236.96L585.38 236.89L585.38 236.76L585.32 236.69L585.32 236.56L585.25 236.49L585.25 236.35L585.19 236.29L585.19 236.15L585.12 236.08L585.12 235.95L585.06 235.88L585.06 235.75L585.00 235.68L585.00 235.54L584.93 235.48L584.93 235.34L584.87 235.27L584.87 235.14L584.80 235.07L584.80 234.94L584.73 234.87L584.73 234.73L584.67 234.67L584.67 234.53L584.61 234.46L584.61 234.33L584.54 234.26L584.54 234.13L584.47 234.06L584.47 233.92L584.41 233.86L584.41 233.72L584.34 233.66L584.34 233.52L584.28 233.45L584.28 233.32L584.21 233.25L584.21 233.11L584.15 233.05L584.15 232.91L584.08 232.84L584.08 232.71L584.02 232.64L584.02 232.51L583.95 232.44L583.95 232.30L583.89 232.24L583.89 232.10L583.82 232.03L583.82 231.90L583.76 231.83L583.76 231.70L583.69 231.63L583.69 231.49L583.63 231.43L583.63 231.29L583.56 231.22L583.56 231.09L583.50 231.02L583.50 230.89L583.43 230.82L583.43 230.69L583.37 230.62L583.37 230.48L583.30 230.41L583.30 230.28L583.24 230.21L583.24 230.08L583.17 230.01L583.17 229.88L583.11 229.81L583.11 229.67L583.04 229.60L583.04 229.47L582.98 229.40L582.98 229.27L582.91 229.20L582.91 229.06L582.85 229.00L582.85 228.86L582.78 228.79L582.78 228.66L582.72 228.59L582.72 228.46L582.65 228.39L582.65 228.25L582.59 228.19L582.59 228.05L582.52 227.98L582.52 227.85L582.46 227.78L582.46 227.65L582.39 227.58L582.39 227.44L582.33 227.38L582.33 227.24L581.81 225.76L581.75 225.35L581.62 225.08L581.22 224.68L580.96 224.54ZM580.25 230.69L580.38 230.89L580.38 231.02L580.44 231.09L580.44 231.22L580.51 231.29L580.51 231.43L580.57 231.49L580.57 231.63L580.64 231.70L580.64 231.83L580.70 231.90L580.70 232.03L580.77 232.10L580.77 232.24L580.83 232.30L580.83 232.44L580.90 232.51L580.90 232.64L580.96 232.71L580.96 232.84L581.03 232.91L581.03 233.05L581.09 233.11L581.09 233.25L581.16 233.32L581.16 233.45L581.22 233.52L581.22 233.66L581.29 233.72L581.29 233.86L581.35 233.92L581.35 234.06L581.42 234.13L581.42 234.26L581.48 234.33L581.48 234.46L581.55 234.53L581.55 234.67L581.62 234.73L581.62 234.87L581.68 234.94L581.68 235.07L582.20 236.56L582.13 236.69L578.37 236.69L578.30 236.62L578.62 235.54L578.69 235.48L578.69 235.34L578.75 235.27L578.75 235.14L578.82 235.07L578.82 234.94L578.88 234.87L578.88 234.73L578.95 234.67L578.95 234.53L579.01 234.46L579.01 234.33L579.08 234.26L579.08 234.13L579.14 234.06L579.14 233.92L579.21 233.86L579.21 233.72L579.27 233.66L579.27 233.52L579.34 233.45L579.34 233.32L579.40 233.25L579.40 233.11L579.47 233.05L579.47 232.91L579.53 232.84L579.53 232.71L579.60 232.64L579.60 232.51L579.66 232.44L579.66 232.30L579.73 232.24L579.73 232.10L579.79 232.03L579.79 231.90L579.86 231.83L579.86 231.70L579.92 231.63L579.92 231.49L579.99 231.43L579.99 231.29L580.05 231.22L580.05 231.09L580.12 231.02L580.12 230.89ZM559.77 225.49L557.82 227.51L556.91 229.40L556.85 229.81L556.78 229.88L556.33 231.43L556.13 231.83L556.13 236.56L556.33 236.96L556.33 237.10L556.85 238.58L556.91 238.99L557.82 240.88L559.77 242.90L560.23 243.10L560.42 243.10L560.49 243.17L561.98 243.64L562.38 243.85L564.58 243.85L564.97 243.64L565.10 243.64L566.53 243.10L566.73 243.10L566.99 242.97L567.12 243.04L567.18 243.31L567.57 243.71L567.90 243.85L568.42 243.85L568.48 243.78L568.62 243.78L568.68 243.85L569.20 243.85L569.52 243.71L569.91 243.31L570.04 242.97L570.04 237.44L570.11 237.37L571.54 237.37L571.87 237.23L572.25 236.83L572.38 236.49L572.38 235.95L572.25 235.61L571.87 235.21L571.54 235.07L565.56 235.07L565.23 235.21L564.84 235.61L564.71 235.95L564.71 236.49L564.78 236.56L564.78 236.69L565.23 237.23L565.56 237.37L566.99 237.37L567.05 237.44L567.05 239.80L566.01 240.88L565.88 240.94L565.75 240.94L564.32 241.48L564.13 241.48L564.06 241.55L562.96 241.55L561.72 240.88L560.55 239.66L559.90 238.38L559.90 238.24L559.71 237.91L559.71 237.77L559.19 236.29L559.19 236.08L559.12 236.02L559.12 232.37L559.19 232.30L559.19 232.10L559.25 232.03L559.71 230.48L560.55 228.73L561.72 227.51L562.96 226.84L564.06 226.84L564.13 226.90L564.32 226.90L564.39 226.97L564.52 226.97L564.58 227.04L564.71 227.04L564.78 227.11L564.91 227.11L564.97 227.17L566.01 227.51L567.18 228.73L567.51 229.81L567.57 229.88L567.57 230.01L567.64 230.08L567.64 230.21L567.70 230.28L567.70 230.41L567.77 230.48L567.77 230.69L567.96 231.16L568.35 231.56L568.68 231.70L569.20 231.70L569.52 231.56L569.91 231.16L570.04 230.82L570.04 225.42L569.91 225.08L569.52 224.68L569.20 224.54L568.68 224.54L568.62 224.61L568.48 224.61L567.96 225.08L567.77 225.55L567.77 225.76L567.64 225.96L567.18 225.49L566.92 225.35L566.53 225.28L566.47 225.22L564.97 224.74L564.58 224.54L562.38 224.54L561.98 224.74L561.85 224.74L560.42 225.28L560.23 225.28ZM546.77 224.54L546.51 224.68L546.12 225.08L546.00 225.35L545.93 225.76L545.87 225.82L545.87 225.96L545.80 226.03L545.80 226.16L545.73 226.23L545.73 226.36L545.67 226.43L545.67 226.57L545.60 226.63L545.60 226.77L545.54 226.84L545.54 226.97L545.47 227.04L545.47 227.17L545.41 227.24L545.41 227.38L545.34 227.44L545.34 227.58L545.28 227.65L545.28 227.78L545.21 227.85L545.21 227.98L545.15 228.05L545.15 228.19L545.08 228.25L545.08 228.39L545.02 228.46L545.02 228.59L544.95 228.66L544.95 228.79L544.89 228.86L544.89 229.00L544.82 229.06L544.82 229.20L544.76 229.27L544.76 229.40L544.69 229.47L544.69 229.60L544.63 229.67L544.63 229.81L544.56 229.88L544.56 230.01L544.50 230.08L544.50 230.21L544.43 230.28L544.43 230.41L544.37 230.48L544.37 230.62L544.30 230.69L544.30 230.82L544.24 230.89L544.24 231.02L544.17 231.09L544.17 231.22L544.11 231.29L544.11 231.43L544.04 231.49L544.04 231.63L543.98 231.70L543.98 231.83L543.91 231.90L543.91 232.03L543.85 232.10L543.85 232.24L543.78 232.30L543.78 232.44L543.72 232.51L543.72 232.64L543.65 232.71L543.65 232.84L543.59 232.91L543.59 233.05L543.52 233.11L543.52 233.25L543.46 233.32L543.46 233.45L543.39 233.52L543.39 233.66L543.33 233.72L543.33 233.86L543.26 233.92L543.26 234.06L543.20 234.13L543.20 234.26L543.13 234.33L543.13 234.46L543.07 234.53L543.07 234.67L543.00 234.73L542.29 237.10L542.16 237.30L542.16 237.44L542.03 237.70L542.03 237.91L541.96 237.97L541.96 238.11L541.90 238.18L541.90 238.31L541.83 238.38L541.83 238.51L541.77 238.58L541.77 238.72L541.70 238.78L541.70 238.92L541.64 238.99L540.92 241.35L540.79 241.55L539.82 241.55L539.50 241.69L539.10 242.09L538.97 242.43L538.97 242.97L539.04 243.04L539.04 243.17L539.50 243.71L539.82 243.85L545.02 243.85L545.08 243.78L545.21 243.78L545.73 243.31L545.87 242.97L545.87 242.43L545.73 242.09L545.34 241.69L545.02 241.55L543.26 241.55L543.20 241.48L543.98 239.05L544.04 238.99L549.38 238.99L549.50 239.19L549.50 239.32L549.57 239.39L549.57 239.53L549.63 239.59L549.63 239.73L549.70 239.80L549.70 239.93L549.76 240.00L549.76 240.13L549.83 240.20L549.83 240.34L549.89 240.41L550.22 241.48L550.15 241.55L549.18 241.55L548.85 241.69L548.46 242.09L548.33 242.43L548.33 242.97L548.46 243.31L548.85 243.71L549.18 243.85L554.38 243.85L554.44 243.78L554.57 243.78L554.70 243.71L555.16 243.17L555.16 243.04L555.22 242.97L555.22 242.43L555.16 242.36L555.16 242.23L555.09 242.09L554.57 241.62L554.44 241.62L554.38 241.55L553.40 241.55L553.27 241.35L553.27 241.21L553.21 241.15L553.21 241.01L553.14 240.94L553.14 240.81L553.08 240.74L553.08 240.61L553.01 240.54L553.01 240.41L552.95 240.34L552.95 240.20L552.88 240.13L552.88 240.00L552.82 239.93L552.82 239.80L552.75 239.73L552.75 239.59L552.69 239.53L552.69 239.39L552.62 239.32L552.62 239.19L552.56 239.12L552.56 238.99L552.50 238.92L552.50 238.78L552.43 238.72L552.43 238.58L552.37 238.51L552.37 238.38L552.30 238.31L552.30 238.18L552.23 238.11L552.23 237.97L552.17 237.91L552.17 237.77L552.10 237.70L552.10 237.57L552.04 237.50L552.04 237.37L551.97 237.30L551.97 237.16L551.91 237.10L551.91 236.96L551.84 236.89L551.84 236.76L551.78 236.69L551.78 236.56L551.71 236.49L551.71 236.35L551.65 236.29L551.65 236.15L551.58 236.08L551.58 235.95L551.52 235.88L551.52 235.75L551.45 235.68L551.45 235.54L551.39 235.48L551.39 235.34L551.32 235.27L551.32 235.14L551.26 235.07L551.26 234.94L551.19 234.87L551.19 234.73L551.13 234.67L551.13 234.53L551.06 234.46L551.06 234.33L551.00 234.26L551.00 234.13L550.93 234.06L550.93 233.92L550.87 233.86L550.87 233.72L550.80 233.66L550.80 233.52L550.74 233.45L550.74 233.32L550.67 233.25L550.67 233.11L550.61 233.05L550.61 232.91L550.54 232.84L550.54 232.71L550.48 232.64L550.48 232.51L550.41 232.44L550.41 232.30L550.35 232.24L550.35 232.10L550.28 232.03L550.28 231.90L550.22 231.83L550.22 231.70L550.15 231.63L550.15 231.49L550.09 231.43L550.09 231.29L550.02 231.22L550.02 231.09L549.96 231.02L549.96 230.89L549.89 230.82L549.89 230.69L549.83 230.62L549.83 230.48L549.76 230.41L549.76 230.28L549.70 230.21L549.70 230.08L549.63 230.01L549.63 229.88L549.57 229.81L549.57 229.67L549.50 229.60L549.50 229.47L549.44 229.40L549.44 229.27L549.38 229.20L549.38 229.06L549.31 229.00L549.31 228.86L549.25 228.79L549.25 228.66L549.18 228.59L549.18 228.46L549.12 228.39L549.12 228.25L549.05 228.19L549.05 228.05L548.98 227.98L548.98 227.85L548.92 227.78L548.92 227.65L548.85 227.58L548.85 227.44L548.79 227.38L548.79 227.24L548.27 225.76L548.20 225.35L548.07 225.08L547.68 224.68L547.42 224.54ZM546.71 230.69L546.84 230.89L546.84 231.02L546.90 231.09L546.90 231.22L546.97 231.29L546.97 231.43L547.03 231.49L547.03 231.63L547.10 231.70L547.10 231.83L547.16 231.90L547.16 232.03L547.23 232.10L547.23 232.24L547.29 232.30L547.29 232.44L547.36 232.51L547.36 232.64L547.42 232.71L547.42 232.84L547.49 232.91L547.49 233.05L547.55 233.11L547.55 233.25L547.62 233.32L547.62 233.45L547.68 233.52L547.68 233.66L547.75 233.72L547.75 233.86L547.81 233.92L547.81 234.06L547.88 234.13L547.88 234.26L547.94 234.33L547.94 234.46L548.01 234.53L548.01 234.67L548.07 234.73L548.07 234.87L548.14 234.94L548.14 235.07L548.66 236.56L548.59 236.69L544.82 236.69L544.76 236.62L545.08 235.54L545.15 235.48L545.15 235.34L545.21 235.27L545.21 235.14L545.28 235.07L545.28 234.94L545.34 234.87L545.34 234.73L545.41 234.67L545.41 234.53L545.47 234.46L545.47 234.33L545.54 234.26L545.54 234.13L545.60 234.06L545.60 233.92L545.67 233.86L545.67 233.72L545.73 233.66L545.73 233.52L545.80 233.45L545.80 233.32L545.87 233.25L545.87 233.11L545.93 233.05L545.93 232.91L546.00 232.84L546.00 232.71L546.06 232.64L546.06 232.51L546.12 232.44L546.12 232.30L546.19 232.24L546.19 232.10L546.25 232.03L546.25 231.90L546.32 231.83L546.32 231.70L546.38 231.63L546.38 231.49L546.45 231.43L546.45 231.29L546.51 231.22L546.51 231.09L546.58 231.02L546.58 230.89Z"/>
</g>
</svg>
</body></html>
